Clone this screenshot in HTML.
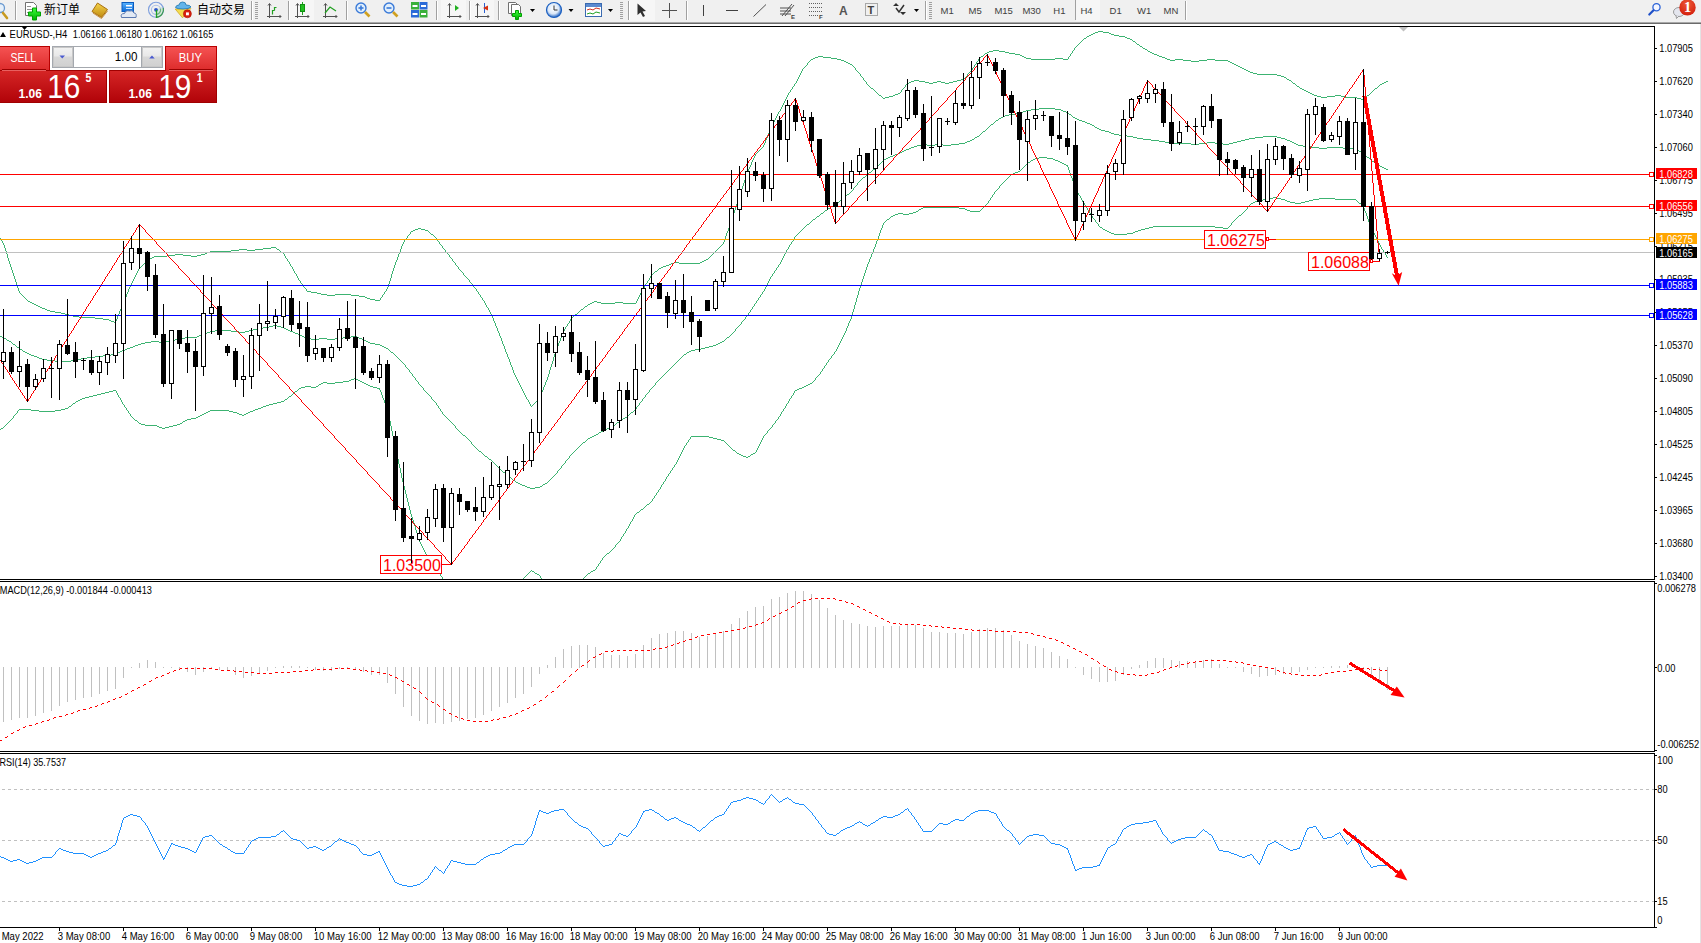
<!DOCTYPE html><html><head><meta charset="utf-8"><style>html,body{margin:0;padding:0;background:#fff;width:1701px;height:943px;overflow:hidden;position:relative;font-family:"Liberation Sans",Arial,sans-serif}#tb{position:absolute;left:0;top:0;width:1701px;height:22px;background:#f0f0f0}#tb1{position:absolute;left:0;top:22px;width:1701px;height:1px;background:#a9a9a9}#tb2{position:absolute;left:0;top:23px;width:1701px;height:1px;background:#6d6d6d}</style></head><body>
<svg width="1701" height="943" viewBox="0 0 1701 943" style="position:absolute;left:0;top:0">
<defs><clipPath id="cm"><rect x="0" y="27" width="1654" height="552"/></clipPath><clipPath id="cd"><rect x="0" y="582" width="1654" height="169"/></clipPath><clipPath id="cr"><rect x="0" y="754" width="1654" height="173"/></clipPath></defs>
<g shape-rendering="crispEdges" fill="none" stroke="#000" stroke-width="1">
<polyline points="0,26.5 1654.5,26.5 1654.5,579.5 0,579.5"/>
<polyline points="0,581.5 1654.5,581.5 1654.5,751.5 0,751.5"/>
<polyline points="0,753.5 1654.5,753.5 1654.5,927.5 0,927.5"/>
</g>
<path d="M22,27 L27,27 L24.5,30 Z" fill="#000"/>
<path d="M1399,27 L1408,27 L1403.5,31.5 Z" fill="#c0c0c0"/>
<g clip-path="url(#cm)">
<path fill="#3cb371" d="M1098 31h5v1h-5zM1095 32h3v1h-3zM1103 32h6v1h-6zM1093 33h2v1h-2zM1109 33h2v1h-2zM1091 34h2v1h-2zM1111 34h3v1h-3zM1089 35h2v1h-2zM1114 35h5v1h-5zM1087 36h2v1h-2zM1119 36h6v1h-6zM1086 37h1v1h-1zM1125 37h2v1h-2zM1084 38h2v1h-2zM1127 38h3v1h-3zM1083 39h1v1h-1zM1130 39h2v1h-2zM1082 40h1v1h-1zM1132 40h1v1h-1zM1081 41h1v1h-1zM1133 41h2v1h-2zM1080 42h1v1h-1zM1135 42h1v1h-1zM1079 43h1v1h-1zM1136 43h1v1h-1zM1078 44h1v1h-1zM1137 44h2v1h-2zM1077 45h1v1h-1zM1139 45h1v1h-1zM1076 46h1v1h-1zM1140 46h2v1h-2zM1075 47h1v1h-1zM1142 47h1v1h-1zM1074 48h1v1h-1zM1143 48h2v1h-2zM1074 49h1v1h-1zM1145 49h2v1h-2zM993 50h6v1h-6zM1073 50h1v1h-1zM1147 50h1v1h-1zM989 51h4v1h-4zM999 51h6v1h-6zM1072 51h1v1h-1zM1148 51h2v1h-2zM987 52h2v1h-2zM1005 52h4v1h-4zM1072 52h1v1h-1zM1150 52h2v1h-2zM985 53h2v1h-2zM1009 53h6v1h-6zM1071 53h1v1h-1zM1152 53h2v1h-2zM984 54h1v1h-1zM1015 54h5v1h-5zM1070 54h1v1h-1zM1154 54h3v1h-3zM983 55h1v1h-1zM1020 55h2v1h-2zM1070 55h1v1h-1zM1157 55h2v1h-2zM818 56h5v1h-5zM981 56h2v1h-2zM1022 56h2v1h-2zM1069 56h1v1h-1zM1159 56h3v1h-3zM815 57h3v1h-3zM823 57h8v1h-8zM980 57h1v1h-1zM1024 57h2v1h-2zM1068 57h1v1h-1zM1162 57h3v1h-3zM813 58h2v1h-2zM831 58h6v1h-6zM979 58h1v1h-1zM1026 58h5v1h-5zM1055 58h8v1h-8zM1068 58h1v1h-1zM1165 58h2v1h-2zM811 59h2v1h-2zM837 59h4v1h-4zM978 59h1v1h-1zM1031 59h24v1h-24zM1063 59h5v1h-5zM1167 59h3v1h-3zM1175 59h8v1h-8zM1207 59h8v1h-8zM810 60h1v1h-1zM841 60h3v1h-3zM978 60h1v1h-1zM1170 60h5v1h-5zM1183 60h8v1h-8zM1199 60h8v1h-8zM1215 60h13v1h-13zM809 61h1v1h-1zM844 61h2v1h-2zM977 61h1v1h-1zM1191 61h8v1h-8zM1228 61h2v1h-2zM808 62h1v1h-1zM846 62h2v1h-2zM976 62h1v1h-1zM1230 62h2v1h-2zM807 63h1v1h-1zM848 63h2v1h-2zM976 63h1v1h-1zM1232 63h2v1h-2zM807 64h1v1h-1zM850 64h2v1h-2zM975 64h1v1h-1zM1234 64h2v1h-2zM806 65h1v1h-1zM852 65h1v1h-1zM974 65h1v1h-1zM1236 65h2v1h-2zM805 66h1v1h-1zM853 66h1v1h-1zM974 66h1v1h-1zM1238 66h2v1h-2zM804 67h1v1h-1zM854 67h1v1h-1zM973 67h1v1h-1zM1240 67h2v1h-2zM803 68h1v1h-1zM855 68h1v1h-1zM972 68h1v1h-1zM1242 68h2v1h-2zM802 69h1v1h-1zM855 69h1v1h-1zM972 69h1v1h-1zM1244 69h2v1h-2zM802 70h1v1h-1zM856 70h1v1h-1zM971 70h1v1h-1zM1246 70h2v1h-2zM801 71h1v1h-1zM857 71h1v1h-1zM970 71h1v1h-1zM1248 71h2v1h-2zM801 72h1v1h-1zM858 72h1v1h-1zM969 72h1v1h-1zM1250 72h3v1h-3zM800 73h1v1h-1zM859 73h1v1h-1zM968 73h1v1h-1zM1253 73h4v1h-4zM800 74h1v1h-1zM860 74h1v1h-1zM967 74h1v1h-1zM1257 74h20v1h-20zM799 75h1v1h-1zM860 75h1v1h-1zM967 75h1v1h-1zM1277 75h4v1h-4zM799 76h1v1h-1zM861 76h1v1h-1zM966 76h1v1h-1zM1281 76h3v1h-3zM798 77h1v1h-1zM862 77h1v1h-1zM965 77h1v1h-1zM1284 77h2v1h-2zM798 78h1v1h-1zM863 78h1v1h-1zM964 78h1v1h-1zM1286 78h1v1h-1zM797 79h1v1h-1zM863 79h1v1h-1zM961 79h3v1h-3zM1287 79h2v1h-2zM797 80h1v1h-1zM864 80h1v1h-1zM914 80h5v1h-5zM957 80h4v1h-4zM1289 80h2v1h-2zM796 81h1v1h-1zM865 81h1v1h-1zM911 81h3v1h-3zM919 81h6v1h-6zM937 81h4v1h-4zM953 81h4v1h-4zM1291 81h1v1h-1zM1386 81h2v1h-2zM796 82h1v1h-1zM866 82h1v1h-1zM909 82h2v1h-2zM925 82h4v1h-4zM933 82h4v1h-4zM941 82h4v1h-4zM949 82h4v1h-4zM1292 82h1v1h-1zM1384 82h2v1h-2zM795 83h1v1h-1zM866 83h1v1h-1zM907 83h2v1h-2zM929 83h4v1h-4zM945 83h4v1h-4zM1293 83h2v1h-2zM1382 83h2v1h-2zM794 84h1v1h-1zM867 84h1v1h-1zM906 84h1v1h-1zM1295 84h1v1h-1zM1380 84h2v1h-2zM794 85h1v1h-1zM868 85h1v1h-1zM905 85h1v1h-1zM1296 85h1v1h-1zM1379 85h1v1h-1zM793 86h1v1h-1zM869 86h1v1h-1zM905 86h1v1h-1zM1297 86h2v1h-2zM1378 86h1v1h-1zM792 87h1v1h-1zM870 87h1v1h-1zM904 87h1v1h-1zM1299 87h1v1h-1zM1377 87h1v1h-1zM792 88h1v1h-1zM871 88h2v1h-2zM903 88h1v1h-1zM1300 88h2v1h-2zM1375 88h2v1h-2zM791 89h1v1h-1zM873 89h1v1h-1zM902 89h1v1h-1zM1302 89h2v1h-2zM1374 89h1v1h-1zM790 90h1v1h-1zM874 90h1v1h-1zM901 90h1v1h-1zM1304 90h2v1h-2zM1373 90h1v1h-1zM790 91h1v1h-1zM875 91h1v1h-1zM901 91h1v1h-1zM1306 91h2v1h-2zM1372 91h1v1h-1zM789 92h1v1h-1zM876 92h1v1h-1zM900 92h1v1h-1zM1308 92h2v1h-2zM1371 92h1v1h-1zM788 93h1v1h-1zM877 93h1v1h-1zM898 93h2v1h-2zM1310 93h2v1h-2zM1370 93h1v1h-1zM788 94h1v1h-1zM878 94h1v1h-1zM895 94h3v1h-3zM1312 94h2v1h-2zM1369 94h1v1h-1zM787 95h1v1h-1zM879 95h2v1h-2zM893 95h2v1h-2zM1314 95h3v1h-3zM1335 95h6v1h-6zM1367 95h2v1h-2zM787 96h1v1h-1zM881 96h1v1h-1zM889 96h4v1h-4zM1317 96h4v1h-4zM1327 96h8v1h-8zM1341 96h4v1h-4zM1366 96h1v1h-1zM786 97h1v1h-1zM882 97h1v1h-1zM885 97h4v1h-4zM1321 97h6v1h-6zM1345 97h12v1h-12zM1365 97h1v1h-1zM786 98h1v1h-1zM883 98h2v1h-2zM1357 98h4v1h-4zM1364 98h1v1h-1zM785 99h1v1h-1zM1361 99h3v1h-3zM785 100h1v1h-1zM784 101h1v1h-1zM784 102h1v1h-1zM783 103h1v1h-1zM783 104h1v1h-1zM782 105h1v1h-1zM782 106h1v1h-1zM781 107h1v1h-1zM781 108h1v1h-1zM780 109h1v1h-1zM780 110h1v1h-1zM779 111h1v1h-1zM778 112h1v1h-1zM778 113h1v1h-1zM777 114h1v1h-1zM777 115h1v1h-1zM776 116h1v1h-1zM776 117h1v1h-1zM775 118h1v1h-1zM775 119h1v1h-1zM774 120h1v1h-1zM774 121h1v1h-1zM773 122h1v1h-1zM773 123h1v1h-1zM772 124h1v1h-1zM772 125h1v1h-1zM771 126h1v1h-1zM771 127h1v1h-1zM770 128h1v1h-1zM770 129h1v1h-1zM769 130h1v1h-1zM769 131h1v1h-1zM769 132h1v1h-1zM768 133h1v1h-1zM768 134h1v1h-1zM767 135h1v1h-1zM767 136h1v1h-1zM767 137h1v1h-1zM766 138h1v1h-1zM766 139h1v1h-1zM765 140h1v1h-1zM765 141h1v1h-1zM765 142h1v1h-1zM764 143h1v1h-1zM764 144h1v1h-1zM763 145h1v1h-1zM763 146h1v1h-1zM762 147h1v1h-1zM761 148h1v1h-1zM760 149h1v1h-1zM759 150h1v1h-1zM758 151h1v1h-1zM757 152h1v1h-1zM756 153h1v1h-1zM755 154h1v1h-1zM755 155h1v1h-1zM754 156h1v1h-1zM754 157h1v1h-1zM753 158h1v1h-1zM753 159h1v1h-1zM752 160h1v1h-1zM752 161h1v1h-1zM751 162h1v1h-1zM751 163h1v1h-1zM751 164h1v1h-1zM750 165h1v1h-1zM750 166h1v1h-1zM749 167h1v1h-1zM749 168h1v1h-1zM748 169h1v1h-1zM748 170h1v1h-1zM747 171h1v1h-1zM747 172h1v1h-1zM747 173h1v1h-1zM746 174h1v1h-1zM746 175h1v1h-1zM746 176h1v1h-1zM745 177h1v1h-1zM745 178h1v1h-1zM745 179h1v1h-1zM744 180h1v1h-1zM744 181h1v1h-1zM744 182h1v1h-1zM743 183h1v1h-1zM743 184h1v1h-1zM743 185h1v1h-1zM742 186h1v1h-1zM742 187h1v1h-1zM742 188h1v1h-1zM741 189h1v1h-1zM741 190h1v1h-1zM741 191h1v1h-1zM740 192h1v1h-1zM740 193h1v1h-1zM740 194h1v1h-1zM739 195h1v1h-1zM739 196h1v1h-1zM739 197h1v1h-1zM738 198h1v1h-1zM738 199h1v1h-1zM738 200h1v1h-1zM737 201h1v1h-1zM737 202h1v1h-1zM737 203h1v1h-1zM736 204h1v1h-1zM736 205h1v1h-1zM736 206h1v1h-1zM735 207h1v1h-1zM735 208h1v1h-1zM735 209h1v1h-1zM734 210h1v1h-1zM734 211h1v1h-1zM734 212h1v1h-1zM733 213h1v1h-1zM733 214h1v1h-1zM733 215h1v1h-1zM732 216h1v1h-1zM732 217h1v1h-1zM732 218h1v1h-1zM731 219h1v1h-1zM731 220h1v1h-1zM731 221h1v1h-1zM730 222h1v1h-1zM730 223h1v1h-1zM730 224h1v1h-1zM729 225h1v1h-1zM729 226h1v1h-1zM729 227h1v1h-1zM418 228h3v1h-3zM728 228h1v1h-1zM415 229h3v1h-3zM421 229h4v1h-4zM728 229h1v1h-1zM413 230h2v1h-2zM425 230h3v1h-3zM728 230h1v1h-1zM411 231h2v1h-2zM428 231h1v1h-1zM727 231h1v1h-1zM410 232h1v1h-1zM429 232h1v1h-1zM727 232h1v1h-1zM410 233h1v1h-1zM430 233h1v1h-1zM726 233h1v1h-1zM409 234h1v1h-1zM431 234h2v1h-2zM726 234h1v1h-1zM408 235h1v1h-1zM433 235h1v1h-1zM726 235h1v1h-1zM407 236h1v1h-1zM434 236h1v1h-1zM725 236h1v1h-1zM407 237h1v1h-1zM435 237h1v1h-1zM725 237h1v1h-1zM0 238h1v1h-1zM406 238h1v1h-1zM436 238h1v1h-1zM725 238h1v1h-1zM1 239h1v1h-1zM405 239h1v1h-1zM436 239h1v1h-1zM724 239h1v1h-1zM1 240h1v1h-1zM404 240h1v1h-1zM437 240h1v1h-1zM724 240h1v1h-1zM2 241h1v1h-1zM404 241h1v1h-1zM438 241h1v1h-1zM724 241h1v1h-1zM2 242h1v1h-1zM403 242h1v1h-1zM439 242h1v1h-1zM723 242h1v1h-1zM3 243h1v1h-1zM403 243h1v1h-1zM439 243h1v1h-1zM723 243h1v1h-1zM3 244h1v1h-1zM402 244h1v1h-1zM440 244h1v1h-1zM722 244h1v1h-1zM4 245h1v1h-1zM402 245h1v1h-1zM441 245h1v1h-1zM721 245h1v1h-1zM4 246h1v1h-1zM401 246h1v1h-1zM442 246h1v1h-1zM720 246h1v1h-1zM4 247h1v1h-1zM271 247h5v1h-5zM401 247h1v1h-1zM442 247h1v1h-1zM719 247h1v1h-1zM5 248h1v1h-1zM263 248h8v1h-8zM276 248h1v1h-1zM401 248h1v1h-1zM443 248h1v1h-1zM718 248h1v1h-1zM5 249h1v1h-1zM239 249h8v1h-8zM255 249h8v1h-8zM277 249h2v1h-2zM400 249h1v1h-1zM444 249h1v1h-1zM717 249h1v1h-1zM5 250h1v1h-1zM231 250h8v1h-8zM247 250h8v1h-8zM279 250h1v1h-1zM400 250h1v1h-1zM445 250h1v1h-1zM716 250h1v1h-1zM6 251h1v1h-1zM210 251h21v1h-21zM280 251h1v1h-1zM400 251h1v1h-1zM445 251h1v1h-1zM715 251h1v1h-1zM6 252h1v1h-1zM207 252h3v1h-3zM281 252h2v1h-2zM399 252h1v1h-1zM446 252h1v1h-1zM714 252h1v1h-1zM6 253h1v1h-1zM205 253h2v1h-2zM283 253h1v1h-1zM399 253h1v1h-1zM447 253h1v1h-1zM713 253h1v1h-1zM7 254h1v1h-1zM175 254h8v1h-8zM201 254h4v1h-4zM284 254h1v1h-1zM398 254h1v1h-1zM448 254h1v1h-1zM712 254h1v1h-1zM7 255h1v1h-1zM167 255h8v1h-8zM183 255h8v1h-8zM197 255h4v1h-4zM284 255h1v1h-1zM398 255h1v1h-1zM449 255h1v1h-1zM711 255h1v1h-1zM7 256h1v1h-1zM154 256h13v1h-13zM191 256h6v1h-6zM285 256h1v1h-1zM398 256h1v1h-1zM449 256h1v1h-1zM710 256h1v1h-1zM7 257h1v1h-1zM152 257h2v1h-2zM285 257h1v1h-1zM397 257h1v1h-1zM450 257h1v1h-1zM709 257h1v1h-1zM8 258h1v1h-1zM150 258h2v1h-2zM286 258h1v1h-1zM397 258h1v1h-1zM451 258h1v1h-1zM708 258h1v1h-1zM8 259h1v1h-1zM148 259h2v1h-2zM287 259h1v1h-1zM397 259h1v1h-1zM452 259h1v1h-1zM706 259h2v1h-2zM8 260h1v1h-1zM147 260h1v1h-1zM287 260h1v1h-1zM396 260h1v1h-1zM452 260h1v1h-1zM704 260h2v1h-2zM9 261h1v1h-1zM146 261h1v1h-1zM288 261h1v1h-1zM396 261h1v1h-1zM453 261h1v1h-1zM702 261h2v1h-2zM9 262h1v1h-1zM145 262h1v1h-1zM289 262h1v1h-1zM395 262h1v1h-1zM454 262h1v1h-1zM674 262h5v1h-5zM700 262h2v1h-2zM9 263h1v1h-1zM144 263h1v1h-1zM289 263h1v1h-1zM395 263h1v1h-1zM455 263h1v1h-1zM671 263h3v1h-3zM679 263h21v1h-21zM10 264h1v1h-1zM143 264h1v1h-1zM290 264h1v1h-1zM395 264h1v1h-1zM455 264h1v1h-1zM669 264h2v1h-2zM10 265h1v1h-1zM142 265h1v1h-1zM290 265h1v1h-1zM394 265h1v1h-1zM456 265h1v1h-1zM666 265h3v1h-3zM10 266h1v1h-1zM141 266h1v1h-1zM291 266h1v1h-1zM394 266h1v1h-1zM457 266h1v1h-1zM663 266h3v1h-3zM11 267h1v1h-1zM140 267h1v1h-1zM292 267h1v1h-1zM394 267h1v1h-1zM458 267h1v1h-1zM661 267h2v1h-2zM11 268h1v1h-1zM139 268h1v1h-1zM292 268h1v1h-1zM393 268h1v1h-1zM458 268h1v1h-1zM659 268h2v1h-2zM11 269h1v1h-1zM138 269h1v1h-1zM293 269h1v1h-1zM393 269h1v1h-1zM459 269h1v1h-1zM658 269h1v1h-1zM12 270h1v1h-1zM138 270h1v1h-1zM293 270h1v1h-1zM393 270h1v1h-1zM460 270h1v1h-1zM657 270h1v1h-1zM12 271h1v1h-1zM137 271h1v1h-1zM294 271h1v1h-1zM392 271h1v1h-1zM461 271h1v1h-1zM655 271h2v1h-2zM12 272h1v1h-1zM137 272h1v1h-1zM294 272h1v1h-1zM392 272h1v1h-1zM462 272h1v1h-1zM654 272h1v1h-1zM13 273h1v1h-1zM136 273h1v1h-1zM295 273h1v1h-1zM392 273h1v1h-1zM463 273h1v1h-1zM653 273h1v1h-1zM13 274h1v1h-1zM136 274h1v1h-1zM296 274h1v1h-1zM391 274h1v1h-1zM463 274h1v1h-1zM652 274h1v1h-1zM13 275h1v1h-1zM135 275h1v1h-1zM296 275h1v1h-1zM391 275h1v1h-1zM464 275h1v1h-1zM651 275h1v1h-1zM14 276h1v1h-1zM135 276h1v1h-1zM297 276h1v1h-1zM391 276h1v1h-1zM465 276h1v1h-1zM650 276h1v1h-1zM14 277h1v1h-1zM134 277h1v1h-1zM297 277h1v1h-1zM391 277h1v1h-1zM466 277h1v1h-1zM650 277h1v1h-1zM14 278h1v1h-1zM134 278h1v1h-1zM298 278h1v1h-1zM390 278h1v1h-1zM467 278h1v1h-1zM649 278h1v1h-1zM15 279h1v1h-1zM133 279h1v1h-1zM298 279h1v1h-1zM390 279h1v1h-1zM468 279h1v1h-1zM649 279h1v1h-1zM15 280h1v1h-1zM133 280h1v1h-1zM299 280h1v1h-1zM390 280h1v1h-1zM469 280h1v1h-1zM648 280h1v1h-1zM15 281h1v1h-1zM132 281h1v1h-1zM300 281h1v1h-1zM389 281h1v1h-1zM469 281h1v1h-1zM647 281h1v1h-1zM16 282h1v1h-1zM132 282h1v1h-1zM300 282h1v1h-1zM389 282h1v1h-1zM470 282h1v1h-1zM647 282h1v1h-1zM16 283h1v1h-1zM131 283h1v1h-1zM301 283h1v1h-1zM389 283h1v1h-1zM471 283h1v1h-1zM646 283h1v1h-1zM16 284h1v1h-1zM131 284h1v1h-1zM302 284h1v1h-1zM388 284h1v1h-1zM472 284h1v1h-1zM645 284h1v1h-1zM17 285h1v1h-1zM130 285h1v1h-1zM303 285h1v1h-1zM388 285h1v1h-1zM473 285h1v1h-1zM645 285h1v1h-1zM17 286h1v1h-1zM130 286h1v1h-1zM303 286h1v1h-1zM388 286h1v1h-1zM473 286h1v1h-1zM644 286h1v1h-1zM17 287h1v1h-1zM129 287h1v1h-1zM304 287h1v1h-1zM387 287h1v1h-1zM474 287h1v1h-1zM644 287h1v1h-1zM18 288h1v1h-1zM129 288h1v1h-1zM305 288h1v1h-1zM387 288h1v1h-1zM475 288h1v1h-1zM643 288h1v1h-1zM18 289h1v1h-1zM128 289h1v1h-1zM306 289h1v1h-1zM386 289h1v1h-1zM476 289h1v1h-1zM642 289h1v1h-1zM18 290h1v1h-1zM128 290h1v1h-1zM306 290h1v1h-1zM386 290h1v1h-1zM476 290h1v1h-1zM642 290h1v1h-1zM19 291h1v1h-1zM128 291h1v1h-1zM307 291h4v1h-4zM385 291h1v1h-1zM477 291h1v1h-1zM641 291h1v1h-1zM19 292h1v1h-1zM127 292h1v1h-1zM311 292h6v1h-6zM384 292h1v1h-1zM478 292h1v1h-1zM641 292h1v1h-1zM20 293h1v1h-1zM127 293h1v1h-1zM317 293h4v1h-4zM384 293h1v1h-1zM478 293h1v1h-1zM640 293h1v1h-1zM21 294h1v1h-1zM126 294h1v1h-1zM321 294h6v1h-6zM335 294h16v1h-16zM383 294h1v1h-1zM479 294h1v1h-1zM640 294h1v1h-1zM22 295h1v1h-1zM126 295h1v1h-1zM327 295h8v1h-8zM351 295h8v1h-8zM382 295h1v1h-1zM480 295h1v1h-1zM639 295h1v1h-1zM23 296h1v1h-1zM126 296h1v1h-1zM359 296h6v1h-6zM382 296h1v1h-1zM480 296h1v1h-1zM639 296h1v1h-1zM24 297h1v1h-1zM125 297h1v1h-1zM365 297h2v1h-2zM381 297h1v1h-1zM481 297h1v1h-1zM638 297h1v1h-1zM25 298h1v1h-1zM125 298h1v1h-1zM367 298h3v1h-3zM380 298h1v1h-1zM482 298h1v1h-1zM638 298h1v1h-1zM26 299h1v1h-1zM124 299h1v1h-1zM370 299h5v1h-5zM380 299h1v1h-1zM482 299h1v1h-1zM637 299h1v1h-1zM27 300h1v1h-1zM124 300h1v1h-1zM375 300h5v1h-5zM483 300h1v1h-1zM637 300h1v1h-1zM28 301h2v1h-2zM123 301h1v1h-1zM484 301h1v1h-1zM594 301h3v1h-3zM636 301h1v1h-1zM30 302h2v1h-2zM123 302h1v1h-1zM484 302h1v1h-1zM592 302h2v1h-2zM597 302h4v1h-4zM615 302h8v1h-8zM636 302h1v1h-1zM32 303h2v1h-2zM123 303h1v1h-1zM485 303h1v1h-1zM590 303h2v1h-2zM601 303h14v1h-14zM623 303h13v1h-13zM34 304h2v1h-2zM122 304h1v1h-1zM485 304h1v1h-1zM588 304h2v1h-2zM36 305h2v1h-2zM122 305h1v1h-1zM486 305h1v1h-1zM587 305h1v1h-1zM38 306h2v1h-2zM121 306h1v1h-1zM486 306h1v1h-1zM585 306h2v1h-2zM40 307h2v1h-2zM121 307h1v1h-1zM487 307h1v1h-1zM584 307h1v1h-1zM42 308h3v1h-3zM121 308h1v1h-1zM488 308h1v1h-1zM583 308h1v1h-1zM45 309h2v1h-2zM120 309h1v1h-1zM488 309h1v1h-1zM581 309h2v1h-2zM47 310h3v1h-3zM120 310h1v1h-1zM489 310h1v1h-1zM580 310h1v1h-1zM50 311h5v1h-5zM119 311h1v1h-1zM489 311h1v1h-1zM579 311h1v1h-1zM55 312h6v1h-6zM119 312h1v1h-1zM490 312h1v1h-1zM578 312h1v1h-1zM61 313h4v1h-4zM119 313h1v1h-1zM490 313h1v1h-1zM577 313h1v1h-1zM65 314h4v1h-4zM118 314h1v1h-1zM491 314h1v1h-1zM575 314h2v1h-2zM69 315h4v1h-4zM118 315h1v1h-1zM491 315h1v1h-1zM574 315h1v1h-1zM73 316h6v1h-6zM117 316h1v1h-1zM492 316h1v1h-1zM573 316h1v1h-1zM79 317h16v1h-16zM117 317h1v1h-1zM492 317h1v1h-1zM572 317h1v1h-1zM95 318h8v1h-8zM117 318h1v1h-1zM493 318h1v1h-1zM571 318h1v1h-1zM103 319h6v1h-6zM116 319h1v1h-1zM493 319h1v1h-1zM570 319h1v1h-1zM109 320h2v1h-2zM116 320h1v1h-1zM493 320h1v1h-1zM570 320h1v1h-1zM111 321h3v1h-3zM115 321h1v1h-1zM494 321h1v1h-1zM569 321h1v1h-1zM114 322h2v1h-2zM494 322h1v1h-1zM569 322h1v1h-1zM495 323h1v1h-1zM568 323h1v1h-1zM495 324h1v1h-1zM567 324h1v1h-1zM495 325h1v1h-1zM567 325h1v1h-1zM496 326h1v1h-1zM566 326h1v1h-1zM496 327h1v1h-1zM565 327h1v1h-1zM497 328h1v1h-1zM565 328h1v1h-1zM497 329h1v1h-1zM564 329h1v1h-1zM497 330h1v1h-1zM564 330h1v1h-1zM498 331h1v1h-1zM563 331h1v1h-1zM498 332h1v1h-1zM563 332h1v1h-1zM499 333h1v1h-1zM562 333h1v1h-1zM499 334h1v1h-1zM562 334h1v1h-1zM499 335h1v1h-1zM561 335h1v1h-1zM500 336h1v1h-1zM561 336h1v1h-1zM500 337h1v1h-1zM561 337h1v1h-1zM501 338h1v1h-1zM560 338h1v1h-1zM501 339h1v1h-1zM560 339h1v1h-1zM501 340h1v1h-1zM560 340h1v1h-1zM502 341h1v1h-1zM559 341h1v1h-1zM502 342h1v1h-1zM559 342h1v1h-1zM502 343h1v1h-1zM558 343h1v1h-1zM503 344h1v1h-1zM558 344h1v1h-1zM503 345h1v1h-1zM558 345h1v1h-1zM504 346h1v1h-1zM557 346h1v1h-1zM504 347h1v1h-1zM557 347h1v1h-1zM504 348h1v1h-1zM557 348h1v1h-1zM505 349h1v1h-1zM556 349h1v1h-1zM505 350h1v1h-1zM556 350h1v1h-1zM505 351h1v1h-1zM555 351h1v1h-1zM506 352h1v1h-1zM555 352h1v1h-1zM506 353h1v1h-1zM555 353h1v1h-1zM507 354h1v1h-1zM554 354h1v1h-1zM507 355h1v1h-1zM554 355h1v1h-1zM507 356h1v1h-1zM554 356h1v1h-1zM508 357h1v1h-1zM553 357h1v1h-1zM508 358h1v1h-1zM553 358h1v1h-1zM509 359h1v1h-1zM553 359h1v1h-1zM509 360h1v1h-1zM553 360h1v1h-1zM509 361h1v1h-1zM552 361h1v1h-1zM510 362h1v1h-1zM552 362h1v1h-1zM510 363h1v1h-1zM552 363h1v1h-1zM510 364h1v1h-1zM551 364h1v1h-1zM511 365h1v1h-1zM551 365h1v1h-1zM511 366h1v1h-1zM551 366h1v1h-1zM512 367h1v1h-1zM550 367h1v1h-1zM512 368h1v1h-1zM550 368h1v1h-1zM512 369h1v1h-1zM550 369h1v1h-1zM513 370h1v1h-1zM549 370h1v1h-1zM513 371h1v1h-1zM549 371h1v1h-1zM513 372h1v1h-1zM549 372h1v1h-1zM514 373h1v1h-1zM549 373h1v1h-1zM514 374h1v1h-1zM548 374h1v1h-1zM515 375h1v1h-1zM548 375h1v1h-1zM515 376h1v1h-1zM548 376h1v1h-1zM516 377h1v1h-1zM547 377h1v1h-1zM516 378h1v1h-1zM547 378h1v1h-1zM517 379h1v1h-1zM547 379h1v1h-1zM517 380h1v1h-1zM546 380h1v1h-1zM518 381h1v1h-1zM546 381h1v1h-1zM518 382h1v1h-1zM545 382h1v1h-1zM519 383h1v1h-1zM545 383h1v1h-1zM519 384h1v1h-1zM545 384h1v1h-1zM520 385h1v1h-1zM544 385h1v1h-1zM520 386h1v1h-1zM544 386h1v1h-1zM521 387h1v1h-1zM543 387h1v1h-1zM521 388h1v1h-1zM543 388h1v1h-1zM522 389h1v1h-1zM543 389h1v1h-1zM522 390h1v1h-1zM542 390h1v1h-1zM523 391h1v1h-1zM542 391h1v1h-1zM523 392h1v1h-1zM541 392h1v1h-1zM524 393h1v1h-1zM541 393h1v1h-1zM524 394h1v1h-1zM541 394h1v1h-1zM525 395h1v1h-1zM540 395h1v1h-1zM525 396h1v1h-1zM540 396h1v1h-1zM526 397h1v1h-1zM539 397h1v1h-1zM526 398h1v1h-1zM539 398h1v1h-1zM527 399h1v1h-1zM538 399h1v1h-1zM528 400h1v1h-1zM537 400h1v1h-1zM528 401h1v1h-1zM536 401h1v1h-1zM529 402h1v1h-1zM535 402h1v1h-1zM529 403h1v1h-1zM534 403h1v1h-1zM530 404h1v1h-1zM533 404h1v1h-1zM530 405h1v1h-1zM532 405h1v1h-1zM531 406h1v1h-1z"/>
<path fill="#3cb371" d="M1039 108h16v1h-16zM1031 109h8v1h-8zM1055 109h6v1h-6zM1026 110h5v1h-5zM1061 110h2v1h-2zM1023 111h3v1h-3zM1063 111h3v1h-3zM1021 112h2v1h-2zM1066 112h2v1h-2zM1015 113h6v1h-6zM1068 113h1v1h-1zM1009 114h6v1h-6zM1069 114h2v1h-2zM1005 115h4v1h-4zM1071 115h1v1h-1zM1003 116h2v1h-2zM1072 116h1v1h-1zM1001 117h2v1h-2zM1073 117h2v1h-2zM999 118h2v1h-2zM1075 118h2v1h-2zM998 119h1v1h-1zM1077 119h2v1h-2zM996 120h2v1h-2zM1079 120h3v1h-3zM995 121h1v1h-1zM1082 121h3v1h-3zM994 122h1v1h-1zM1085 122h2v1h-2zM993 123h1v1h-1zM1087 123h3v1h-3zM991 124h2v1h-2zM1090 124h2v1h-2zM990 125h1v1h-1zM1092 125h2v1h-2zM989 126h1v1h-1zM1094 126h1v1h-1zM988 127h1v1h-1zM1095 127h2v1h-2zM987 128h1v1h-1zM1097 128h2v1h-2zM986 129h1v1h-1zM1099 129h2v1h-2zM985 130h1v1h-1zM1101 130h4v1h-4zM983 131h2v1h-2zM1105 131h4v1h-4zM982 132h1v1h-1zM1109 132h2v1h-2zM981 133h1v1h-1zM1111 133h3v1h-3zM980 134h1v1h-1zM1114 134h5v1h-5zM979 135h1v1h-1zM1119 135h8v1h-8zM977 136h2v1h-2zM1127 136h6v1h-6zM1263 136h14v1h-14zM975 137h2v1h-2zM1133 137h4v1h-4zM1255 137h8v1h-8zM1277 137h4v1h-4zM974 138h1v1h-1zM1137 138h6v1h-6zM1249 138h6v1h-6zM1281 138h4v1h-4zM972 139h2v1h-2zM1143 139h8v1h-8zM1245 139h4v1h-4zM1285 139h2v1h-2zM970 140h2v1h-2zM1151 140h8v1h-8zM1241 140h4v1h-4zM1287 140h3v1h-3zM967 141h3v1h-3zM1159 141h6v1h-6zM1237 141h4v1h-4zM1290 141h2v1h-2zM965 142h2v1h-2zM1165 142h4v1h-4zM1207 142h8v1h-8zM1233 142h4v1h-4zM1292 142h2v1h-2zM959 143h6v1h-6zM1169 143h22v1h-22zM1199 143h8v1h-8zM1215 143h8v1h-8zM1229 143h4v1h-4zM1294 143h2v1h-2zM921 144h6v1h-6zM935 144h8v1h-8zM951 144h8v1h-8zM1191 144h8v1h-8zM1223 144h6v1h-6zM1296 144h2v1h-2zM917 145h4v1h-4zM927 145h8v1h-8zM943 145h8v1h-8zM1298 145h5v1h-5zM914 146h3v1h-3zM1303 146h8v1h-8zM911 147h3v1h-3zM1311 147h8v1h-8zM1327 147h16v1h-16zM909 148h2v1h-2zM1319 148h8v1h-8zM1343 148h13v1h-13zM906 149h3v1h-3zM1356 149h2v1h-2zM904 150h2v1h-2zM1358 150h1v1h-1zM902 151h2v1h-2zM1359 151h2v1h-2zM900 152h2v1h-2zM1361 152h2v1h-2zM898 153h2v1h-2zM1363 153h1v1h-1zM895 154h3v1h-3zM1364 154h1v1h-1zM893 155h2v1h-2zM1365 155h1v1h-1zM890 156h3v1h-3zM1366 156h1v1h-1zM888 157h2v1h-2zM1367 157h2v1h-2zM886 158h2v1h-2zM1369 158h1v1h-1zM884 159h2v1h-2zM1370 159h1v1h-1zM883 160h1v1h-1zM1371 160h1v1h-1zM882 161h1v1h-1zM1372 161h2v1h-2zM881 162h1v1h-1zM1374 162h1v1h-1zM880 163h1v1h-1zM1375 163h2v1h-2zM879 164h1v1h-1zM1377 164h2v1h-2zM878 165h1v1h-1zM1379 165h1v1h-1zM877 166h1v1h-1zM1380 166h2v1h-2zM876 167h1v1h-1zM1382 167h2v1h-2zM875 168h1v1h-1zM1384 168h2v1h-2zM873 169h2v1h-2zM1386 169h2v1h-2zM872 170h1v1h-1zM871 171h1v1h-1zM869 172h2v1h-2zM868 173h1v1h-1zM867 174h1v1h-1zM866 175h1v1h-1zM865 176h1v1h-1zM863 177h2v1h-2zM862 178h1v1h-1zM861 179h1v1h-1zM860 180h1v1h-1zM859 181h1v1h-1zM858 182h1v1h-1zM857 183h1v1h-1zM857 184h1v1h-1zM856 185h1v1h-1zM855 186h1v1h-1zM854 187h1v1h-1zM853 188h1v1h-1zM853 189h1v1h-1zM852 190h1v1h-1zM851 191h1v1h-1zM850 192h1v1h-1zM849 193h1v1h-1zM847 194h2v1h-2zM846 195h1v1h-1zM845 196h1v1h-1zM844 197h1v1h-1zM843 198h1v1h-1zM841 199h2v1h-2zM840 200h1v1h-1zM839 201h1v1h-1zM837 202h2v1h-2zM836 203h1v1h-1zM835 204h1v1h-1zM833 205h2v1h-2zM831 206h2v1h-2zM830 207h1v1h-1zM828 208h2v1h-2zM827 209h1v1h-1zM825 210h2v1h-2zM824 211h1v1h-1zM823 212h1v1h-1zM821 213h2v1h-2zM820 214h1v1h-1zM819 215h1v1h-1zM817 216h2v1h-2zM816 217h1v1h-1zM815 218h1v1h-1zM813 219h2v1h-2zM812 220h1v1h-1zM811 221h1v1h-1zM810 222h1v1h-1zM809 223h1v1h-1zM807 224h2v1h-2zM806 225h1v1h-1zM805 226h1v1h-1zM804 227h1v1h-1zM803 228h1v1h-1zM802 229h1v1h-1zM801 230h1v1h-1zM800 231h1v1h-1zM799 232h1v1h-1zM798 233h1v1h-1zM797 234h1v1h-1zM796 235h1v1h-1zM795 236h1v1h-1zM794 237h1v1h-1zM794 238h1v1h-1zM793 239h1v1h-1zM793 240h1v1h-1zM792 241h1v1h-1zM791 242h1v1h-1zM791 243h1v1h-1zM790 244h1v1h-1zM789 245h1v1h-1zM789 246h1v1h-1zM788 247h1v1h-1zM788 248h1v1h-1zM787 249h1v1h-1zM786 250h1v1h-1zM786 251h1v1h-1zM785 252h1v1h-1zM785 253h1v1h-1zM784 254h1v1h-1zM784 255h1v1h-1zM783 256h1v1h-1zM783 257h1v1h-1zM782 258h1v1h-1zM782 259h1v1h-1zM781 260h1v1h-1zM781 261h1v1h-1zM780 262h1v1h-1zM780 263h1v1h-1zM779 264h1v1h-1zM778 265h1v1h-1zM778 266h1v1h-1zM777 267h1v1h-1zM776 268h1v1h-1zM776 269h1v1h-1zM775 270h1v1h-1zM774 271h1v1h-1zM774 272h1v1h-1zM773 273h1v1h-1zM772 274h1v1h-1zM772 275h1v1h-1zM771 276h1v1h-1zM770 277h1v1h-1zM770 278h1v1h-1zM769 279h1v1h-1zM769 280h1v1h-1zM768 281h1v1h-1zM768 282h1v1h-1zM767 283h1v1h-1zM767 284h1v1h-1zM766 285h1v1h-1zM766 286h1v1h-1zM765 287h1v1h-1zM765 288h1v1h-1zM764 289h1v1h-1zM764 290h1v1h-1zM763 291h1v1h-1zM762 292h1v1h-1zM762 293h1v1h-1zM761 294h1v1h-1zM760 295h1v1h-1zM760 296h1v1h-1zM759 297h1v1h-1zM758 298h1v1h-1zM758 299h1v1h-1zM757 300h1v1h-1zM756 301h1v1h-1zM756 302h1v1h-1zM755 303h1v1h-1zM754 304h1v1h-1zM754 305h1v1h-1zM753 306h1v1h-1zM752 307h1v1h-1zM752 308h1v1h-1zM751 309h1v1h-1zM750 310h1v1h-1zM750 311h1v1h-1zM749 312h1v1h-1zM748 313h1v1h-1zM748 314h1v1h-1zM747 315h1v1h-1zM746 316h1v1h-1zM745 317h1v1h-1zM745 318h1v1h-1zM744 319h1v1h-1zM743 320h1v1h-1zM742 321h1v1h-1zM741 322h1v1h-1zM741 323h1v1h-1zM740 324h1v1h-1zM273 325h4v1h-4zM739 325h1v1h-1zM269 326h4v1h-4zM277 326h4v1h-4zM738 326h1v1h-1zM263 327h6v1h-6zM281 327h3v1h-3zM737 327h1v1h-1zM257 328h6v1h-6zM284 328h2v1h-2zM736 328h1v1h-1zM253 329h4v1h-4zM286 329h2v1h-2zM735 329h1v1h-1zM215 330h16v1h-16zM249 330h4v1h-4zM288 330h2v1h-2zM735 330h1v1h-1zM210 331h5v1h-5zM231 331h8v1h-8zM245 331h4v1h-4zM290 331h3v1h-3zM734 331h1v1h-1zM207 332h3v1h-3zM239 332h6v1h-6zM293 332h2v1h-2zM733 332h1v1h-1zM205 333h2v1h-2zM295 333h3v1h-3zM732 333h1v1h-1zM202 334h3v1h-3zM298 334h2v1h-2zM731 334h1v1h-1zM199 335h3v1h-3zM300 335h2v1h-2zM730 335h1v1h-1zM0 336h2v1h-2zM197 336h2v1h-2zM302 336h2v1h-2zM351 336h6v1h-6zM729 336h1v1h-1zM2 337h2v1h-2zM185 337h12v1h-12zM304 337h2v1h-2zM343 337h8v1h-8zM357 337h2v1h-2zM727 337h2v1h-2zM4 338h2v1h-2zM181 338h4v1h-4zM306 338h5v1h-5zM319 338h8v1h-8zM335 338h8v1h-8zM359 338h3v1h-3zM726 338h1v1h-1zM6 339h1v1h-1zM175 339h6v1h-6zM311 339h8v1h-8zM327 339h8v1h-8zM362 339h2v1h-2zM725 339h1v1h-1zM7 340h2v1h-2zM169 340h6v1h-6zM364 340h2v1h-2zM724 340h1v1h-1zM9 341h2v1h-2zM151 341h8v1h-8zM165 341h4v1h-4zM366 341h2v1h-2zM722 341h2v1h-2zM11 342h1v1h-1zM145 342h6v1h-6zM159 342h6v1h-6zM368 342h2v1h-2zM720 342h2v1h-2zM12 343h1v1h-1zM141 343h4v1h-4zM370 343h5v1h-5zM718 343h2v1h-2zM13 344h2v1h-2zM138 344h3v1h-3zM375 344h5v1h-5zM716 344h2v1h-2zM15 345h1v1h-1zM135 345h3v1h-3zM380 345h2v1h-2zM713 345h3v1h-3zM16 346h1v1h-1zM133 346h2v1h-2zM382 346h2v1h-2zM709 346h4v1h-4zM17 347h2v1h-2zM130 347h3v1h-3zM384 347h2v1h-2zM705 347h4v1h-4zM19 348h1v1h-1zM127 348h3v1h-3zM386 348h2v1h-2zM701 348h4v1h-4zM20 349h2v1h-2zM125 349h2v1h-2zM388 349h1v1h-1zM695 349h6v1h-6zM22 350h1v1h-1zM122 350h3v1h-3zM389 350h1v1h-1zM691 350h4v1h-4zM23 351h2v1h-2zM120 351h2v1h-2zM390 351h1v1h-1zM689 351h2v1h-2zM25 352h2v1h-2zM118 352h2v1h-2zM391 352h2v1h-2zM687 352h2v1h-2zM27 353h2v1h-2zM116 353h2v1h-2zM393 353h1v1h-1zM686 353h1v1h-1zM29 354h2v1h-2zM111 354h5v1h-5zM394 354h1v1h-1zM684 354h2v1h-2zM31 355h3v1h-3zM103 355h8v1h-8zM395 355h1v1h-1zM683 355h1v1h-1zM34 356h3v1h-3zM95 356h8v1h-8zM396 356h1v1h-1zM682 356h1v1h-1zM37 357h2v1h-2zM87 357h8v1h-8zM397 357h1v1h-1zM681 357h1v1h-1zM39 358h3v1h-3zM81 358h6v1h-6zM398 358h1v1h-1zM680 358h1v1h-1zM42 359h5v1h-5zM77 359h4v1h-4zM399 359h1v1h-1zM679 359h1v1h-1zM47 360h8v1h-8zM71 360h6v1h-6zM400 360h1v1h-1zM678 360h1v1h-1zM55 361h16v1h-16zM401 361h1v1h-1zM677 361h1v1h-1zM402 362h1v1h-1zM676 362h1v1h-1zM403 363h1v1h-1zM675 363h1v1h-1zM404 364h1v1h-1zM674 364h1v1h-1zM405 365h1v1h-1zM673 365h1v1h-1zM405 366h1v1h-1zM672 366h1v1h-1zM406 367h1v1h-1zM671 367h1v1h-1zM407 368h1v1h-1zM670 368h1v1h-1zM408 369h1v1h-1zM669 369h1v1h-1zM409 370h1v1h-1zM668 370h1v1h-1zM409 371h1v1h-1zM667 371h1v1h-1zM410 372h1v1h-1zM666 372h1v1h-1zM411 373h1v1h-1zM665 373h1v1h-1zM412 374h1v1h-1zM664 374h1v1h-1zM412 375h1v1h-1zM663 375h1v1h-1zM413 376h1v1h-1zM662 376h1v1h-1zM414 377h1v1h-1zM661 377h1v1h-1zM415 378h1v1h-1zM660 378h1v1h-1zM415 379h1v1h-1zM659 379h1v1h-1zM416 380h1v1h-1zM658 380h1v1h-1zM417 381h1v1h-1zM657 381h1v1h-1zM418 382h1v1h-1zM656 382h1v1h-1zM418 383h1v1h-1zM655 383h1v1h-1zM419 384h1v1h-1zM655 384h1v1h-1zM420 385h1v1h-1zM654 385h1v1h-1zM421 386h1v1h-1zM653 386h1v1h-1zM422 387h1v1h-1zM652 387h1v1h-1zM423 388h1v1h-1zM651 388h1v1h-1zM423 389h1v1h-1zM650 389h1v1h-1zM424 390h1v1h-1zM649 390h1v1h-1zM425 391h1v1h-1zM649 391h1v1h-1zM426 392h1v1h-1zM648 392h1v1h-1zM427 393h1v1h-1zM647 393h1v1h-1zM428 394h1v1h-1zM646 394h1v1h-1zM429 395h1v1h-1zM645 395h1v1h-1zM430 396h1v1h-1zM645 396h1v1h-1zM431 397h1v1h-1zM644 397h1v1h-1zM431 398h1v1h-1zM643 398h1v1h-1zM432 399h1v1h-1zM642 399h1v1h-1zM433 400h1v1h-1zM642 400h1v1h-1zM434 401h1v1h-1zM641 401h1v1h-1zM435 402h1v1h-1zM640 402h1v1h-1zM436 403h1v1h-1zM639 403h1v1h-1zM436 404h1v1h-1zM639 404h1v1h-1zM437 405h1v1h-1zM638 405h1v1h-1zM438 406h1v1h-1zM637 406h1v1h-1zM438 407h1v1h-1zM636 407h1v1h-1zM439 408h1v1h-1zM636 408h1v1h-1zM440 409h1v1h-1zM635 409h1v1h-1zM440 410h1v1h-1zM634 410h1v1h-1zM441 411h1v1h-1zM633 411h1v1h-1zM442 412h1v1h-1zM631 412h2v1h-2zM442 413h1v1h-1zM630 413h1v1h-1zM443 414h1v1h-1zM629 414h1v1h-1zM444 415h1v1h-1zM628 415h1v1h-1zM445 416h1v1h-1zM627 416h1v1h-1zM446 417h1v1h-1zM625 417h2v1h-2zM447 418h1v1h-1zM623 418h2v1h-2zM448 419h1v1h-1zM622 419h1v1h-1zM449 420h1v1h-1zM620 420h2v1h-2zM450 421h1v1h-1zM619 421h1v1h-1zM451 422h1v1h-1zM617 422h2v1h-2zM452 423h1v1h-1zM616 423h1v1h-1zM453 424h1v1h-1zM615 424h1v1h-1zM454 425h1v1h-1zM613 425h2v1h-2zM455 426h1v1h-1zM612 426h1v1h-1zM455 427h1v1h-1zM610 427h2v1h-2zM456 428h1v1h-1zM607 428h3v1h-3zM457 429h1v1h-1zM605 429h2v1h-2zM458 430h1v1h-1zM603 430h2v1h-2zM459 431h1v1h-1zM601 431h2v1h-2zM460 432h1v1h-1zM599 432h2v1h-2zM461 433h1v1h-1zM598 433h1v1h-1zM462 434h1v1h-1zM596 434h2v1h-2zM463 435h2v1h-2zM594 435h2v1h-2zM465 436h1v1h-1zM592 436h2v1h-2zM466 437h1v1h-1zM590 437h2v1h-2zM467 438h1v1h-1zM588 438h2v1h-2zM468 439h1v1h-1zM587 439h1v1h-1zM469 440h1v1h-1zM586 440h1v1h-1zM470 441h1v1h-1zM585 441h1v1h-1zM471 442h1v1h-1zM583 442h2v1h-2zM471 443h1v1h-1zM582 443h1v1h-1zM472 444h1v1h-1zM581 444h1v1h-1zM473 445h1v1h-1zM580 445h1v1h-1zM474 446h1v1h-1zM579 446h1v1h-1zM475 447h1v1h-1zM578 447h1v1h-1zM476 448h1v1h-1zM577 448h1v1h-1zM477 449h1v1h-1zM576 449h1v1h-1zM478 450h1v1h-1zM575 450h1v1h-1zM479 451h2v1h-2zM574 451h1v1h-1zM481 452h1v1h-1zM573 452h1v1h-1zM482 453h1v1h-1zM572 453h1v1h-1zM483 454h1v1h-1zM571 454h1v1h-1zM484 455h1v1h-1zM570 455h1v1h-1zM485 456h2v1h-2zM569 456h1v1h-1zM487 457h1v1h-1zM569 457h1v1h-1zM488 458h1v1h-1zM568 458h1v1h-1zM489 459h2v1h-2zM567 459h1v1h-1zM491 460h1v1h-1zM566 460h1v1h-1zM492 461h1v1h-1zM565 461h1v1h-1zM493 462h1v1h-1zM565 462h1v1h-1zM494 463h1v1h-1zM564 463h1v1h-1zM495 464h1v1h-1zM563 464h1v1h-1zM496 465h1v1h-1zM562 465h1v1h-1zM497 466h1v1h-1zM561 466h1v1h-1zM498 467h1v1h-1zM561 467h1v1h-1zM499 468h1v1h-1zM560 468h1v1h-1zM500 469h1v1h-1zM559 469h1v1h-1zM501 470h1v1h-1zM558 470h1v1h-1zM502 471h1v1h-1zM557 471h1v1h-1zM503 472h2v1h-2zM557 472h1v1h-1zM505 473h1v1h-1zM556 473h1v1h-1zM506 474h1v1h-1zM555 474h1v1h-1zM507 475h1v1h-1zM554 475h1v1h-1zM508 476h1v1h-1zM553 476h1v1h-1zM509 477h2v1h-2zM552 477h1v1h-1zM511 478h1v1h-1zM551 478h1v1h-1zM512 479h1v1h-1zM550 479h1v1h-1zM513 480h2v1h-2zM549 480h1v1h-1zM515 481h1v1h-1zM548 481h1v1h-1zM516 482h2v1h-2zM547 482h1v1h-1zM518 483h2v1h-2zM545 483h2v1h-2zM520 484h2v1h-2zM543 484h2v1h-2zM522 485h3v1h-3zM542 485h1v1h-1zM525 486h2v1h-2zM540 486h2v1h-2zM527 487h3v1h-3zM535 487h5v1h-5zM530 488h5v1h-5z"/>
<path fill="#3cb371" d="M1039 157h8v1h-8zM1035 158h4v1h-4zM1047 158h6v1h-6zM1033 159h2v1h-2zM1053 159h2v1h-2zM1031 160h2v1h-2zM1055 160h3v1h-3zM1030 161h1v1h-1zM1058 161h2v1h-2zM1028 162h2v1h-2zM1060 162h2v1h-2zM1027 163h1v1h-1zM1062 163h2v1h-2zM1026 164h1v1h-1zM1064 164h2v1h-2zM1025 165h1v1h-1zM1066 165h2v1h-2zM1024 166h1v1h-1zM1067 166h1v1h-1zM1023 167h1v1h-1zM1068 167h1v1h-1zM1022 168h1v1h-1zM1068 168h1v1h-1zM1021 169h1v1h-1zM1068 169h1v1h-1zM1020 170h1v1h-1zM1069 170h1v1h-1zM1018 171h2v1h-2zM1069 171h1v1h-1zM1015 172h3v1h-3zM1069 172h1v1h-1zM1013 173h2v1h-2zM1070 173h1v1h-1zM1011 174h2v1h-2zM1070 174h1v1h-1zM1010 175h1v1h-1zM1070 175h1v1h-1zM1009 176h1v1h-1zM1071 176h1v1h-1zM1008 177h1v1h-1zM1071 177h1v1h-1zM1007 178h1v1h-1zM1072 178h1v1h-1zM1006 179h1v1h-1zM1072 179h1v1h-1zM1005 180h1v1h-1zM1072 180h1v1h-1zM1004 181h1v1h-1zM1073 181h1v1h-1zM1003 182h1v1h-1zM1073 182h1v1h-1zM1002 183h1v1h-1zM1073 183h1v1h-1zM1001 184h1v1h-1zM1074 184h1v1h-1zM1000 185h1v1h-1zM1074 185h1v1h-1zM999 186h1v1h-1zM1074 186h1v1h-1zM999 187h1v1h-1zM1075 187h1v1h-1zM998 188h1v1h-1zM1075 188h1v1h-1zM997 189h1v1h-1zM1076 189h1v1h-1zM996 190h1v1h-1zM1076 190h1v1h-1zM995 191h1v1h-1zM1077 191h1v1h-1zM994 192h1v1h-1zM1077 192h1v1h-1zM994 193h1v1h-1zM1078 193h1v1h-1zM993 194h1v1h-1zM1078 194h1v1h-1zM992 195h1v1h-1zM1079 195h1v1h-1zM992 196h1v1h-1zM1080 196h1v1h-1zM991 197h1v1h-1zM1080 197h1v1h-1zM1273 197h4v1h-4zM990 198h1v1h-1zM1081 198h1v1h-1zM1269 198h4v1h-4zM1277 198h4v1h-4zM1319 198h16v1h-16zM990 199h1v1h-1zM1081 199h1v1h-1zM1263 199h6v1h-6zM1281 199h4v1h-4zM1313 199h6v1h-6zM1335 199h21v1h-21zM989 200h1v1h-1zM1082 200h1v1h-1zM1258 200h5v1h-5zM1285 200h2v1h-2zM1309 200h4v1h-4zM1356 200h1v1h-1zM988 201h1v1h-1zM1082 201h1v1h-1zM1255 201h3v1h-3zM1287 201h3v1h-3zM1305 201h4v1h-4zM1357 201h1v1h-1zM988 202h1v1h-1zM1083 202h1v1h-1zM1253 202h2v1h-2zM1290 202h5v1h-5zM1301 202h4v1h-4zM1358 202h1v1h-1zM987 203h1v1h-1zM1084 203h1v1h-1zM1251 203h2v1h-2zM1295 203h6v1h-6zM1359 203h2v1h-2zM986 204h1v1h-1zM1084 204h1v1h-1zM1250 204h1v1h-1zM1361 204h1v1h-1zM985 205h1v1h-1zM1085 205h1v1h-1zM1249 205h1v1h-1zM1362 205h1v1h-1zM984 206h1v1h-1zM1085 206h1v1h-1zM1248 206h1v1h-1zM1363 206h1v1h-1zM923 207h36v1h-36zM983 207h1v1h-1zM1086 207h1v1h-1zM1247 207h1v1h-1zM1363 207h1v1h-1zM921 208h2v1h-2zM959 208h6v1h-6zM982 208h1v1h-1zM1087 208h1v1h-1zM1247 208h1v1h-1zM1364 208h1v1h-1zM919 209h2v1h-2zM965 209h2v1h-2zM981 209h1v1h-1zM1087 209h1v1h-1zM1246 209h1v1h-1zM1364 209h1v1h-1zM918 210h1v1h-1zM967 210h3v1h-3zM980 210h1v1h-1zM1088 210h1v1h-1zM1245 210h1v1h-1zM1364 210h1v1h-1zM916 211h2v1h-2zM970 211h10v1h-10zM1089 211h1v1h-1zM1244 211h1v1h-1zM1365 211h1v1h-1zM913 212h3v1h-3zM1089 212h1v1h-1zM1243 212h1v1h-1zM1365 212h1v1h-1zM898 213h5v1h-5zM909 213h4v1h-4zM1090 213h1v1h-1zM1242 213h1v1h-1zM1366 213h1v1h-1zM895 214h3v1h-3zM903 214h6v1h-6zM1090 214h1v1h-1zM1241 214h1v1h-1zM1366 214h1v1h-1zM893 215h2v1h-2zM1091 215h1v1h-1zM1239 215h2v1h-2zM1366 215h1v1h-1zM891 216h2v1h-2zM1092 216h1v1h-1zM1238 216h1v1h-1zM1367 216h1v1h-1zM890 217h1v1h-1zM1092 217h1v1h-1zM1237 217h1v1h-1zM1367 217h1v1h-1zM889 218h1v1h-1zM1093 218h1v1h-1zM1236 218h1v1h-1zM1367 218h1v1h-1zM887 219h2v1h-2zM1094 219h1v1h-1zM1235 219h1v1h-1zM1368 219h1v1h-1zM886 220h1v1h-1zM1095 220h1v1h-1zM1234 220h1v1h-1zM1368 220h1v1h-1zM885 221h1v1h-1zM1095 221h1v1h-1zM1233 221h1v1h-1zM1368 221h1v1h-1zM884 222h1v1h-1zM1096 222h1v1h-1zM1232 222h1v1h-1zM1369 222h1v1h-1zM883 223h1v1h-1zM1097 223h1v1h-1zM1231 223h1v1h-1zM1369 223h1v1h-1zM883 224h1v1h-1zM1098 224h1v1h-1zM1231 224h1v1h-1zM1370 224h1v1h-1zM882 225h1v1h-1zM1098 225h1v1h-1zM1230 225h1v1h-1zM1370 225h1v1h-1zM882 226h1v1h-1zM1099 226h1v1h-1zM1153 226h62v1h-62zM1229 226h1v1h-1zM1370 226h1v1h-1zM882 227h1v1h-1zM1100 227h2v1h-2zM1149 227h4v1h-4zM1215 227h8v1h-8zM1228 227h1v1h-1zM1371 227h1v1h-1zM881 228h1v1h-1zM1102 228h1v1h-1zM1145 228h4v1h-4zM1223 228h5v1h-5zM1371 228h1v1h-1zM881 229h1v1h-1zM1103 229h2v1h-2zM1141 229h4v1h-4zM1372 229h1v1h-1zM880 230h1v1h-1zM1105 230h2v1h-2zM1138 230h3v1h-3zM1372 230h1v1h-1zM880 231h1v1h-1zM1107 231h2v1h-2zM1135 231h3v1h-3zM1373 231h1v1h-1zM880 232h1v1h-1zM1109 232h2v1h-2zM1133 232h2v1h-2zM1373 232h1v1h-1zM879 233h1v1h-1zM1111 233h3v1h-3zM1127 233h6v1h-6zM1374 233h1v1h-1zM879 234h1v1h-1zM1114 234h13v1h-13zM1374 234h1v1h-1zM879 235h1v1h-1zM1375 235h1v1h-1zM878 236h1v1h-1zM1375 236h1v1h-1zM878 237h1v1h-1zM1376 237h1v1h-1zM878 238h1v1h-1zM1376 238h1v1h-1zM877 239h1v1h-1zM1377 239h1v1h-1zM877 240h1v1h-1zM1377 240h1v1h-1zM876 241h1v1h-1zM1378 241h1v1h-1zM876 242h1v1h-1zM1378 242h1v1h-1zM876 243h1v1h-1zM1379 243h1v1h-1zM875 244h1v1h-1zM1379 244h1v1h-1zM875 245h1v1h-1zM1380 245h1v1h-1zM875 246h1v1h-1zM1380 246h1v1h-1zM874 247h1v1h-1zM1381 247h1v1h-1zM874 248h1v1h-1zM1381 248h1v1h-1zM873 249h1v1h-1zM1382 249h1v1h-1zM873 250h1v1h-1zM1383 250h1v1h-1zM873 251h1v1h-1zM1383 251h1v1h-1zM872 252h1v1h-1zM1384 252h1v1h-1zM872 253h1v1h-1zM1385 253h1v1h-1zM871 254h1v1h-1zM1385 254h1v1h-1zM871 255h1v1h-1zM1386 255h1v1h-1zM871 256h1v1h-1zM1386 256h1v1h-1zM870 257h1v1h-1zM1387 257h1v1h-1zM870 258h1v1h-1zM869 259h1v1h-1zM869 260h1v1h-1zM869 261h1v1h-1zM868 262h1v1h-1zM868 263h1v1h-1zM867 264h1v1h-1zM867 265h1v1h-1zM867 266h1v1h-1zM866 267h1v1h-1zM866 268h1v1h-1zM866 269h1v1h-1zM865 270h1v1h-1zM865 271h1v1h-1zM865 272h1v1h-1zM864 273h1v1h-1zM864 274h1v1h-1zM864 275h1v1h-1zM863 276h1v1h-1zM863 277h1v1h-1zM863 278h1v1h-1zM862 279h1v1h-1zM862 280h1v1h-1zM862 281h1v1h-1zM861 282h1v1h-1zM861 283h1v1h-1zM861 284h1v1h-1zM860 285h1v1h-1zM860 286h1v1h-1zM860 287h1v1h-1zM859 288h1v1h-1zM859 289h1v1h-1zM859 290h1v1h-1zM858 291h1v1h-1zM858 292h1v1h-1zM858 293h1v1h-1zM858 294h1v1h-1zM857 295h1v1h-1zM857 296h1v1h-1zM857 297h1v1h-1zM856 298h1v1h-1zM856 299h1v1h-1zM856 300h1v1h-1zM856 301h1v1h-1zM855 302h1v1h-1zM855 303h1v1h-1zM855 304h1v1h-1zM854 305h1v1h-1zM854 306h1v1h-1zM854 307h1v1h-1zM854 308h1v1h-1zM853 309h1v1h-1zM853 310h1v1h-1zM853 311h1v1h-1zM852 312h1v1h-1zM852 313h1v1h-1zM852 314h1v1h-1zM852 315h1v1h-1zM851 316h1v1h-1zM851 317h1v1h-1zM851 318h1v1h-1zM850 319h1v1h-1zM850 320h1v1h-1zM849 321h1v1h-1zM849 322h1v1h-1zM848 323h1v1h-1zM848 324h1v1h-1zM848 325h1v1h-1zM847 326h1v1h-1zM847 327h1v1h-1zM846 328h1v1h-1zM846 329h1v1h-1zM846 330h1v1h-1zM845 331h1v1h-1zM845 332h1v1h-1zM844 333h1v1h-1zM844 334h1v1h-1zM843 335h1v1h-1zM843 336h1v1h-1zM842 337h1v1h-1zM842 338h1v1h-1zM841 339h1v1h-1zM841 340h1v1h-1zM840 341h1v1h-1zM840 342h1v1h-1zM839 343h1v1h-1zM839 344h1v1h-1zM838 345h1v1h-1zM838 346h1v1h-1zM837 347h1v1h-1zM837 348h1v1h-1zM836 349h1v1h-1zM836 350h1v1h-1zM835 351h1v1h-1zM834 352h1v1h-1zM834 353h1v1h-1zM833 354h1v1h-1zM832 355h1v1h-1zM831 356h1v1h-1zM831 357h1v1h-1zM830 358h1v1h-1zM829 359h1v1h-1zM828 360h1v1h-1zM828 361h1v1h-1zM827 362h1v1h-1zM826 363h1v1h-1zM826 364h1v1h-1zM825 365h1v1h-1zM824 366h1v1h-1zM824 367h1v1h-1zM823 368h1v1h-1zM822 369h1v1h-1zM822 370h1v1h-1zM821 371h1v1h-1zM820 372h1v1h-1zM820 373h1v1h-1zM819 374h1v1h-1zM818 375h1v1h-1zM817 376h1v1h-1zM816 377h1v1h-1zM354 378h2v1h-2zM815 378h1v1h-1zM351 379h3v1h-3zM356 379h2v1h-2zM815 379h1v1h-1zM349 380h2v1h-2zM358 380h2v1h-2zM814 380h1v1h-1zM343 381h6v1h-6zM360 381h2v1h-2zM813 381h1v1h-1zM323 382h4v1h-4zM335 382h8v1h-8zM362 382h2v1h-2zM812 382h1v1h-1zM321 383h2v1h-2zM327 383h8v1h-8zM364 383h2v1h-2zM810 383h2v1h-2zM319 384h2v1h-2zM366 384h2v1h-2zM808 384h2v1h-2zM318 385h1v1h-1zM368 385h2v1h-2zM806 385h2v1h-2zM305 386h6v1h-6zM316 386h2v1h-2zM370 386h3v1h-3zM804 386h2v1h-2zM301 387h4v1h-4zM311 387h5v1h-5zM373 387h4v1h-4zM802 387h2v1h-2zM299 388h2v1h-2zM377 388h3v1h-3zM799 388h3v1h-3zM298 389h1v1h-1zM379 389h1v1h-1zM797 389h2v1h-2zM113 390h3v1h-3zM297 390h1v1h-1zM380 390h1v1h-1zM795 390h2v1h-2zM109 391h4v1h-4zM116 391h1v1h-1zM295 391h2v1h-2zM380 391h1v1h-1zM794 391h1v1h-1zM105 392h4v1h-4zM116 392h1v1h-1zM294 392h1v1h-1zM381 392h1v1h-1zM794 392h1v1h-1zM101 393h4v1h-4zM117 393h1v1h-1zM293 393h1v1h-1zM381 393h1v1h-1zM793 393h1v1h-1zM97 394h4v1h-4zM117 394h1v1h-1zM292 394h1v1h-1zM381 394h1v1h-1zM793 394h1v1h-1zM93 395h4v1h-4zM118 395h1v1h-1zM291 395h1v1h-1zM382 395h1v1h-1zM792 395h1v1h-1zM89 396h4v1h-4zM118 396h1v1h-1zM289 396h2v1h-2zM382 396h1v1h-1zM791 396h1v1h-1zM85 397h4v1h-4zM119 397h1v1h-1zM288 397h1v1h-1zM382 397h1v1h-1zM791 397h1v1h-1zM82 398h3v1h-3zM120 398h1v1h-1zM287 398h1v1h-1zM383 398h1v1h-1zM790 398h1v1h-1zM80 399h2v1h-2zM120 399h1v1h-1zM285 399h2v1h-2zM383 399h1v1h-1zM789 399h1v1h-1zM78 400h2v1h-2zM121 400h1v1h-1zM284 400h1v1h-1zM384 400h1v1h-1zM789 400h1v1h-1zM76 401h2v1h-2zM121 401h1v1h-1zM281 401h3v1h-3zM384 401h1v1h-1zM788 401h1v1h-1zM75 402h1v1h-1zM122 402h1v1h-1zM277 402h4v1h-4zM384 402h1v1h-1zM788 402h1v1h-1zM73 403h2v1h-2zM122 403h1v1h-1zM273 403h4v1h-4zM385 403h1v1h-1zM787 403h1v1h-1zM72 404h1v1h-1zM123 404h1v1h-1zM269 404h4v1h-4zM385 404h1v1h-1zM786 404h1v1h-1zM71 405h1v1h-1zM124 405h1v1h-1zM266 405h3v1h-3zM385 405h1v1h-1zM786 405h1v1h-1zM69 406h2v1h-2zM124 406h1v1h-1zM263 406h3v1h-3zM386 406h1v1h-1zM785 406h1v1h-1zM68 407h1v1h-1zM125 407h1v1h-1zM261 407h2v1h-2zM386 407h1v1h-1zM785 407h1v1h-1zM65 408h3v1h-3zM126 408h1v1h-1zM258 408h3v1h-3zM387 408h1v1h-1zM784 408h1v1h-1zM19 409h12v1h-12zM61 409h4v1h-4zM126 409h1v1h-1zM255 409h3v1h-3zM387 409h1v1h-1zM783 409h1v1h-1zM18 410h1v1h-1zM31 410h8v1h-8zM55 410h6v1h-6zM127 410h1v1h-1zM210 410h19v1h-19zM253 410h2v1h-2zM387 410h1v1h-1zM783 410h1v1h-1zM17 411h1v1h-1zM39 411h16v1h-16zM128 411h1v1h-1zM208 411h2v1h-2zM229 411h4v1h-4zM250 411h3v1h-3zM387 411h1v1h-1zM782 411h1v1h-1zM17 412h1v1h-1zM128 412h1v1h-1zM206 412h2v1h-2zM233 412h4v1h-4zM248 412h2v1h-2zM388 412h1v1h-1zM781 412h1v1h-1zM16 413h1v1h-1zM129 413h1v1h-1zM204 413h2v1h-2zM237 413h2v1h-2zM246 413h2v1h-2zM388 413h1v1h-1zM781 413h1v1h-1zM15 414h1v1h-1zM130 414h1v1h-1zM202 414h2v1h-2zM239 414h3v1h-3zM244 414h2v1h-2zM388 414h1v1h-1zM780 414h1v1h-1zM14 415h1v1h-1zM130 415h1v1h-1zM200 415h2v1h-2zM242 415h2v1h-2zM388 415h1v1h-1zM780 415h1v1h-1zM13 416h1v1h-1zM131 416h1v1h-1zM198 416h2v1h-2zM388 416h1v1h-1zM779 416h1v1h-1zM13 417h1v1h-1zM132 417h1v1h-1zM196 417h2v1h-2zM389 417h1v1h-1zM778 417h1v1h-1zM12 418h1v1h-1zM133 418h1v1h-1zM191 418h5v1h-5zM389 418h1v1h-1zM778 418h1v1h-1zM11 419h1v1h-1zM134 419h1v1h-1zM187 419h4v1h-4zM389 419h1v1h-1zM777 419h1v1h-1zM10 420h1v1h-1zM135 420h2v1h-2zM185 420h2v1h-2zM389 420h1v1h-1zM776 420h1v1h-1zM9 421h1v1h-1zM137 421h1v1h-1zM183 421h2v1h-2zM390 421h1v1h-1zM775 421h1v1h-1zM8 422h1v1h-1zM138 422h1v1h-1zM182 422h1v1h-1zM390 422h1v1h-1zM775 422h1v1h-1zM7 423h1v1h-1zM139 423h2v1h-2zM180 423h2v1h-2zM390 423h1v1h-1zM774 423h1v1h-1zM6 424h1v1h-1zM141 424h4v1h-4zM177 424h3v1h-3zM390 424h1v1h-1zM773 424h1v1h-1zM5 425h1v1h-1zM145 425h12v1h-12zM173 425h4v1h-4zM390 425h1v1h-1zM772 425h1v1h-1zM4 426h1v1h-1zM157 426h2v1h-2zM169 426h4v1h-4zM391 426h1v1h-1zM772 426h1v1h-1zM3 427h1v1h-1zM159 427h3v1h-3zM165 427h4v1h-4zM391 427h1v1h-1zM771 427h1v1h-1zM1 428h2v1h-2zM162 428h3v1h-3zM391 428h1v1h-1zM770 428h1v1h-1zM0 429h1v1h-1zM391 429h1v1h-1zM769 429h1v1h-1zM391 430h1v1h-1zM768 430h1v1h-1zM392 431h1v1h-1zM767 431h1v1h-1zM392 432h1v1h-1zM767 432h1v1h-1zM392 433h1v1h-1zM766 433h1v1h-1zM392 434h1v1h-1zM765 434h1v1h-1zM392 435h1v1h-1zM764 435h1v1h-1zM393 436h1v1h-1zM691 436h18v1h-18zM763 436h1v1h-1zM393 437h1v1h-1zM690 437h1v1h-1zM709 437h4v1h-4zM763 437h1v1h-1zM393 438h1v1h-1zM690 438h1v1h-1zM713 438h4v1h-4zM762 438h1v1h-1zM393 439h1v1h-1zM689 439h1v1h-1zM717 439h4v1h-4zM762 439h1v1h-1zM394 440h1v1h-1zM688 440h1v1h-1zM721 440h3v1h-3zM761 440h1v1h-1zM394 441h1v1h-1zM688 441h1v1h-1zM724 441h1v1h-1zM761 441h1v1h-1zM394 442h1v1h-1zM687 442h1v1h-1zM725 442h1v1h-1zM760 442h1v1h-1zM394 443h1v1h-1zM686 443h1v1h-1zM726 443h1v1h-1zM760 443h1v1h-1zM394 444h1v1h-1zM686 444h1v1h-1zM727 444h1v1h-1zM759 444h1v1h-1zM395 445h1v1h-1zM685 445h1v1h-1zM728 445h1v1h-1zM759 445h1v1h-1zM395 446h1v1h-1zM684 446h1v1h-1zM729 446h1v1h-1zM758 446h1v1h-1zM395 447h1v1h-1zM684 447h1v1h-1zM730 447h1v1h-1zM758 447h1v1h-1zM395 448h1v1h-1zM683 448h1v1h-1zM731 448h1v1h-1zM757 448h1v1h-1zM395 449h1v1h-1zM683 449h1v1h-1zM732 449h1v1h-1zM757 449h1v1h-1zM396 450h1v1h-1zM682 450h1v1h-1zM733 450h2v1h-2zM756 450h1v1h-1zM396 451h1v1h-1zM682 451h1v1h-1zM735 451h1v1h-1zM756 451h1v1h-1zM396 452h1v1h-1zM681 452h1v1h-1zM736 452h1v1h-1zM755 452h1v1h-1zM396 453h1v1h-1zM681 453h1v1h-1zM737 453h2v1h-2zM753 453h2v1h-2zM397 454h1v1h-1zM680 454h1v1h-1zM739 454h2v1h-2zM751 454h2v1h-2zM397 455h1v1h-1zM680 455h1v1h-1zM741 455h2v1h-2zM750 455h1v1h-1zM397 456h1v1h-1zM679 456h1v1h-1zM743 456h3v1h-3zM748 456h2v1h-2zM397 457h1v1h-1zM679 457h1v1h-1zM746 457h2v1h-2zM397 458h1v1h-1zM678 458h1v1h-1zM398 459h1v1h-1zM678 459h1v1h-1zM398 460h1v1h-1zM677 460h1v1h-1zM398 461h1v1h-1zM677 461h1v1h-1zM398 462h1v1h-1zM676 462h1v1h-1zM398 463h1v1h-1zM676 463h1v1h-1zM399 464h1v1h-1zM675 464h1v1h-1zM399 465h1v1h-1zM674 465h1v1h-1zM399 466h1v1h-1zM674 466h1v1h-1zM399 467h1v1h-1zM673 467h1v1h-1zM400 468h1v1h-1zM672 468h1v1h-1zM400 469h1v1h-1zM672 469h1v1h-1zM400 470h1v1h-1zM671 470h1v1h-1zM400 471h1v1h-1zM670 471h1v1h-1zM400 472h1v1h-1zM670 472h1v1h-1zM401 473h1v1h-1zM669 473h1v1h-1zM401 474h1v1h-1zM668 474h1v1h-1zM401 475h1v1h-1zM668 475h1v1h-1zM401 476h1v1h-1zM667 476h1v1h-1zM401 477h1v1h-1zM666 477h1v1h-1zM402 478h1v1h-1zM666 478h1v1h-1zM402 479h1v1h-1zM665 479h1v1h-1zM402 480h1v1h-1zM665 480h1v1h-1zM402 481h1v1h-1zM664 481h1v1h-1zM403 482h1v1h-1zM663 482h1v1h-1zM403 483h1v1h-1zM663 483h1v1h-1zM403 484h1v1h-1zM662 484h1v1h-1zM403 485h1v1h-1zM661 485h1v1h-1zM404 486h1v1h-1zM661 486h1v1h-1zM404 487h1v1h-1zM660 487h1v1h-1zM404 488h1v1h-1zM660 488h1v1h-1zM404 489h1v1h-1zM659 489h1v1h-1zM405 490h1v1h-1zM658 490h1v1h-1zM405 491h1v1h-1zM658 491h1v1h-1zM405 492h1v1h-1zM657 492h1v1h-1zM405 493h1v1h-1zM656 493h1v1h-1zM406 494h1v1h-1zM656 494h1v1h-1zM406 495h1v1h-1zM655 495h1v1h-1zM406 496h1v1h-1zM654 496h1v1h-1zM406 497h1v1h-1zM654 497h1v1h-1zM407 498h1v1h-1zM653 498h1v1h-1zM407 499h1v1h-1zM652 499h1v1h-1zM407 500h1v1h-1zM652 500h1v1h-1zM407 501h1v1h-1zM651 501h1v1h-1zM408 502h1v1h-1zM650 502h1v1h-1zM408 503h1v1h-1zM649 503h1v1h-1zM408 504h1v1h-1zM647 504h2v1h-2zM408 505h1v1h-1zM646 505h1v1h-1zM409 506h1v1h-1zM645 506h1v1h-1zM409 507h1v1h-1zM644 507h1v1h-1zM409 508h1v1h-1zM643 508h1v1h-1zM409 509h1v1h-1zM641 509h2v1h-2zM410 510h1v1h-1zM640 510h1v1h-1zM410 511h1v1h-1zM639 511h1v1h-1zM410 512h1v1h-1zM637 512h2v1h-2zM410 513h1v1h-1zM636 513h1v1h-1zM411 514h1v1h-1zM635 514h1v1h-1zM411 515h1v1h-1zM634 515h1v1h-1zM411 516h1v1h-1zM634 516h1v1h-1zM412 517h1v1h-1zM633 517h1v1h-1zM412 518h1v1h-1zM633 518h1v1h-1zM412 519h1v1h-1zM632 519h1v1h-1zM413 520h1v1h-1zM632 520h1v1h-1zM413 521h1v1h-1zM631 521h1v1h-1zM413 522h1v1h-1zM630 522h1v1h-1zM414 523h1v1h-1zM630 523h1v1h-1zM414 524h1v1h-1zM629 524h1v1h-1zM414 525h1v1h-1zM629 525h1v1h-1zM415 526h1v1h-1zM628 526h1v1h-1zM415 527h1v1h-1zM628 527h1v1h-1zM415 528h1v1h-1zM627 528h1v1h-1zM415 529h1v1h-1zM626 529h1v1h-1zM416 530h1v1h-1zM626 530h1v1h-1zM416 531h1v1h-1zM625 531h1v1h-1zM416 532h1v1h-1zM625 532h1v1h-1zM417 533h1v1h-1zM624 533h1v1h-1zM417 534h1v1h-1zM623 534h1v1h-1zM417 535h1v1h-1zM623 535h1v1h-1zM418 536h1v1h-1zM622 536h1v1h-1zM418 537h1v1h-1zM621 537h1v1h-1zM418 538h1v1h-1zM621 538h1v1h-1zM419 539h1v1h-1zM620 539h1v1h-1zM419 540h1v1h-1zM620 540h1v1h-1zM419 541h1v1h-1zM619 541h1v1h-1zM420 542h1v1h-1zM618 542h1v1h-1zM420 543h1v1h-1zM617 543h1v1h-1zM421 544h1v1h-1zM616 544h1v1h-1zM421 545h1v1h-1zM615 545h1v1h-1zM422 546h1v1h-1zM615 546h1v1h-1zM422 547h1v1h-1zM614 547h1v1h-1zM423 548h1v1h-1zM613 548h1v1h-1zM423 549h1v1h-1zM612 549h1v1h-1zM424 550h1v1h-1zM611 550h1v1h-1zM424 551h1v1h-1zM610 551h1v1h-1zM425 552h1v1h-1zM609 552h1v1h-1zM425 553h1v1h-1zM607 553h2v1h-2zM426 554h1v1h-1zM606 554h1v1h-1zM426 555h1v1h-1zM605 555h1v1h-1zM427 556h1v1h-1zM604 556h1v1h-1zM427 557h1v1h-1zM603 557h1v1h-1zM428 558h1v1h-1zM602 558h1v1h-1zM429 559h1v1h-1zM602 559h1v1h-1zM429 560h1v1h-1zM601 560h1v1h-1zM430 561h1v1h-1zM600 561h1v1h-1zM431 562h1v1h-1zM600 562h1v1h-1zM432 563h1v1h-1zM599 563h1v1h-1zM433 564h1v1h-1zM598 564h1v1h-1zM433 565h1v1h-1zM598 565h1v1h-1zM434 566h1v1h-1zM597 566h1v1h-1zM435 567h1v1h-1zM596 567h1v1h-1zM436 568h1v1h-1zM596 568h1v1h-1zM436 569h1v1h-1zM595 569h1v1h-1zM437 570h1v1h-1zM531 570h1v1h-1zM593 570h2v1h-2zM438 571h1v1h-1zM530 571h1v1h-1zM532 571h2v1h-2zM591 571h2v1h-2zM438 572h1v1h-1zM529 572h1v1h-1zM534 572h1v1h-1zM590 572h1v1h-1zM439 573h1v1h-1zM528 573h1v1h-1zM535 573h2v1h-2zM588 573h2v1h-2zM440 574h1v1h-1zM527 574h1v1h-1zM537 574h2v1h-2zM587 574h1v1h-1zM440 575h1v1h-1zM526 575h1v1h-1zM539 575h1v1h-1zM586 575h1v1h-1zM441 576h1v1h-1zM525 576h1v1h-1zM540 576h1v1h-1zM585 576h1v1h-1zM442 577h1v1h-1zM524 577h1v1h-1zM540 577h1v1h-1zM584 577h1v1h-1zM442 578h1v1h-1zM523 578h1v1h-1zM541 578h1v1h-1zM583 578h1v1h-1z"/>
<path fill="#ff0000" d="M987 54h1v1h-1zM986 55h2v1h-2zM985 56h1v1h-1zM988 56h1v1h-1zM984 57h1v1h-1zM988 57h1v1h-1zM983 58h1v1h-1zM989 58h1v1h-1zM983 59h1v1h-1zM989 59h1v1h-1zM982 60h1v1h-1zM990 60h1v1h-1zM981 61h1v1h-1zM990 61h1v1h-1zM980 62h1v1h-1zM991 62h1v1h-1zM979 63h1v1h-1zM991 63h1v1h-1zM978 64h1v1h-1zM992 64h1v1h-1zM977 65h1v1h-1zM992 65h1v1h-1zM976 66h1v1h-1zM993 66h1v1h-1zM975 67h1v1h-1zM993 67h1v1h-1zM974 68h1v1h-1zM994 68h1v1h-1zM974 69h1v1h-1zM994 69h1v1h-1zM1363 69h1v1h-1zM973 70h1v1h-1zM995 70h1v1h-1zM1362 70h2v1h-2zM972 71h1v1h-1zM995 71h1v1h-1zM1362 71h2v1h-2zM971 72h1v1h-1zM996 72h1v1h-1zM1361 72h1v1h-1zM1363 72h1v1h-1zM970 73h1v1h-1zM996 73h1v1h-1zM1360 73h1v1h-1zM1363 73h1v1h-1zM969 74h1v1h-1zM996 74h1v1h-1zM1360 74h1v1h-1zM1363 74h1v1h-1zM968 75h1v1h-1zM997 75h1v1h-1zM1359 75h1v1h-1zM1364 75h1v1h-1zM967 76h1v1h-1zM997 76h1v1h-1zM1358 76h1v1h-1zM1364 76h1v1h-1zM966 77h1v1h-1zM998 77h1v1h-1zM1358 77h1v1h-1zM1364 77h1v1h-1zM965 78h1v1h-1zM998 78h1v1h-1zM1357 78h1v1h-1zM1364 78h1v1h-1zM965 79h1v1h-1zM999 79h1v1h-1zM1356 79h1v1h-1zM1364 79h1v1h-1zM964 80h1v1h-1zM999 80h1v1h-1zM1147 80h1v1h-1zM1356 80h1v1h-1zM1364 80h1v1h-1zM963 81h1v1h-1zM1000 81h1v1h-1zM1147 81h2v1h-2zM1355 81h1v1h-1zM1364 81h1v1h-1zM962 82h1v1h-1zM1000 82h1v1h-1zM1146 82h1v1h-1zM1149 82h1v1h-1zM1354 82h1v1h-1zM1364 82h1v1h-1zM961 83h1v1h-1zM1001 83h1v1h-1zM1146 83h1v1h-1zM1150 83h1v1h-1zM1354 83h1v1h-1zM1364 83h1v1h-1zM960 84h1v1h-1zM1001 84h1v1h-1zM1145 84h1v1h-1zM1151 84h1v1h-1zM1353 84h1v1h-1zM1364 84h1v1h-1zM959 85h1v1h-1zM1002 85h1v1h-1zM1145 85h1v1h-1zM1152 85h1v1h-1zM1352 85h1v1h-1zM1364 85h1v1h-1zM958 86h1v1h-1zM1002 86h1v1h-1zM1144 86h1v1h-1zM1152 86h1v1h-1zM1352 86h1v1h-1zM1364 86h1v1h-1zM957 87h1v1h-1zM1003 87h1v1h-1zM1144 87h1v1h-1zM1153 87h1v1h-1zM1351 87h1v1h-1zM1365 87h1v1h-1zM956 88h1v1h-1zM1003 88h1v1h-1zM1143 88h1v1h-1zM1154 88h1v1h-1zM1350 88h1v1h-1zM1365 88h1v1h-1zM956 89h1v1h-1zM1004 89h1v1h-1zM1143 89h1v1h-1zM1155 89h1v1h-1zM1349 89h1v1h-1zM1365 89h1v1h-1zM955 90h1v1h-1zM1004 90h1v1h-1zM1143 90h1v1h-1zM1156 90h1v1h-1zM1349 90h1v1h-1zM1365 90h1v1h-1zM954 91h1v1h-1zM1005 91h1v1h-1zM1142 91h1v1h-1zM1157 91h1v1h-1zM1348 91h1v1h-1zM1365 91h1v1h-1zM953 92h1v1h-1zM1005 92h1v1h-1zM1142 92h1v1h-1zM1158 92h1v1h-1zM1347 92h1v1h-1zM1365 92h1v1h-1zM952 93h1v1h-1zM1005 93h1v1h-1zM1141 93h1v1h-1zM1159 93h1v1h-1zM1347 93h1v1h-1zM1365 93h1v1h-1zM951 94h1v1h-1zM1006 94h1v1h-1zM1141 94h1v1h-1zM1160 94h1v1h-1zM1346 94h1v1h-1zM1365 94h1v1h-1zM950 95h1v1h-1zM1006 95h1v1h-1zM1140 95h1v1h-1zM1161 95h1v1h-1zM1345 95h1v1h-1zM1365 95h1v1h-1zM949 96h1v1h-1zM1007 96h1v1h-1zM1140 96h1v1h-1zM1162 96h1v1h-1zM1345 96h1v1h-1zM1365 96h1v1h-1zM948 97h1v1h-1zM1007 97h1v1h-1zM1139 97h1v1h-1zM1163 97h1v1h-1zM1344 97h1v1h-1zM1365 97h1v1h-1zM795 98h1v1h-1zM947 98h1v1h-1zM1008 98h1v1h-1zM1139 98h1v1h-1zM1163 98h1v1h-1zM1343 98h1v1h-1zM1365 98h1v1h-1zM794 99h2v1h-2zM947 99h1v1h-1zM1008 99h1v1h-1zM1138 99h1v1h-1zM1164 99h1v1h-1zM1343 99h1v1h-1zM1366 99h1v1h-1zM794 100h1v1h-1zM796 100h1v1h-1zM946 100h1v1h-1zM1009 100h1v1h-1zM1138 100h1v1h-1zM1165 100h1v1h-1zM1342 100h1v1h-1zM1366 100h1v1h-1zM793 101h1v1h-1zM796 101h1v1h-1zM945 101h1v1h-1zM1009 101h1v1h-1zM1138 101h1v1h-1zM1166 101h1v1h-1zM1341 101h1v1h-1zM1366 101h1v1h-1zM792 102h1v1h-1zM796 102h1v1h-1zM944 102h1v1h-1zM1010 102h1v1h-1zM1137 102h1v1h-1zM1167 102h1v1h-1zM1341 102h1v1h-1zM1366 102h1v1h-1zM791 103h1v1h-1zM797 103h1v1h-1zM943 103h1v1h-1zM1010 103h1v1h-1zM1137 103h1v1h-1zM1168 103h1v1h-1zM1340 103h1v1h-1zM1366 103h1v1h-1zM791 104h1v1h-1zM797 104h1v1h-1zM942 104h1v1h-1zM1011 104h1v1h-1zM1136 104h1v1h-1zM1169 104h1v1h-1zM1339 104h1v1h-1zM1366 104h1v1h-1zM790 105h1v1h-1zM797 105h1v1h-1zM941 105h1v1h-1zM1011 105h1v1h-1zM1136 105h1v1h-1zM1170 105h1v1h-1zM1339 105h1v1h-1zM1366 105h1v1h-1zM789 106h1v1h-1zM798 106h1v1h-1zM940 106h1v1h-1zM1012 106h1v1h-1zM1135 106h1v1h-1zM1171 106h1v1h-1zM1338 106h1v1h-1zM1366 106h1v1h-1zM788 107h1v1h-1zM798 107h1v1h-1zM939 107h1v1h-1zM1012 107h1v1h-1zM1135 107h1v1h-1zM1172 107h1v1h-1zM1337 107h1v1h-1zM1366 107h1v1h-1zM788 108h1v1h-1zM798 108h1v1h-1zM938 108h1v1h-1zM1013 108h1v1h-1zM1134 108h1v1h-1zM1173 108h1v1h-1zM1337 108h1v1h-1zM1366 108h1v1h-1zM787 109h1v1h-1zM799 109h1v1h-1zM938 109h1v1h-1zM1013 109h1v1h-1zM1134 109h1v1h-1zM1174 109h1v1h-1zM1336 109h1v1h-1zM1366 109h1v1h-1zM786 110h1v1h-1zM799 110h1v1h-1zM937 110h1v1h-1zM1013 110h1v1h-1zM1134 110h1v1h-1zM1174 110h1v1h-1zM1335 110h1v1h-1zM1366 110h1v1h-1zM785 111h1v1h-1zM799 111h1v1h-1zM936 111h1v1h-1zM1014 111h1v1h-1zM1133 111h1v1h-1zM1175 111h1v1h-1zM1335 111h1v1h-1zM1367 111h1v1h-1zM785 112h1v1h-1zM799 112h1v1h-1zM935 112h1v1h-1zM1014 112h1v1h-1zM1133 112h1v1h-1zM1176 112h1v1h-1zM1334 112h1v1h-1zM1367 112h1v1h-1zM784 113h1v1h-1zM800 113h1v1h-1zM934 113h1v1h-1zM1015 113h1v1h-1zM1132 113h1v1h-1zM1177 113h1v1h-1zM1333 113h1v1h-1zM1367 113h1v1h-1zM783 114h1v1h-1zM800 114h1v1h-1zM933 114h1v1h-1zM1015 114h1v1h-1zM1132 114h1v1h-1zM1178 114h1v1h-1zM1333 114h1v1h-1zM1367 114h1v1h-1zM782 115h1v1h-1zM800 115h1v1h-1zM932 115h1v1h-1zM1016 115h1v1h-1zM1131 115h1v1h-1zM1179 115h1v1h-1zM1332 115h1v1h-1zM1367 115h1v1h-1zM782 116h1v1h-1zM801 116h1v1h-1zM931 116h1v1h-1zM1016 116h1v1h-1zM1131 116h1v1h-1zM1180 116h1v1h-1zM1331 116h1v1h-1zM1367 116h1v1h-1zM781 117h1v1h-1zM801 117h1v1h-1zM930 117h1v1h-1zM1017 117h1v1h-1zM1130 117h1v1h-1zM1181 117h1v1h-1zM1331 117h1v1h-1zM1367 117h1v1h-1zM780 118h1v1h-1zM801 118h1v1h-1zM929 118h1v1h-1zM1017 118h1v1h-1zM1130 118h1v1h-1zM1182 118h1v1h-1zM1330 118h1v1h-1zM1367 118h1v1h-1zM779 119h1v1h-1zM802 119h1v1h-1zM929 119h1v1h-1zM1018 119h1v1h-1zM1129 119h1v1h-1zM1183 119h1v1h-1zM1329 119h1v1h-1zM1367 119h1v1h-1zM779 120h1v1h-1zM802 120h1v1h-1zM928 120h1v1h-1zM1018 120h1v1h-1zM1129 120h1v1h-1zM1184 120h1v1h-1zM1329 120h1v1h-1zM1367 120h1v1h-1zM778 121h1v1h-1zM802 121h1v1h-1zM927 121h1v1h-1zM1019 121h1v1h-1zM1129 121h1v1h-1zM1185 121h1v1h-1zM1328 121h1v1h-1zM1367 121h1v1h-1zM777 122h1v1h-1zM803 122h1v1h-1zM926 122h1v1h-1zM1019 122h1v1h-1zM1128 122h1v1h-1zM1185 122h1v1h-1zM1327 122h1v1h-1zM1367 122h1v1h-1zM777 123h1v1h-1zM803 123h1v1h-1zM925 123h1v1h-1zM1020 123h1v1h-1zM1128 123h1v1h-1zM1186 123h1v1h-1zM1326 123h1v1h-1zM1368 123h1v1h-1zM776 124h1v1h-1zM803 124h1v1h-1zM924 124h1v1h-1zM1020 124h1v1h-1zM1127 124h1v1h-1zM1187 124h1v1h-1zM1326 124h1v1h-1zM1368 124h1v1h-1zM775 125h1v1h-1zM804 125h1v1h-1zM923 125h1v1h-1zM1021 125h1v1h-1zM1127 125h1v1h-1zM1188 125h1v1h-1zM1325 125h1v1h-1zM1368 125h1v1h-1zM774 126h1v1h-1zM804 126h1v1h-1zM922 126h1v1h-1zM1021 126h1v1h-1zM1126 126h1v1h-1zM1189 126h1v1h-1zM1324 126h1v1h-1zM1368 126h1v1h-1zM774 127h1v1h-1zM804 127h1v1h-1zM921 127h1v1h-1zM1022 127h1v1h-1zM1126 127h1v1h-1zM1190 127h1v1h-1zM1324 127h1v1h-1zM1368 127h1v1h-1zM773 128h1v1h-1zM805 128h1v1h-1zM920 128h1v1h-1zM1022 128h1v1h-1zM1125 128h1v1h-1zM1191 128h1v1h-1zM1323 128h1v1h-1zM1368 128h1v1h-1zM772 129h1v1h-1zM805 129h1v1h-1zM920 129h1v1h-1zM1022 129h1v1h-1zM1125 129h1v1h-1zM1192 129h1v1h-1zM1322 129h1v1h-1zM1368 129h1v1h-1zM771 130h1v1h-1zM805 130h1v1h-1zM919 130h1v1h-1zM1023 130h1v1h-1zM1125 130h1v1h-1zM1193 130h1v1h-1zM1322 130h1v1h-1zM1368 130h1v1h-1zM771 131h1v1h-1zM806 131h1v1h-1zM918 131h1v1h-1zM1023 131h1v1h-1zM1124 131h1v1h-1zM1194 131h1v1h-1zM1321 131h1v1h-1zM1368 131h1v1h-1zM770 132h1v1h-1zM806 132h1v1h-1zM917 132h1v1h-1zM1024 132h1v1h-1zM1124 132h1v1h-1zM1195 132h1v1h-1zM1320 132h1v1h-1zM1368 132h1v1h-1zM769 133h1v1h-1zM806 133h1v1h-1zM916 133h1v1h-1zM1024 133h1v1h-1zM1123 133h1v1h-1zM1196 133h1v1h-1zM1320 133h1v1h-1zM1368 133h1v1h-1zM768 134h1v1h-1zM807 134h1v1h-1zM915 134h1v1h-1zM1025 134h1v1h-1zM1123 134h1v1h-1zM1196 134h1v1h-1zM1319 134h1v1h-1zM1368 134h1v1h-1zM768 135h1v1h-1zM807 135h1v1h-1zM914 135h1v1h-1zM1025 135h1v1h-1zM1122 135h1v1h-1zM1197 135h1v1h-1zM1318 135h1v1h-1zM1369 135h1v1h-1zM767 136h1v1h-1zM807 136h1v1h-1zM913 136h1v1h-1zM1026 136h1v1h-1zM1122 136h1v1h-1zM1198 136h1v1h-1zM1318 136h1v1h-1zM1369 136h1v1h-1zM766 137h1v1h-1zM807 137h1v1h-1zM912 137h1v1h-1zM1026 137h1v1h-1zM1121 137h1v1h-1zM1199 137h1v1h-1zM1317 137h1v1h-1zM1369 137h1v1h-1zM765 138h1v1h-1zM808 138h1v1h-1zM911 138h1v1h-1zM1027 138h1v1h-1zM1121 138h1v1h-1zM1200 138h1v1h-1zM1316 138h1v1h-1zM1369 138h1v1h-1zM765 139h1v1h-1zM808 139h1v1h-1zM911 139h1v1h-1zM1027 139h1v1h-1zM1120 139h1v1h-1zM1201 139h1v1h-1zM1316 139h1v1h-1zM1369 139h1v1h-1zM764 140h1v1h-1zM808 140h1v1h-1zM910 140h1v1h-1zM1028 140h1v1h-1zM1120 140h1v1h-1zM1202 140h1v1h-1zM1315 140h1v1h-1zM1369 140h1v1h-1zM763 141h1v1h-1zM809 141h1v1h-1zM909 141h1v1h-1zM1028 141h1v1h-1zM1120 141h1v1h-1zM1203 141h1v1h-1zM1314 141h1v1h-1zM1369 141h1v1h-1zM763 142h1v1h-1zM809 142h1v1h-1zM908 142h1v1h-1zM1029 142h1v1h-1zM1119 142h1v1h-1zM1204 142h1v1h-1zM1314 142h1v1h-1zM1369 142h1v1h-1zM762 143h1v1h-1zM809 143h1v1h-1zM907 143h1v1h-1zM1029 143h1v1h-1zM1119 143h1v1h-1zM1205 143h1v1h-1zM1313 143h1v1h-1zM1369 143h1v1h-1zM761 144h1v1h-1zM810 144h1v1h-1zM906 144h1v1h-1zM1030 144h1v1h-1zM1118 144h1v1h-1zM1206 144h1v1h-1zM1312 144h1v1h-1zM1369 144h1v1h-1zM760 145h1v1h-1zM810 145h1v1h-1zM905 145h1v1h-1zM1030 145h1v1h-1zM1118 145h1v1h-1zM1207 145h1v1h-1zM1312 145h1v1h-1zM1369 145h1v1h-1zM760 146h1v1h-1zM810 146h1v1h-1zM904 146h1v1h-1zM1031 146h1v1h-1zM1117 146h1v1h-1zM1207 146h1v1h-1zM1311 146h1v1h-1zM1369 146h1v1h-1zM759 147h1v1h-1zM811 147h1v1h-1zM903 147h1v1h-1zM1031 147h1v1h-1zM1117 147h1v1h-1zM1208 147h1v1h-1zM1310 147h1v1h-1zM1370 147h1v1h-1zM758 148h1v1h-1zM811 148h1v1h-1zM902 148h1v1h-1zM1031 148h1v1h-1zM1116 148h1v1h-1zM1209 148h1v1h-1zM1310 148h1v1h-1zM1370 148h1v1h-1zM757 149h1v1h-1zM811 149h1v1h-1zM902 149h1v1h-1zM1032 149h1v1h-1zM1116 149h1v1h-1zM1210 149h1v1h-1zM1309 149h1v1h-1zM1370 149h1v1h-1zM757 150h1v1h-1zM812 150h1v1h-1zM901 150h1v1h-1zM1032 150h1v1h-1zM1116 150h1v1h-1zM1211 150h1v1h-1zM1308 150h1v1h-1zM1370 150h1v1h-1zM756 151h1v1h-1zM812 151h1v1h-1zM900 151h1v1h-1zM1033 151h1v1h-1zM1115 151h1v1h-1zM1212 151h1v1h-1zM1308 151h1v1h-1zM1370 151h1v1h-1zM755 152h1v1h-1zM812 152h1v1h-1zM899 152h1v1h-1zM1033 152h1v1h-1zM1115 152h1v1h-1zM1213 152h1v1h-1zM1307 152h1v1h-1zM1370 152h1v1h-1zM754 153h1v1h-1zM813 153h1v1h-1zM898 153h1v1h-1zM1034 153h1v1h-1zM1114 153h1v1h-1zM1214 153h1v1h-1zM1306 153h1v1h-1zM1370 153h1v1h-1zM754 154h1v1h-1zM813 154h1v1h-1zM897 154h1v1h-1zM1034 154h1v1h-1zM1114 154h1v1h-1zM1215 154h1v1h-1zM1306 154h1v1h-1zM1370 154h1v1h-1zM753 155h1v1h-1zM813 155h1v1h-1zM896 155h1v1h-1zM1035 155h1v1h-1zM1113 155h1v1h-1zM1216 155h1v1h-1zM1305 155h1v1h-1zM1370 155h1v1h-1zM752 156h1v1h-1zM814 156h1v1h-1zM895 156h1v1h-1zM1035 156h1v1h-1zM1113 156h1v1h-1zM1217 156h1v1h-1zM1304 156h1v1h-1zM1370 156h1v1h-1zM751 157h1v1h-1zM814 157h1v1h-1zM894 157h1v1h-1zM1036 157h1v1h-1zM1112 157h1v1h-1zM1218 157h1v1h-1zM1304 157h1v1h-1zM1370 157h1v1h-1zM751 158h1v1h-1zM814 158h1v1h-1zM893 158h1v1h-1zM1036 158h1v1h-1zM1112 158h1v1h-1zM1218 158h1v1h-1zM1303 158h1v1h-1zM1370 158h1v1h-1zM750 159h1v1h-1zM815 159h1v1h-1zM893 159h1v1h-1zM1037 159h1v1h-1zM1111 159h1v1h-1zM1219 159h1v1h-1zM1302 159h1v1h-1zM1371 159h1v1h-1zM749 160h1v1h-1zM815 160h1v1h-1zM892 160h1v1h-1zM1037 160h1v1h-1zM1111 160h1v1h-1zM1220 160h1v1h-1zM1301 160h1v1h-1zM1371 160h1v1h-1zM748 161h1v1h-1zM815 161h1v1h-1zM891 161h1v1h-1zM1038 161h1v1h-1zM1111 161h1v1h-1zM1221 161h1v1h-1zM1301 161h1v1h-1zM1371 161h1v1h-1zM748 162h1v1h-1zM815 162h1v1h-1zM890 162h1v1h-1zM1038 162h1v1h-1zM1110 162h1v1h-1zM1222 162h1v1h-1zM1300 162h1v1h-1zM1371 162h1v1h-1zM747 163h1v1h-1zM816 163h1v1h-1zM889 163h1v1h-1zM1039 163h1v1h-1zM1110 163h1v1h-1zM1223 163h1v1h-1zM1299 163h1v1h-1zM1371 163h1v1h-1zM746 164h1v1h-1zM816 164h1v1h-1zM888 164h1v1h-1zM1039 164h1v1h-1zM1109 164h1v1h-1zM1224 164h1v1h-1zM1299 164h1v1h-1zM1371 164h1v1h-1zM746 165h1v1h-1zM816 165h1v1h-1zM887 165h1v1h-1zM1040 165h1v1h-1zM1109 165h1v1h-1zM1225 165h1v1h-1zM1298 165h1v1h-1zM1371 165h1v1h-1zM745 166h1v1h-1zM817 166h1v1h-1zM886 166h1v1h-1zM1040 166h1v1h-1zM1108 166h1v1h-1zM1226 166h1v1h-1zM1297 166h1v1h-1zM1371 166h1v1h-1zM744 167h1v1h-1zM817 167h1v1h-1zM885 167h1v1h-1zM1040 167h1v1h-1zM1108 167h1v1h-1zM1227 167h1v1h-1zM1297 167h1v1h-1zM1371 167h1v1h-1zM743 168h1v1h-1zM817 168h1v1h-1zM884 168h1v1h-1zM1041 168h1v1h-1zM1107 168h1v1h-1zM1228 168h1v1h-1zM1296 168h1v1h-1zM1371 168h1v1h-1zM743 169h1v1h-1zM818 169h1v1h-1zM884 169h1v1h-1zM1041 169h1v1h-1zM1107 169h1v1h-1zM1229 169h1v1h-1zM1295 169h1v1h-1zM1371 169h1v1h-1zM742 170h1v1h-1zM818 170h1v1h-1zM883 170h1v1h-1zM1042 170h1v1h-1zM1107 170h1v1h-1zM1229 170h1v1h-1zM1295 170h1v1h-1zM1371 170h1v1h-1zM741 171h1v1h-1zM818 171h1v1h-1zM882 171h1v1h-1zM1042 171h1v1h-1zM1106 171h1v1h-1zM1230 171h1v1h-1zM1294 171h1v1h-1zM1372 171h1v1h-1zM740 172h1v1h-1zM819 172h1v1h-1zM881 172h1v1h-1zM1043 172h1v1h-1zM1106 172h1v1h-1zM1231 172h1v1h-1zM1293 172h1v1h-1zM1372 172h1v1h-1zM740 173h1v1h-1zM819 173h1v1h-1zM880 173h1v1h-1zM1043 173h1v1h-1zM1105 173h1v1h-1zM1232 173h1v1h-1zM1293 173h1v1h-1zM1372 173h1v1h-1zM739 174h1v1h-1zM819 174h1v1h-1zM879 174h1v1h-1zM1044 174h1v1h-1zM1105 174h1v1h-1zM1233 174h1v1h-1zM1292 174h1v1h-1zM1372 174h1v1h-1zM738 175h1v1h-1zM820 175h1v1h-1zM878 175h1v1h-1zM1044 175h1v1h-1zM1104 175h1v1h-1zM1234 175h1v1h-1zM1291 175h1v1h-1zM1372 175h1v1h-1zM737 176h1v1h-1zM820 176h1v1h-1zM877 176h1v1h-1zM1045 176h1v1h-1zM1104 176h1v1h-1zM1235 176h1v1h-1zM1291 176h1v1h-1zM1372 176h1v1h-1zM737 177h1v1h-1zM820 177h1v1h-1zM876 177h1v1h-1zM1045 177h1v1h-1zM1103 177h1v1h-1zM1236 177h1v1h-1zM1290 177h1v1h-1zM1372 177h1v1h-1zM736 178h1v1h-1zM821 178h1v1h-1zM875 178h1v1h-1zM1046 178h1v1h-1zM1103 178h1v1h-1zM1237 178h1v1h-1zM1289 178h1v1h-1zM1372 178h1v1h-1zM735 179h1v1h-1zM821 179h1v1h-1zM875 179h1v1h-1zM1046 179h1v1h-1zM1102 179h1v1h-1zM1238 179h1v1h-1zM1289 179h1v1h-1zM1372 179h1v1h-1zM734 180h1v1h-1zM821 180h1v1h-1zM874 180h1v1h-1zM1047 180h1v1h-1zM1102 180h1v1h-1zM1239 180h1v1h-1zM1288 180h1v1h-1zM1372 180h1v1h-1zM734 181h1v1h-1zM822 181h1v1h-1zM873 181h1v1h-1zM1047 181h1v1h-1zM1102 181h1v1h-1zM1240 181h1v1h-1zM1287 181h1v1h-1zM1372 181h1v1h-1zM733 182h1v1h-1zM822 182h1v1h-1zM872 182h1v1h-1zM1048 182h1v1h-1zM1101 182h1v1h-1zM1240 182h1v1h-1zM1287 182h1v1h-1zM1372 182h1v1h-1zM732 183h1v1h-1zM822 183h1v1h-1zM871 183h1v1h-1zM1048 183h1v1h-1zM1101 183h1v1h-1zM1241 183h1v1h-1zM1286 183h1v1h-1zM1373 183h1v1h-1zM732 184h1v1h-1zM823 184h1v1h-1zM870 184h1v1h-1zM1049 184h1v1h-1zM1100 184h1v1h-1zM1242 184h1v1h-1zM1285 184h1v1h-1zM1373 184h1v1h-1zM731 185h1v1h-1zM823 185h1v1h-1zM869 185h1v1h-1zM1049 185h1v1h-1zM1100 185h1v1h-1zM1243 185h1v1h-1zM1285 185h1v1h-1zM1373 185h1v1h-1zM730 186h1v1h-1zM823 186h1v1h-1zM868 186h1v1h-1zM1049 186h1v1h-1zM1099 186h1v1h-1zM1244 186h1v1h-1zM1284 186h1v1h-1zM1373 186h1v1h-1zM729 187h1v1h-1zM823 187h1v1h-1zM867 187h1v1h-1zM1050 187h1v1h-1zM1099 187h1v1h-1zM1245 187h1v1h-1zM1283 187h1v1h-1zM1373 187h1v1h-1zM729 188h1v1h-1zM824 188h1v1h-1zM866 188h1v1h-1zM1050 188h1v1h-1zM1098 188h1v1h-1zM1246 188h1v1h-1zM1283 188h1v1h-1zM1373 188h1v1h-1zM728 189h1v1h-1zM824 189h1v1h-1zM866 189h1v1h-1zM1051 189h1v1h-1zM1098 189h1v1h-1zM1247 189h1v1h-1zM1282 189h1v1h-1zM1373 189h1v1h-1zM727 190h1v1h-1zM824 190h1v1h-1zM865 190h1v1h-1zM1051 190h1v1h-1zM1098 190h1v1h-1zM1248 190h1v1h-1zM1281 190h1v1h-1zM1373 190h1v1h-1zM726 191h1v1h-1zM825 191h1v1h-1zM864 191h1v1h-1zM1052 191h1v1h-1zM1097 191h1v1h-1zM1249 191h1v1h-1zM1281 191h1v1h-1zM1373 191h1v1h-1zM726 192h1v1h-1zM825 192h1v1h-1zM863 192h1v1h-1zM1052 192h1v1h-1zM1097 192h1v1h-1zM1250 192h1v1h-1zM1280 192h1v1h-1zM1373 192h1v1h-1zM725 193h1v1h-1zM825 193h1v1h-1zM862 193h1v1h-1zM1053 193h1v1h-1zM1096 193h1v1h-1zM1251 193h1v1h-1zM1279 193h1v1h-1zM1373 193h1v1h-1zM724 194h1v1h-1zM826 194h1v1h-1zM861 194h1v1h-1zM1053 194h1v1h-1zM1096 194h1v1h-1zM1251 194h1v1h-1zM1278 194h1v1h-1zM1373 194h1v1h-1zM723 195h1v1h-1zM826 195h1v1h-1zM860 195h1v1h-1zM1054 195h1v1h-1zM1095 195h1v1h-1zM1252 195h1v1h-1zM1278 195h1v1h-1zM1374 195h1v1h-1zM723 196h1v1h-1zM826 196h1v1h-1zM859 196h1v1h-1zM1054 196h1v1h-1zM1095 196h1v1h-1zM1253 196h1v1h-1zM1277 196h1v1h-1zM1374 196h1v1h-1zM722 197h1v1h-1zM827 197h1v1h-1zM858 197h1v1h-1zM1055 197h1v1h-1zM1094 197h1v1h-1zM1254 197h1v1h-1zM1276 197h1v1h-1zM1374 197h1v1h-1zM721 198h1v1h-1zM827 198h1v1h-1zM857 198h1v1h-1zM1055 198h1v1h-1zM1094 198h1v1h-1zM1255 198h1v1h-1zM1276 198h1v1h-1zM1374 198h1v1h-1zM720 199h1v1h-1zM827 199h1v1h-1zM857 199h1v1h-1zM1056 199h1v1h-1zM1093 199h1v1h-1zM1256 199h1v1h-1zM1275 199h1v1h-1zM1374 199h1v1h-1zM720 200h1v1h-1zM828 200h1v1h-1zM856 200h1v1h-1zM1056 200h1v1h-1zM1093 200h1v1h-1zM1257 200h1v1h-1zM1274 200h1v1h-1zM1374 200h1v1h-1zM719 201h1v1h-1zM828 201h1v1h-1zM855 201h1v1h-1zM1057 201h1v1h-1zM1093 201h1v1h-1zM1258 201h1v1h-1zM1274 201h1v1h-1zM1374 201h1v1h-1zM718 202h1v1h-1zM828 202h1v1h-1zM854 202h1v1h-1zM1057 202h1v1h-1zM1092 202h1v1h-1zM1259 202h1v1h-1zM1273 202h1v1h-1zM1374 202h1v1h-1zM717 203h1v1h-1zM829 203h1v1h-1zM853 203h1v1h-1zM1057 203h1v1h-1zM1092 203h1v1h-1zM1260 203h1v1h-1zM1272 203h1v1h-1zM1374 203h1v1h-1zM717 204h1v1h-1zM829 204h1v1h-1zM852 204h1v1h-1zM1058 204h1v1h-1zM1091 204h1v1h-1zM1261 204h1v1h-1zM1272 204h1v1h-1zM1374 204h1v1h-1zM716 205h1v1h-1zM829 205h1v1h-1zM851 205h1v1h-1zM1058 205h1v1h-1zM1091 205h1v1h-1zM1262 205h1v1h-1zM1271 205h1v1h-1zM1374 205h1v1h-1zM715 206h1v1h-1zM830 206h1v1h-1zM850 206h1v1h-1zM1059 206h1v1h-1zM1090 206h1v1h-1zM1262 206h1v1h-1zM1270 206h1v1h-1zM1374 206h1v1h-1zM715 207h1v1h-1zM830 207h1v1h-1zM849 207h1v1h-1zM1059 207h1v1h-1zM1090 207h1v1h-1zM1263 207h1v1h-1zM1270 207h1v1h-1zM1375 207h1v1h-1zM714 208h1v1h-1zM830 208h1v1h-1zM848 208h1v1h-1zM1060 208h1v1h-1zM1089 208h1v1h-1zM1264 208h1v1h-1zM1269 208h1v1h-1zM1375 208h1v1h-1zM713 209h1v1h-1zM831 209h1v1h-1zM848 209h1v1h-1zM1060 209h1v1h-1zM1089 209h1v1h-1zM1265 209h1v1h-1zM1268 209h1v1h-1zM1375 209h1v1h-1zM712 210h1v1h-1zM831 210h1v1h-1zM847 210h1v1h-1zM1061 210h1v1h-1zM1089 210h1v1h-1zM1266 210h1v1h-1zM1268 210h1v1h-1zM1375 210h1v1h-1zM712 211h1v1h-1zM831 211h1v1h-1zM846 211h1v1h-1zM1061 211h1v1h-1zM1088 211h1v1h-1zM1267 211h1v1h-1zM1375 211h1v1h-1zM711 212h1v1h-1zM831 212h1v1h-1zM845 212h1v1h-1zM1062 212h1v1h-1zM1088 212h1v1h-1zM1375 212h1v1h-1zM710 213h1v1h-1zM832 213h1v1h-1zM844 213h1v1h-1zM1062 213h1v1h-1zM1087 213h1v1h-1zM1375 213h1v1h-1zM709 214h1v1h-1zM832 214h1v1h-1zM843 214h1v1h-1zM1063 214h1v1h-1zM1087 214h1v1h-1zM1375 214h1v1h-1zM709 215h1v1h-1zM832 215h1v1h-1zM842 215h1v1h-1zM1063 215h1v1h-1zM1086 215h1v1h-1zM1375 215h1v1h-1zM708 216h1v1h-1zM833 216h1v1h-1zM841 216h1v1h-1zM1064 216h1v1h-1zM1086 216h1v1h-1zM1375 216h1v1h-1zM707 217h1v1h-1zM833 217h1v1h-1zM840 217h1v1h-1zM1064 217h1v1h-1zM1085 217h1v1h-1zM1375 217h1v1h-1zM706 218h1v1h-1zM833 218h1v1h-1zM839 218h1v1h-1zM1065 218h1v1h-1zM1085 218h1v1h-1zM1375 218h1v1h-1zM706 219h1v1h-1zM834 219h1v1h-1zM839 219h1v1h-1zM1065 219h1v1h-1zM1084 219h1v1h-1zM1376 219h1v1h-1zM705 220h1v1h-1zM834 220h1v1h-1zM838 220h1v1h-1zM1066 220h1v1h-1zM1084 220h1v1h-1zM1376 220h1v1h-1zM704 221h1v1h-1zM834 221h1v1h-1zM837 221h1v1h-1zM1066 221h1v1h-1zM1084 221h1v1h-1zM1376 221h1v1h-1zM703 222h1v1h-1zM835 222h2v1h-2zM1066 222h1v1h-1zM1083 222h1v1h-1zM1376 222h1v1h-1zM703 223h1v1h-1zM835 223h1v1h-1zM1067 223h1v1h-1zM1083 223h1v1h-1zM1376 223h1v1h-1zM139 224h1v1h-1zM702 224h1v1h-1zM1067 224h1v1h-1zM1082 224h1v1h-1zM1376 224h1v1h-1zM138 225h1v1h-1zM140 225h1v1h-1zM701 225h1v1h-1zM1068 225h1v1h-1zM1082 225h1v1h-1zM1376 225h1v1h-1zM138 226h1v1h-1zM141 226h1v1h-1zM701 226h1v1h-1zM1068 226h1v1h-1zM1081 226h1v1h-1zM1376 226h1v1h-1zM137 227h1v1h-1zM142 227h1v1h-1zM700 227h1v1h-1zM1069 227h1v1h-1zM1081 227h1v1h-1zM1376 227h1v1h-1zM136 228h1v1h-1zM143 228h1v1h-1zM699 228h1v1h-1zM1069 228h1v1h-1zM1080 228h1v1h-1zM1376 228h1v1h-1zM136 229h1v1h-1zM144 229h1v1h-1zM698 229h1v1h-1zM1070 229h1v1h-1zM1080 229h1v1h-1zM1376 229h1v1h-1zM135 230h1v1h-1zM145 230h1v1h-1zM698 230h1v1h-1zM1070 230h1v1h-1zM1080 230h1v1h-1zM1376 230h1v1h-1zM135 231h1v1h-1zM145 231h1v1h-1zM697 231h1v1h-1zM1071 231h1v1h-1zM1079 231h1v1h-1zM1377 231h1v1h-1zM134 232h1v1h-1zM146 232h1v1h-1zM696 232h1v1h-1zM1071 232h1v1h-1zM1079 232h1v1h-1zM1377 232h1v1h-1zM133 233h1v1h-1zM147 233h1v1h-1zM695 233h1v1h-1zM1072 233h1v1h-1zM1078 233h1v1h-1zM1377 233h1v1h-1zM133 234h1v1h-1zM148 234h1v1h-1zM695 234h1v1h-1zM1072 234h1v1h-1zM1078 234h1v1h-1zM1377 234h1v1h-1zM132 235h1v1h-1zM149 235h1v1h-1zM694 235h1v1h-1zM1073 235h1v1h-1zM1077 235h1v1h-1zM1377 235h1v1h-1zM131 236h1v1h-1zM150 236h1v1h-1zM693 236h1v1h-1zM1073 236h1v1h-1zM1077 236h1v1h-1zM1377 236h1v1h-1zM131 237h1v1h-1zM151 237h1v1h-1zM692 237h1v1h-1zM1074 237h1v1h-1zM1076 237h1v1h-1zM1377 237h1v1h-1zM130 238h1v1h-1zM152 238h1v1h-1zM692 238h1v1h-1zM1074 238h1v1h-1zM1076 238h1v1h-1zM1377 238h1v1h-1zM130 239h1v1h-1zM153 239h1v1h-1zM691 239h1v1h-1zM1075 239h1v1h-1zM1377 239h1v1h-1zM129 240h1v1h-1zM154 240h1v1h-1zM690 240h1v1h-1zM1075 240h1v1h-1zM1377 240h1v1h-1zM128 241h1v1h-1zM155 241h1v1h-1zM689 241h1v1h-1zM1377 241h1v1h-1zM128 242h1v1h-1zM156 242h1v1h-1zM689 242h1v1h-1zM1377 242h1v1h-1zM127 243h1v1h-1zM156 243h1v1h-1zM688 243h1v1h-1zM1378 243h1v1h-1zM126 244h1v1h-1zM157 244h1v1h-1zM687 244h1v1h-1zM1378 244h1v1h-1zM126 245h1v1h-1zM158 245h1v1h-1zM686 245h1v1h-1zM1378 245h1v1h-1zM125 246h1v1h-1zM159 246h1v1h-1zM686 246h1v1h-1zM1378 246h1v1h-1zM124 247h1v1h-1zM160 247h1v1h-1zM685 247h1v1h-1zM1378 247h1v1h-1zM124 248h1v1h-1zM161 248h1v1h-1zM684 248h1v1h-1zM1378 248h1v1h-1zM123 249h1v1h-1zM162 249h1v1h-1zM684 249h1v1h-1zM1378 249h1v1h-1zM123 250h1v1h-1zM163 250h1v1h-1zM683 250h1v1h-1zM1378 250h1v1h-1zM122 251h1v1h-1zM164 251h1v1h-1zM682 251h1v1h-1zM1378 251h1v1h-1zM121 252h1v1h-1zM165 252h1v1h-1zM681 252h1v1h-1zM1378 252h1v1h-1zM121 253h1v1h-1zM166 253h1v1h-1zM681 253h1v1h-1zM1378 253h1v1h-1zM120 254h1v1h-1zM167 254h1v1h-1zM680 254h1v1h-1zM1378 254h1v1h-1zM119 255h1v1h-1zM167 255h1v1h-1zM679 255h1v1h-1zM1379 255h1v1h-1zM119 256h1v1h-1zM168 256h1v1h-1zM678 256h1v1h-1zM1379 256h1v1h-1zM118 257h1v1h-1zM169 257h1v1h-1zM678 257h1v1h-1zM1379 257h1v1h-1zM117 258h1v1h-1zM170 258h1v1h-1zM677 258h1v1h-1zM1379 258h1v1h-1zM117 259h1v1h-1zM171 259h1v1h-1zM676 259h1v1h-1zM1379 259h1v1h-1zM116 260h1v1h-1zM172 260h1v1h-1zM675 260h1v1h-1zM1379 260h1v1h-1zM116 261h1v1h-1zM173 261h1v1h-1zM675 261h1v1h-1zM1379 261h1v1h-1zM115 262h1v1h-1zM174 262h1v1h-1zM674 262h1v1h-1zM114 263h1v1h-1zM175 263h1v1h-1zM673 263h1v1h-1zM114 264h1v1h-1zM176 264h1v1h-1zM672 264h1v1h-1zM113 265h1v1h-1zM177 265h1v1h-1zM672 265h1v1h-1zM112 266h1v1h-1zM178 266h1v1h-1zM671 266h1v1h-1zM112 267h1v1h-1zM178 267h1v1h-1zM670 267h1v1h-1zM111 268h1v1h-1zM179 268h1v1h-1zM670 268h1v1h-1zM111 269h1v1h-1zM180 269h1v1h-1zM669 269h1v1h-1zM110 270h1v1h-1zM181 270h1v1h-1zM668 270h1v1h-1zM109 271h1v1h-1zM182 271h1v1h-1zM667 271h1v1h-1zM109 272h1v1h-1zM183 272h1v1h-1zM667 272h1v1h-1zM108 273h1v1h-1zM184 273h1v1h-1zM666 273h1v1h-1zM107 274h1v1h-1zM185 274h1v1h-1zM665 274h1v1h-1zM107 275h1v1h-1zM186 275h1v1h-1zM664 275h1v1h-1zM106 276h1v1h-1zM187 276h1v1h-1zM664 276h1v1h-1zM105 277h1v1h-1zM188 277h1v1h-1zM663 277h1v1h-1zM105 278h1v1h-1zM189 278h1v1h-1zM662 278h1v1h-1zM104 279h1v1h-1zM189 279h1v1h-1zM661 279h1v1h-1zM104 280h1v1h-1zM190 280h1v1h-1zM661 280h1v1h-1zM103 281h1v1h-1zM191 281h1v1h-1zM660 281h1v1h-1zM102 282h1v1h-1zM192 282h1v1h-1zM659 282h1v1h-1zM102 283h1v1h-1zM193 283h1v1h-1zM658 283h1v1h-1zM101 284h1v1h-1zM194 284h1v1h-1zM658 284h1v1h-1zM100 285h1v1h-1zM195 285h1v1h-1zM657 285h1v1h-1zM100 286h1v1h-1zM196 286h1v1h-1zM656 286h1v1h-1zM99 287h1v1h-1zM197 287h1v1h-1zM655 287h1v1h-1zM99 288h1v1h-1zM198 288h1v1h-1zM655 288h1v1h-1zM98 289h1v1h-1zM199 289h1v1h-1zM654 289h1v1h-1zM97 290h1v1h-1zM200 290h1v1h-1zM653 290h1v1h-1zM97 291h1v1h-1zM200 291h1v1h-1zM653 291h1v1h-1zM96 292h1v1h-1zM201 292h1v1h-1zM652 292h1v1h-1zM95 293h1v1h-1zM202 293h1v1h-1zM651 293h1v1h-1zM95 294h1v1h-1zM203 294h1v1h-1zM650 294h1v1h-1zM94 295h1v1h-1zM204 295h1v1h-1zM650 295h1v1h-1zM93 296h1v1h-1zM205 296h1v1h-1zM649 296h1v1h-1zM93 297h1v1h-1zM206 297h1v1h-1zM648 297h1v1h-1zM92 298h1v1h-1zM207 298h1v1h-1zM647 298h1v1h-1zM92 299h1v1h-1zM208 299h1v1h-1zM647 299h1v1h-1zM91 300h1v1h-1zM209 300h1v1h-1zM646 300h1v1h-1zM90 301h1v1h-1zM210 301h1v1h-1zM645 301h1v1h-1zM90 302h1v1h-1zM211 302h1v1h-1zM644 302h1v1h-1zM89 303h1v1h-1zM211 303h1v1h-1zM644 303h1v1h-1zM88 304h1v1h-1zM212 304h1v1h-1zM643 304h1v1h-1zM88 305h1v1h-1zM213 305h1v1h-1zM642 305h1v1h-1zM87 306h1v1h-1zM214 306h1v1h-1zM641 306h1v1h-1zM86 307h1v1h-1zM215 307h1v1h-1zM641 307h1v1h-1zM86 308h1v1h-1zM216 308h1v1h-1zM640 308h1v1h-1zM85 309h1v1h-1zM217 309h1v1h-1zM639 309h1v1h-1zM85 310h1v1h-1zM218 310h1v1h-1zM639 310h1v1h-1zM84 311h1v1h-1zM219 311h1v1h-1zM638 311h1v1h-1zM83 312h1v1h-1zM220 312h1v1h-1zM637 312h1v1h-1zM83 313h1v1h-1zM221 313h1v1h-1zM636 313h1v1h-1zM82 314h1v1h-1zM222 314h1v1h-1zM636 314h1v1h-1zM81 315h1v1h-1zM223 315h1v1h-1zM635 315h1v1h-1zM81 316h1v1h-1zM223 316h1v1h-1zM634 316h1v1h-1zM80 317h1v1h-1zM224 317h1v1h-1zM633 317h1v1h-1zM80 318h1v1h-1zM225 318h1v1h-1zM633 318h1v1h-1zM79 319h1v1h-1zM226 319h1v1h-1zM632 319h1v1h-1zM78 320h1v1h-1zM227 320h1v1h-1zM631 320h1v1h-1zM78 321h1v1h-1zM228 321h1v1h-1zM630 321h1v1h-1zM77 322h1v1h-1zM229 322h1v1h-1zM630 322h1v1h-1zM76 323h1v1h-1zM230 323h1v1h-1zM629 323h1v1h-1zM76 324h1v1h-1zM231 324h1v1h-1zM628 324h1v1h-1zM75 325h1v1h-1zM232 325h1v1h-1zM627 325h1v1h-1zM74 326h1v1h-1zM233 326h1v1h-1zM627 326h1v1h-1zM74 327h1v1h-1zM234 327h1v1h-1zM626 327h1v1h-1zM73 328h1v1h-1zM234 328h1v1h-1zM625 328h1v1h-1zM73 329h1v1h-1zM235 329h1v1h-1zM624 329h1v1h-1zM72 330h1v1h-1zM236 330h1v1h-1zM624 330h1v1h-1zM71 331h1v1h-1zM237 331h1v1h-1zM623 331h1v1h-1zM71 332h1v1h-1zM238 332h1v1h-1zM622 332h1v1h-1zM70 333h1v1h-1zM239 333h1v1h-1zM622 333h1v1h-1zM69 334h1v1h-1zM240 334h1v1h-1zM621 334h1v1h-1zM69 335h1v1h-1zM241 335h1v1h-1zM620 335h1v1h-1zM68 336h1v1h-1zM242 336h1v1h-1zM619 336h1v1h-1zM67 337h1v1h-1zM243 337h1v1h-1zM619 337h1v1h-1zM67 338h1v1h-1zM244 338h1v1h-1zM618 338h1v1h-1zM66 339h1v1h-1zM245 339h1v1h-1zM617 339h1v1h-1zM66 340h1v1h-1zM245 340h1v1h-1zM616 340h1v1h-1zM65 341h1v1h-1zM246 341h1v1h-1zM616 341h1v1h-1zM64 342h1v1h-1zM247 342h1v1h-1zM615 342h1v1h-1zM64 343h1v1h-1zM248 343h1v1h-1zM614 343h1v1h-1zM63 344h1v1h-1zM249 344h1v1h-1zM613 344h1v1h-1zM62 345h1v1h-1zM250 345h1v1h-1zM613 345h1v1h-1zM62 346h1v1h-1zM251 346h1v1h-1zM612 346h1v1h-1zM61 347h1v1h-1zM252 347h1v1h-1zM611 347h1v1h-1zM61 348h1v1h-1zM253 348h1v1h-1zM610 348h1v1h-1zM60 349h1v1h-1zM254 349h1v1h-1zM610 349h1v1h-1zM59 350h1v1h-1zM255 350h1v1h-1zM609 350h1v1h-1zM59 351h1v1h-1zM256 351h1v1h-1zM608 351h1v1h-1zM58 352h1v1h-1zM256 352h1v1h-1zM607 352h1v1h-1zM57 353h1v1h-1zM257 353h1v1h-1zM607 353h1v1h-1zM57 354h1v1h-1zM258 354h1v1h-1zM606 354h1v1h-1zM56 355h1v1h-1zM259 355h1v1h-1zM605 355h1v1h-1zM55 356h1v1h-1zM260 356h1v1h-1zM605 356h1v1h-1zM55 357h1v1h-1zM261 357h1v1h-1zM604 357h1v1h-1zM54 358h1v1h-1zM262 358h1v1h-1zM603 358h1v1h-1zM54 359h1v1h-1zM263 359h1v1h-1zM602 359h1v1h-1zM0 360h1v1h-1zM53 360h1v1h-1zM264 360h1v1h-1zM602 360h1v1h-1zM1 361h1v1h-1zM52 361h1v1h-1zM265 361h1v1h-1zM601 361h1v1h-1zM1 362h1v1h-1zM52 362h1v1h-1zM266 362h1v1h-1zM600 362h1v1h-1zM2 363h1v1h-1zM51 363h1v1h-1zM267 363h1v1h-1zM599 363h1v1h-1zM3 364h1v1h-1zM50 364h1v1h-1zM267 364h1v1h-1zM599 364h1v1h-1zM3 365h1v1h-1zM50 365h1v1h-1zM268 365h1v1h-1zM598 365h1v1h-1zM4 366h1v1h-1zM49 366h1v1h-1zM269 366h1v1h-1zM597 366h1v1h-1zM5 367h1v1h-1zM49 367h1v1h-1zM270 367h1v1h-1zM596 367h1v1h-1zM5 368h1v1h-1zM48 368h1v1h-1zM271 368h1v1h-1zM596 368h1v1h-1zM6 369h1v1h-1zM47 369h1v1h-1zM272 369h1v1h-1zM595 369h1v1h-1zM7 370h1v1h-1zM47 370h1v1h-1zM273 370h1v1h-1zM594 370h1v1h-1zM7 371h1v1h-1zM46 371h1v1h-1zM274 371h1v1h-1zM593 371h1v1h-1zM8 372h1v1h-1zM45 372h1v1h-1zM275 372h1v1h-1zM593 372h1v1h-1zM9 373h1v1h-1zM45 373h1v1h-1zM276 373h1v1h-1zM592 373h1v1h-1zM9 374h1v1h-1zM44 374h1v1h-1zM277 374h1v1h-1zM591 374h1v1h-1zM10 375h1v1h-1zM43 375h1v1h-1zM278 375h1v1h-1zM591 375h1v1h-1zM10 376h1v1h-1zM43 376h1v1h-1zM278 376h1v1h-1zM590 376h1v1h-1zM11 377h1v1h-1zM42 377h1v1h-1zM279 377h1v1h-1zM589 377h1v1h-1zM12 378h1v1h-1zM42 378h1v1h-1zM280 378h1v1h-1zM588 378h1v1h-1zM12 379h1v1h-1zM41 379h1v1h-1zM281 379h1v1h-1zM588 379h1v1h-1zM13 380h1v1h-1zM40 380h1v1h-1zM282 380h1v1h-1zM587 380h1v1h-1zM14 381h1v1h-1zM40 381h1v1h-1zM283 381h1v1h-1zM586 381h1v1h-1zM14 382h1v1h-1zM39 382h1v1h-1zM284 382h1v1h-1zM585 382h1v1h-1zM15 383h1v1h-1zM38 383h1v1h-1zM285 383h1v1h-1zM585 383h1v1h-1zM16 384h1v1h-1zM38 384h1v1h-1zM286 384h1v1h-1zM584 384h1v1h-1zM16 385h1v1h-1zM37 385h1v1h-1zM287 385h1v1h-1zM583 385h1v1h-1zM17 386h1v1h-1zM36 386h1v1h-1zM288 386h1v1h-1zM582 386h1v1h-1zM18 387h1v1h-1zM36 387h1v1h-1zM289 387h1v1h-1zM582 387h1v1h-1zM18 388h1v1h-1zM35 388h1v1h-1zM289 388h1v1h-1zM581 388h1v1h-1zM19 389h1v1h-1zM35 389h1v1h-1zM290 389h1v1h-1zM580 389h1v1h-1zM20 390h1v1h-1zM34 390h1v1h-1zM291 390h1v1h-1zM579 390h1v1h-1zM20 391h1v1h-1zM33 391h1v1h-1zM292 391h1v1h-1zM579 391h1v1h-1zM21 392h1v1h-1zM33 392h1v1h-1zM293 392h1v1h-1zM578 392h1v1h-1zM22 393h1v1h-1zM32 393h1v1h-1zM294 393h1v1h-1zM577 393h1v1h-1zM22 394h1v1h-1zM31 394h1v1h-1zM295 394h1v1h-1zM576 394h1v1h-1zM23 395h1v1h-1zM31 395h1v1h-1zM296 395h1v1h-1zM576 395h1v1h-1zM24 396h1v1h-1zM30 396h1v1h-1zM297 396h1v1h-1zM575 396h1v1h-1zM24 397h1v1h-1zM30 397h1v1h-1zM298 397h1v1h-1zM574 397h1v1h-1zM25 398h1v1h-1zM29 398h1v1h-1zM299 398h1v1h-1zM574 398h1v1h-1zM26 399h1v1h-1zM28 399h1v1h-1zM300 399h1v1h-1zM573 399h1v1h-1zM26 400h1v1h-1zM28 400h1v1h-1zM301 400h1v1h-1zM572 400h1v1h-1zM27 401h1v1h-1zM301 401h1v1h-1zM571 401h1v1h-1zM302 402h1v1h-1zM571 402h1v1h-1zM303 403h1v1h-1zM570 403h1v1h-1zM304 404h1v1h-1zM569 404h1v1h-1zM305 405h1v1h-1zM568 405h1v1h-1zM306 406h1v1h-1zM568 406h1v1h-1zM307 407h1v1h-1zM567 407h1v1h-1zM308 408h1v1h-1zM566 408h1v1h-1zM309 409h1v1h-1zM565 409h1v1h-1zM310 410h1v1h-1zM565 410h1v1h-1zM311 411h1v1h-1zM564 411h1v1h-1zM312 412h1v1h-1zM563 412h1v1h-1zM312 413h1v1h-1zM562 413h1v1h-1zM313 414h1v1h-1zM562 414h1v1h-1zM314 415h1v1h-1zM561 415h1v1h-1zM315 416h1v1h-1zM560 416h1v1h-1zM316 417h1v1h-1zM560 417h1v1h-1zM317 418h1v1h-1zM559 418h1v1h-1zM318 419h1v1h-1zM558 419h1v1h-1zM319 420h1v1h-1zM557 420h1v1h-1zM320 421h1v1h-1zM557 421h1v1h-1zM321 422h1v1h-1zM556 422h1v1h-1zM322 423h1v1h-1zM555 423h1v1h-1zM323 424h1v1h-1zM554 424h1v1h-1zM323 425h1v1h-1zM554 425h1v1h-1zM324 426h1v1h-1zM553 426h1v1h-1zM325 427h1v1h-1zM552 427h1v1h-1zM326 428h1v1h-1zM551 428h1v1h-1zM327 429h1v1h-1zM551 429h1v1h-1zM328 430h1v1h-1zM550 430h1v1h-1zM329 431h1v1h-1zM549 431h1v1h-1zM330 432h1v1h-1zM548 432h1v1h-1zM331 433h1v1h-1zM548 433h1v1h-1zM332 434h1v1h-1zM547 434h1v1h-1zM333 435h1v1h-1zM546 435h1v1h-1zM334 436h1v1h-1zM545 436h1v1h-1zM334 437h1v1h-1zM545 437h1v1h-1zM335 438h1v1h-1zM544 438h1v1h-1zM336 439h1v1h-1zM543 439h1v1h-1zM337 440h1v1h-1zM543 440h1v1h-1zM338 441h1v1h-1zM542 441h1v1h-1zM339 442h1v1h-1zM541 442h1v1h-1zM340 443h1v1h-1zM540 443h1v1h-1zM341 444h1v1h-1zM540 444h1v1h-1zM342 445h1v1h-1zM539 445h1v1h-1zM343 446h1v1h-1zM538 446h1v1h-1zM344 447h1v1h-1zM537 447h1v1h-1zM345 448h1v1h-1zM537 448h1v1h-1zM345 449h1v1h-1zM536 449h1v1h-1zM346 450h1v1h-1zM535 450h1v1h-1zM347 451h1v1h-1zM534 451h1v1h-1zM348 452h1v1h-1zM534 452h1v1h-1zM349 453h1v1h-1zM533 453h1v1h-1zM350 454h1v1h-1zM532 454h1v1h-1zM351 455h1v1h-1zM531 455h1v1h-1zM352 456h1v1h-1zM531 456h1v1h-1zM353 457h1v1h-1zM530 457h1v1h-1zM354 458h1v1h-1zM529 458h1v1h-1zM355 459h1v1h-1zM529 459h1v1h-1zM356 460h1v1h-1zM528 460h1v1h-1zM356 461h1v1h-1zM527 461h1v1h-1zM357 462h1v1h-1zM526 462h1v1h-1zM358 463h1v1h-1zM526 463h1v1h-1zM359 464h1v1h-1zM525 464h1v1h-1zM360 465h1v1h-1zM524 465h1v1h-1zM361 466h1v1h-1zM523 466h1v1h-1zM362 467h1v1h-1zM523 467h1v1h-1zM363 468h1v1h-1zM522 468h1v1h-1zM364 469h1v1h-1zM521 469h1v1h-1zM365 470h1v1h-1zM520 470h1v1h-1zM366 471h1v1h-1zM520 471h1v1h-1zM367 472h1v1h-1zM519 472h1v1h-1zM367 473h1v1h-1zM518 473h1v1h-1zM368 474h1v1h-1zM517 474h1v1h-1zM369 475h1v1h-1zM517 475h1v1h-1zM370 476h1v1h-1zM516 476h1v1h-1zM371 477h1v1h-1zM515 477h1v1h-1zM372 478h1v1h-1zM514 478h1v1h-1zM373 479h1v1h-1zM514 479h1v1h-1zM374 480h1v1h-1zM513 480h1v1h-1zM375 481h1v1h-1zM512 481h1v1h-1zM376 482h1v1h-1zM512 482h1v1h-1zM377 483h1v1h-1zM511 483h1v1h-1zM378 484h1v1h-1zM510 484h1v1h-1zM379 485h1v1h-1zM509 485h1v1h-1zM379 486h1v1h-1zM509 486h1v1h-1zM380 487h1v1h-1zM508 487h1v1h-1zM381 488h1v1h-1zM507 488h1v1h-1zM382 489h1v1h-1zM506 489h1v1h-1zM383 490h1v1h-1zM506 490h1v1h-1zM384 491h1v1h-1zM505 491h1v1h-1zM385 492h1v1h-1zM504 492h1v1h-1zM386 493h1v1h-1zM503 493h1v1h-1zM387 494h1v1h-1zM503 494h1v1h-1zM388 495h1v1h-1zM502 495h1v1h-1zM389 496h1v1h-1zM501 496h1v1h-1zM390 497h1v1h-1zM500 497h1v1h-1zM390 498h1v1h-1zM500 498h1v1h-1zM391 499h1v1h-1zM499 499h1v1h-1zM392 500h1v1h-1zM498 500h1v1h-1zM393 501h1v1h-1zM498 501h1v1h-1zM394 502h1v1h-1zM497 502h1v1h-1zM395 503h1v1h-1zM496 503h1v1h-1zM396 504h1v1h-1zM495 504h1v1h-1zM397 505h1v1h-1zM495 505h1v1h-1zM398 506h1v1h-1zM494 506h1v1h-1zM399 507h1v1h-1zM493 507h1v1h-1zM400 508h1v1h-1zM492 508h1v1h-1zM401 509h1v1h-1zM492 509h1v1h-1zM401 510h1v1h-1zM491 510h1v1h-1zM402 511h1v1h-1zM490 511h1v1h-1zM403 512h1v1h-1zM489 512h1v1h-1zM404 513h1v1h-1zM489 513h1v1h-1zM405 514h1v1h-1zM488 514h1v1h-1zM406 515h1v1h-1zM487 515h1v1h-1zM407 516h1v1h-1zM486 516h1v1h-1zM408 517h1v1h-1zM486 517h1v1h-1zM409 518h1v1h-1zM485 518h1v1h-1zM410 519h1v1h-1zM484 519h1v1h-1zM411 520h1v1h-1zM483 520h1v1h-1zM412 521h1v1h-1zM483 521h1v1h-1zM412 522h1v1h-1zM482 522h1v1h-1zM413 523h1v1h-1zM481 523h1v1h-1zM414 524h1v1h-1zM481 524h1v1h-1zM415 525h1v1h-1zM480 525h1v1h-1zM416 526h1v1h-1zM479 526h1v1h-1zM417 527h1v1h-1zM478 527h1v1h-1zM418 528h1v1h-1zM478 528h1v1h-1zM419 529h1v1h-1zM477 529h1v1h-1zM420 530h1v1h-1zM476 530h1v1h-1zM421 531h1v1h-1zM475 531h1v1h-1zM422 532h1v1h-1zM475 532h1v1h-1zM423 533h1v1h-1zM474 533h1v1h-1zM423 534h1v1h-1zM473 534h1v1h-1zM424 535h1v1h-1zM472 535h1v1h-1zM425 536h1v1h-1zM472 536h1v1h-1zM426 537h1v1h-1zM471 537h1v1h-1zM427 538h1v1h-1zM470 538h1v1h-1zM428 539h1v1h-1zM469 539h1v1h-1zM429 540h1v1h-1zM469 540h1v1h-1zM430 541h1v1h-1zM468 541h1v1h-1zM431 542h1v1h-1zM467 542h1v1h-1zM432 543h1v1h-1zM467 543h1v1h-1zM433 544h1v1h-1zM466 544h1v1h-1zM434 545h1v1h-1zM465 545h1v1h-1zM434 546h1v1h-1zM464 546h1v1h-1zM435 547h1v1h-1zM464 547h1v1h-1zM436 548h1v1h-1zM463 548h1v1h-1zM437 549h1v1h-1zM462 549h1v1h-1zM438 550h1v1h-1zM461 550h1v1h-1zM439 551h1v1h-1zM461 551h1v1h-1zM440 552h1v1h-1zM460 552h1v1h-1zM441 553h1v1h-1zM459 553h1v1h-1zM442 554h1v1h-1zM458 554h1v1h-1zM443 555h1v1h-1zM458 555h1v1h-1zM444 556h1v1h-1zM457 556h1v1h-1zM445 557h1v1h-1zM456 557h1v1h-1zM445 558h1v1h-1zM455 558h1v1h-1zM446 559h1v1h-1zM455 559h1v1h-1zM447 560h1v1h-1zM454 560h1v1h-1zM448 561h1v1h-1zM453 561h1v1h-1zM449 562h1v1h-1zM452 562h1v1h-1zM450 563h1v1h-1zM452 563h1v1h-1zM451 564h1v1h-1z"/>
<g shape-rendering="crispEdges" stroke-width="1">
<line x1="0" y1="174.5" x2="1649" y2="174.5" stroke="#ff0000"/>
<rect x="1649.5" y="172.5" width="4" height="4" fill="#fff" stroke="#ff0000"/>
<line x1="0" y1="206.5" x2="1649" y2="206.5" stroke="#ff0000"/>
<rect x="1649.5" y="204.5" width="4" height="4" fill="#fff" stroke="#ff0000"/>
<line x1="0" y1="239.5" x2="1649" y2="239.5" stroke="#ffa500"/>
<rect x="1649.5" y="237.5" width="4" height="4" fill="#fff" stroke="#ffa500"/>
<line x1="0" y1="252.5" x2="1654" y2="252.5" stroke="#c0c0c0"/>
<line x1="0" y1="285.5" x2="1649" y2="285.5" stroke="#0000ff"/>
<rect x="1649.5" y="283.5" width="4" height="4" fill="#fff" stroke="#0000ff"/>
<line x1="0" y1="315.5" x2="1649" y2="315.5" stroke="#0000ff"/>
<rect x="1649.5" y="313.5" width="4" height="4" fill="#fff" stroke="#0000ff"/>
</g>
<rect x="380.5" y="555.5" width="61" height="18" fill="#fff" stroke="#ff0000" shape-rendering="crispEdges"/><text x="383" y="571" font-family="Liberation Sans, Arial, sans-serif" font-size="16" fill="#ff0000">1.03500</text><line x1="442" y1="564.5" x2="452" y2="564.5" stroke="#ff0000" shape-rendering="crispEdges"/>
<rect x="1204.5" y="230.5" width="61" height="18" fill="#fff" stroke="#ff0000" shape-rendering="crispEdges"/><text x="1207" y="246" font-family="Liberation Sans, Arial, sans-serif" font-size="16" fill="#ff0000">1.06275</text><line x1="1266" y1="239.5" x2="1276" y2="239.5" stroke="#ff0000" shape-rendering="crispEdges"/>
<rect x="1266.5" y="237.5" width="2" height="3" fill="#fff" stroke="#ff0000" shape-rendering="crispEdges"/>
<rect x="1308.5" y="252.5" width="61" height="18" fill="#fff" stroke="#ff0000" shape-rendering="crispEdges"/><text x="1311" y="268" font-family="Liberation Sans, Arial, sans-serif" font-size="16" fill="#ff0000">1.06088</text><line x1="1370" y1="261.5" x2="1380" y2="261.5" stroke="#ff0000" shape-rendering="crispEdges"/>
<rect x="1370.5" y="259.5" width="2" height="3" fill="#fff" stroke="#ff0000" shape-rendering="crispEdges"/>
<g stroke="#ff0000" stroke-width="4" fill="none" shape-rendering="crispEdges"><line x1="1364.3" y1="96" x2="1397" y2="276"/></g><polygon points="1391.8,273.2 1396.5,276 1402.2,272 1398.6,285.8" fill="#ff0000"/>
<g shape-rendering="crispEdges">
<line x1="3.5" y1="309" x2="3.5" y2="379" stroke="#000"/>
<rect x="1.5" y="352.5" width="4" height="9" fill="#fff" stroke="#000"/>
<line x1="11.5" y1="347" x2="11.5" y2="374" stroke="#000"/>
<rect x="9" y="352" width="5" height="20" fill="#000"/>
<line x1="19.5" y1="341" x2="19.5" y2="387" stroke="#000"/>
<rect x="17.5" y="366.5" width="4" height="5" fill="#fff" stroke="#000"/>
<line x1="27.5" y1="359" x2="27.5" y2="402" stroke="#000"/>
<rect x="25" y="364" width="5" height="23" fill="#000"/>
<line x1="35.5" y1="374" x2="35.5" y2="390" stroke="#000"/>
<rect x="33.5" y="379.5" width="4" height="7" fill="#fff" stroke="#000"/>
<line x1="43.5" y1="359" x2="43.5" y2="382" stroke="#000"/>
<rect x="41.5" y="368.5" width="4" height="10" fill="#fff" stroke="#000"/>
<line x1="51.5" y1="357" x2="51.5" y2="398" stroke="#000"/>
<rect x="49" y="368" width="5" height="1" fill="#000"/>
<line x1="59.5" y1="340" x2="59.5" y2="400" stroke="#000"/>
<rect x="57.5" y="344.5" width="4" height="24" fill="#fff" stroke="#000"/>
<line x1="67.5" y1="299" x2="67.5" y2="355" stroke="#000"/>
<rect x="65" y="345" width="5" height="9" fill="#000"/>
<line x1="75.5" y1="342" x2="75.5" y2="378" stroke="#000"/>
<rect x="73" y="352" width="5" height="10" fill="#000"/>
<line x1="83.5" y1="358" x2="83.5" y2="370" stroke="#000"/>
<rect x="81" y="360" width="5" height="1" fill="#000"/>
<line x1="91.5" y1="350" x2="91.5" y2="375" stroke="#000"/>
<rect x="89" y="360" width="5" height="13" fill="#000"/>
<line x1="99.5" y1="356" x2="99.5" y2="385" stroke="#000"/>
<rect x="97.5" y="361.5" width="4" height="11" fill="#fff" stroke="#000"/>
<line x1="107.5" y1="347" x2="107.5" y2="375" stroke="#000"/>
<rect x="105.5" y="354.5" width="4" height="8" fill="#fff" stroke="#000"/>
<line x1="115.5" y1="314" x2="115.5" y2="363" stroke="#000"/>
<rect x="113.5" y="343.5" width="4" height="12" fill="#fff" stroke="#000"/>
<line x1="123.5" y1="241" x2="123.5" y2="379" stroke="#000"/>
<rect x="121.5" y="263.5" width="4" height="80" fill="#fff" stroke="#000"/>
<line x1="131.5" y1="236" x2="131.5" y2="270" stroke="#000"/>
<rect x="129.5" y="248.5" width="4" height="14" fill="#fff" stroke="#000"/>
<line x1="139.5" y1="224" x2="139.5" y2="269" stroke="#000"/>
<rect x="137" y="248" width="5" height="6" fill="#000"/>
<line x1="147.5" y1="251" x2="147.5" y2="291" stroke="#000"/>
<rect x="145" y="252" width="5" height="25" fill="#000"/>
<line x1="155.5" y1="264" x2="155.5" y2="338" stroke="#000"/>
<rect x="153" y="275" width="5" height="60" fill="#000"/>
<line x1="163.5" y1="304" x2="163.5" y2="387" stroke="#000"/>
<rect x="161" y="334" width="5" height="50" fill="#000"/>
<line x1="171.5" y1="330" x2="171.5" y2="399" stroke="#000"/>
<rect x="169.5" y="330.5" width="4" height="53" fill="#fff" stroke="#000"/>
<line x1="179.5" y1="330" x2="179.5" y2="349" stroke="#000"/>
<rect x="177" y="330" width="5" height="14" fill="#000"/>
<line x1="187.5" y1="330" x2="187.5" y2="373" stroke="#000"/>
<rect x="185" y="343" width="5" height="9" fill="#000"/>
<line x1="195.5" y1="339" x2="195.5" y2="411" stroke="#000"/>
<rect x="193" y="351" width="5" height="16" fill="#000"/>
<line x1="203.5" y1="275" x2="203.5" y2="376" stroke="#000"/>
<rect x="201.5" y="313.5" width="4" height="53" fill="#fff" stroke="#000"/>
<line x1="211.5" y1="277" x2="211.5" y2="334" stroke="#000"/>
<rect x="209.5" y="307.5" width="4" height="6" fill="#fff" stroke="#000"/>
<line x1="219.5" y1="295" x2="219.5" y2="340" stroke="#000"/>
<rect x="217" y="306" width="5" height="29" fill="#000"/>
<line x1="227.5" y1="344" x2="227.5" y2="356" stroke="#000"/>
<rect x="225" y="346" width="5" height="7" fill="#000"/>
<line x1="235.5" y1="348" x2="235.5" y2="387" stroke="#000"/>
<rect x="233" y="351" width="5" height="29" fill="#000"/>
<line x1="243.5" y1="355" x2="243.5" y2="397" stroke="#000"/>
<rect x="241.5" y="376.5" width="4" height="3" fill="#fff" stroke="#000"/>
<line x1="251.5" y1="328" x2="251.5" y2="389" stroke="#000"/>
<rect x="249.5" y="335.5" width="4" height="41" fill="#fff" stroke="#000"/>
<line x1="259.5" y1="304" x2="259.5" y2="371" stroke="#000"/>
<rect x="257.5" y="323.5" width="4" height="12" fill="#fff" stroke="#000"/>
<line x1="267.5" y1="281" x2="267.5" y2="331" stroke="#000"/>
<rect x="265.5" y="321.5" width="4" height="2" fill="#fff" stroke="#000"/>
<line x1="275.5" y1="309" x2="275.5" y2="329" stroke="#000"/>
<rect x="273.5" y="316.5" width="4" height="6" fill="#fff" stroke="#000"/>
<line x1="283.5" y1="296" x2="283.5" y2="328" stroke="#000"/>
<rect x="281.5" y="297.5" width="4" height="19" fill="#fff" stroke="#000"/>
<line x1="291.5" y1="290" x2="291.5" y2="331" stroke="#000"/>
<rect x="289" y="298" width="5" height="27" fill="#000"/>
<line x1="299.5" y1="301" x2="299.5" y2="347" stroke="#000"/>
<rect x="297" y="323" width="5" height="6" fill="#000"/>
<line x1="307.5" y1="302" x2="307.5" y2="362" stroke="#000"/>
<rect x="305" y="327" width="5" height="29" fill="#000"/>
<line x1="315.5" y1="335" x2="315.5" y2="360" stroke="#000"/>
<rect x="313.5" y="348.5" width="4" height="5" fill="#fff" stroke="#000"/>
<line x1="323.5" y1="348" x2="323.5" y2="362" stroke="#000"/>
<rect x="321" y="348" width="5" height="10" fill="#000"/>
<line x1="331.5" y1="344" x2="331.5" y2="362" stroke="#000"/>
<rect x="329.5" y="347.5" width="4" height="10" fill="#fff" stroke="#000"/>
<line x1="339.5" y1="318" x2="339.5" y2="351" stroke="#000"/>
<rect x="337.5" y="329.5" width="4" height="18" fill="#fff" stroke="#000"/>
<line x1="347.5" y1="301" x2="347.5" y2="341" stroke="#000"/>
<rect x="345" y="328" width="5" height="11" fill="#000"/>
<line x1="355.5" y1="299" x2="355.5" y2="389" stroke="#000"/>
<rect x="353" y="337" width="5" height="11" fill="#000"/>
<line x1="363.5" y1="337" x2="363.5" y2="375" stroke="#000"/>
<rect x="361" y="346" width="5" height="27" fill="#000"/>
<line x1="371.5" y1="368" x2="371.5" y2="380" stroke="#000"/>
<rect x="369" y="371" width="5" height="7" fill="#000"/>
<line x1="379.5" y1="355" x2="379.5" y2="383" stroke="#000"/>
<rect x="377.5" y="364.5" width="4" height="13" fill="#fff" stroke="#000"/>
<line x1="387.5" y1="360" x2="387.5" y2="457" stroke="#000"/>
<rect x="385" y="364" width="5" height="74" fill="#000"/>
<line x1="395.5" y1="431" x2="395.5" y2="521" stroke="#000"/>
<rect x="393" y="436" width="5" height="74" fill="#000"/>
<line x1="403.5" y1="462" x2="403.5" y2="542" stroke="#000"/>
<rect x="401" y="508" width="5" height="30" fill="#000"/>
<line x1="411.5" y1="518" x2="411.5" y2="563" stroke="#000"/>
<rect x="409" y="536" width="5" height="3" fill="#000"/>
<line x1="419.5" y1="526" x2="419.5" y2="541" stroke="#000"/>
<rect x="417.5" y="533.5" width="4" height="6" fill="#fff" stroke="#000"/>
<line x1="427.5" y1="509" x2="427.5" y2="540" stroke="#000"/>
<rect x="425.5" y="517.5" width="4" height="15" fill="#fff" stroke="#000"/>
<line x1="435.5" y1="484" x2="435.5" y2="527" stroke="#000"/>
<rect x="433.5" y="489.5" width="4" height="29" fill="#fff" stroke="#000"/>
<line x1="443.5" y1="484" x2="443.5" y2="542" stroke="#000"/>
<rect x="441" y="488" width="5" height="40" fill="#000"/>
<line x1="451.5" y1="488" x2="451.5" y2="565" stroke="#000"/>
<rect x="449.5" y="493.5" width="4" height="34" fill="#fff" stroke="#000"/>
<line x1="459.5" y1="488" x2="459.5" y2="515" stroke="#000"/>
<rect x="457" y="494" width="5" height="8" fill="#000"/>
<line x1="467.5" y1="501" x2="467.5" y2="512" stroke="#000"/>
<rect x="465" y="501" width="5" height="9" fill="#000"/>
<line x1="475.5" y1="487" x2="475.5" y2="521" stroke="#000"/>
<rect x="473" y="507" width="5" height="5" fill="#000"/>
<line x1="483.5" y1="477" x2="483.5" y2="517" stroke="#000"/>
<rect x="481.5" y="497.5" width="4" height="14" fill="#fff" stroke="#000"/>
<line x1="491.5" y1="462" x2="491.5" y2="500" stroke="#000"/>
<rect x="489.5" y="485.5" width="4" height="12" fill="#fff" stroke="#000"/>
<line x1="499.5" y1="466" x2="499.5" y2="520" stroke="#000"/>
<rect x="497.5" y="484.5" width="4" height="2" fill="#fff" stroke="#000"/>
<line x1="507.5" y1="456" x2="507.5" y2="489" stroke="#000"/>
<rect x="505.5" y="470.5" width="4" height="14" fill="#fff" stroke="#000"/>
<line x1="515.5" y1="461" x2="515.5" y2="475" stroke="#000"/>
<rect x="513.5" y="462.5" width="4" height="7" fill="#fff" stroke="#000"/>
<line x1="523.5" y1="444" x2="523.5" y2="471" stroke="#000"/>
<rect x="521" y="461" width="5" height="1" fill="#000"/>
<line x1="531.5" y1="419" x2="531.5" y2="467" stroke="#000"/>
<rect x="529.5" y="432.5" width="4" height="28" fill="#fff" stroke="#000"/>
<line x1="539.5" y1="324" x2="539.5" y2="443" stroke="#000"/>
<rect x="537.5" y="343.5" width="4" height="89" fill="#fff" stroke="#000"/>
<line x1="547.5" y1="332" x2="547.5" y2="361" stroke="#000"/>
<rect x="545" y="343" width="5" height="10" fill="#000"/>
<line x1="555.5" y1="326" x2="555.5" y2="367" stroke="#000"/>
<rect x="553.5" y="336.5" width="4" height="16" fill="#fff" stroke="#000"/>
<line x1="563.5" y1="327" x2="563.5" y2="341" stroke="#000"/>
<rect x="561.5" y="333.5" width="4" height="3" fill="#fff" stroke="#000"/>
<line x1="571.5" y1="315" x2="571.5" y2="362" stroke="#000"/>
<rect x="569" y="332" width="5" height="22" fill="#000"/>
<line x1="579.5" y1="342" x2="579.5" y2="375" stroke="#000"/>
<rect x="577" y="352" width="5" height="21" fill="#000"/>
<line x1="587.5" y1="356" x2="587.5" y2="397" stroke="#000"/>
<rect x="585" y="370" width="5" height="10" fill="#000"/>
<line x1="595.5" y1="341" x2="595.5" y2="404" stroke="#000"/>
<rect x="593" y="377" width="5" height="25" fill="#000"/>
<line x1="603.5" y1="392" x2="603.5" y2="432" stroke="#000"/>
<rect x="601" y="400" width="5" height="31" fill="#000"/>
<line x1="611.5" y1="419" x2="611.5" y2="438" stroke="#000"/>
<rect x="609.5" y="422.5" width="4" height="7" fill="#fff" stroke="#000"/>
<line x1="619.5" y1="382" x2="619.5" y2="428" stroke="#000"/>
<rect x="617.5" y="390.5" width="4" height="30" fill="#fff" stroke="#000"/>
<line x1="627.5" y1="382" x2="627.5" y2="433" stroke="#000"/>
<rect x="625" y="390" width="5" height="10" fill="#000"/>
<line x1="635.5" y1="344" x2="635.5" y2="415" stroke="#000"/>
<rect x="633.5" y="369.5" width="4" height="30" fill="#fff" stroke="#000"/>
<line x1="643.5" y1="274" x2="643.5" y2="372" stroke="#000"/>
<rect x="641.5" y="288.5" width="4" height="82" fill="#fff" stroke="#000"/>
<line x1="651.5" y1="264" x2="651.5" y2="298" stroke="#000"/>
<rect x="649.5" y="283.5" width="4" height="5" fill="#fff" stroke="#000"/>
<line x1="659.5" y1="283" x2="659.5" y2="299" stroke="#000"/>
<rect x="657" y="283" width="5" height="16" fill="#000"/>
<line x1="667.5" y1="292" x2="667.5" y2="328" stroke="#000"/>
<rect x="665" y="296" width="5" height="17" fill="#000"/>
<line x1="675.5" y1="280" x2="675.5" y2="319" stroke="#000"/>
<rect x="673.5" y="300.5" width="4" height="13" fill="#fff" stroke="#000"/>
<line x1="683.5" y1="274" x2="683.5" y2="328" stroke="#000"/>
<rect x="681" y="300" width="5" height="13" fill="#000"/>
<line x1="691.5" y1="296" x2="691.5" y2="345" stroke="#000"/>
<rect x="689" y="312" width="5" height="10" fill="#000"/>
<line x1="699.5" y1="319" x2="699.5" y2="352" stroke="#000"/>
<rect x="697" y="321" width="5" height="16" fill="#000"/>
<line x1="707.5" y1="300" x2="707.5" y2="311" stroke="#000"/>
<rect x="705" y="300" width="5" height="11" fill="#000"/>
<line x1="715.5" y1="279" x2="715.5" y2="311" stroke="#000"/>
<rect x="713.5" y="281.5" width="4" height="27" fill="#fff" stroke="#000"/>
<line x1="723.5" y1="256" x2="723.5" y2="287" stroke="#000"/>
<rect x="721.5" y="272.5" width="4" height="9" fill="#fff" stroke="#000"/>
<line x1="731.5" y1="170" x2="731.5" y2="273" stroke="#000"/>
<rect x="729.5" y="208.5" width="4" height="64" fill="#fff" stroke="#000"/>
<line x1="739.5" y1="166" x2="739.5" y2="221" stroke="#000"/>
<rect x="737.5" y="189.5" width="4" height="20" fill="#fff" stroke="#000"/>
<line x1="747.5" y1="158" x2="747.5" y2="197" stroke="#000"/>
<rect x="745.5" y="171.5" width="4" height="20" fill="#fff" stroke="#000"/>
<line x1="755.5" y1="162" x2="755.5" y2="181" stroke="#000"/>
<rect x="753" y="171" width="5" height="5" fill="#000"/>
<line x1="763.5" y1="172" x2="763.5" y2="202" stroke="#000"/>
<rect x="761" y="175" width="5" height="14" fill="#000"/>
<line x1="771.5" y1="113" x2="771.5" y2="201" stroke="#000"/>
<rect x="769.5" y="120.5" width="4" height="68" fill="#fff" stroke="#000"/>
<line x1="779.5" y1="116" x2="779.5" y2="156" stroke="#000"/>
<rect x="777" y="120" width="5" height="20" fill="#000"/>
<line x1="787.5" y1="100" x2="787.5" y2="162" stroke="#000"/>
<rect x="785.5" y="105.5" width="4" height="34" fill="#fff" stroke="#000"/>
<line x1="795.5" y1="98" x2="795.5" y2="131" stroke="#000"/>
<rect x="793" y="105" width="5" height="17" fill="#000"/>
<line x1="803.5" y1="110" x2="803.5" y2="122" stroke="#000"/>
<rect x="801.5" y="117.5" width="4" height="3" fill="#fff" stroke="#000"/>
<line x1="811.5" y1="112" x2="811.5" y2="152" stroke="#000"/>
<rect x="809" y="117" width="5" height="24" fill="#000"/>
<line x1="819.5" y1="139" x2="819.5" y2="178" stroke="#000"/>
<rect x="817" y="139" width="5" height="37" fill="#000"/>
<line x1="827.5" y1="172" x2="827.5" y2="210" stroke="#000"/>
<rect x="825" y="174" width="5" height="31" fill="#000"/>
<line x1="835.5" y1="170" x2="835.5" y2="224" stroke="#000"/>
<rect x="833" y="202" width="5" height="5" fill="#000"/>
<line x1="843.5" y1="162" x2="843.5" y2="214" stroke="#000"/>
<rect x="841.5" y="183.5" width="4" height="23" fill="#fff" stroke="#000"/>
<line x1="851.5" y1="160" x2="851.5" y2="189" stroke="#000"/>
<rect x="849.5" y="171.5" width="4" height="11" fill="#fff" stroke="#000"/>
<line x1="859.5" y1="148" x2="859.5" y2="175" stroke="#000"/>
<rect x="857.5" y="155.5" width="4" height="16" fill="#fff" stroke="#000"/>
<line x1="867.5" y1="153" x2="867.5" y2="201" stroke="#000"/>
<rect x="865" y="153" width="5" height="17" fill="#000"/>
<line x1="875.5" y1="128" x2="875.5" y2="184" stroke="#000"/>
<rect x="873.5" y="149.5" width="4" height="19" fill="#fff" stroke="#000"/>
<line x1="883.5" y1="121" x2="883.5" y2="170" stroke="#000"/>
<rect x="881.5" y="125.5" width="4" height="24" fill="#fff" stroke="#000"/>
<line x1="891.5" y1="121" x2="891.5" y2="155" stroke="#000"/>
<rect x="889" y="125" width="5" height="3" fill="#000"/>
<line x1="899.5" y1="115" x2="899.5" y2="137" stroke="#000"/>
<rect x="897.5" y="117.5" width="4" height="10" fill="#fff" stroke="#000"/>
<line x1="907.5" y1="79" x2="907.5" y2="121" stroke="#000"/>
<rect x="905.5" y="90.5" width="4" height="28" fill="#fff" stroke="#000"/>
<line x1="915.5" y1="87" x2="915.5" y2="118" stroke="#000"/>
<rect x="913" y="90" width="5" height="25" fill="#000"/>
<line x1="923.5" y1="104" x2="923.5" y2="161" stroke="#000"/>
<rect x="921" y="113" width="5" height="36" fill="#000"/>
<line x1="931.5" y1="96" x2="931.5" y2="156" stroke="#000"/>
<rect x="929" y="147" width="5" height="1" fill="#000"/>
<line x1="939.5" y1="118" x2="939.5" y2="153" stroke="#000"/>
<rect x="937.5" y="118.5" width="4" height="28" fill="#fff" stroke="#000"/>
<line x1="947.5" y1="118" x2="947.5" y2="125" stroke="#000"/>
<rect x="945" y="121" width="5" height="1" fill="#000"/>
<line x1="955.5" y1="90" x2="955.5" y2="125" stroke="#000"/>
<rect x="953.5" y="103.5" width="4" height="19" fill="#fff" stroke="#000"/>
<line x1="963.5" y1="73" x2="963.5" y2="109" stroke="#000"/>
<rect x="961" y="103" width="5" height="3" fill="#000"/>
<line x1="971.5" y1="61" x2="971.5" y2="109" stroke="#000"/>
<rect x="969.5" y="77.5" width="4" height="28" fill="#fff" stroke="#000"/>
<line x1="979.5" y1="57" x2="979.5" y2="99" stroke="#000"/>
<rect x="977.5" y="63.5" width="4" height="14" fill="#fff" stroke="#000"/>
<line x1="987.5" y1="54" x2="987.5" y2="66" stroke="#000"/>
<rect x="985" y="62" width="5" height="1" fill="#000"/>
<line x1="995.5" y1="58" x2="995.5" y2="74" stroke="#000"/>
<rect x="993" y="62" width="5" height="9" fill="#000"/>
<line x1="1003.5" y1="68" x2="1003.5" y2="117" stroke="#000"/>
<rect x="1001" y="70" width="5" height="26" fill="#000"/>
<line x1="1011.5" y1="91" x2="1011.5" y2="125" stroke="#000"/>
<rect x="1009" y="95" width="5" height="18" fill="#000"/>
<line x1="1019.5" y1="101" x2="1019.5" y2="170" stroke="#000"/>
<rect x="1017" y="112" width="5" height="28" fill="#000"/>
<line x1="1027.5" y1="111" x2="1027.5" y2="181" stroke="#000"/>
<rect x="1025.5" y="119.5" width="4" height="22" fill="#fff" stroke="#000"/>
<line x1="1035.5" y1="100" x2="1035.5" y2="130" stroke="#000"/>
<rect x="1033.5" y="115.5" width="4" height="3" fill="#fff" stroke="#000"/>
<line x1="1043.5" y1="111" x2="1043.5" y2="121" stroke="#000"/>
<rect x="1041" y="115" width="5" height="1" fill="#000"/>
<line x1="1051.5" y1="116" x2="1051.5" y2="147" stroke="#000"/>
<rect x="1049" y="116" width="5" height="20" fill="#000"/>
<line x1="1059.5" y1="112" x2="1059.5" y2="150" stroke="#000"/>
<rect x="1057" y="135" width="5" height="4" fill="#000"/>
<line x1="1067.5" y1="111" x2="1067.5" y2="155" stroke="#000"/>
<rect x="1065" y="138" width="5" height="9" fill="#000"/>
<line x1="1075.5" y1="121" x2="1075.5" y2="241" stroke="#000"/>
<rect x="1073" y="145" width="5" height="76" fill="#000"/>
<line x1="1083.5" y1="201" x2="1083.5" y2="230" stroke="#000"/>
<rect x="1081.5" y="213.5" width="4" height="8" fill="#fff" stroke="#000"/>
<line x1="1091.5" y1="208" x2="1091.5" y2="222" stroke="#000"/>
<rect x="1089" y="214" width="5" height="1" fill="#000"/>
<line x1="1099.5" y1="204" x2="1099.5" y2="222" stroke="#000"/>
<rect x="1097.5" y="210.5" width="4" height="5" fill="#fff" stroke="#000"/>
<line x1="1107.5" y1="165" x2="1107.5" y2="216" stroke="#000"/>
<rect x="1105.5" y="173.5" width="4" height="37" fill="#fff" stroke="#000"/>
<line x1="1115.5" y1="159" x2="1115.5" y2="180" stroke="#000"/>
<rect x="1113.5" y="163.5" width="4" height="8" fill="#fff" stroke="#000"/>
<line x1="1123.5" y1="110" x2="1123.5" y2="175" stroke="#000"/>
<rect x="1121.5" y="119.5" width="4" height="44" fill="#fff" stroke="#000"/>
<line x1="1131.5" y1="98" x2="1131.5" y2="121" stroke="#000"/>
<rect x="1129.5" y="99.5" width="4" height="18" fill="#fff" stroke="#000"/>
<line x1="1139.5" y1="95" x2="1139.5" y2="104" stroke="#000"/>
<rect x="1137.5" y="96.5" width="4" height="2" fill="#fff" stroke="#000"/>
<line x1="1147.5" y1="80" x2="1147.5" y2="103" stroke="#000"/>
<rect x="1145.5" y="93.5" width="4" height="5" fill="#fff" stroke="#000"/>
<line x1="1155.5" y1="84" x2="1155.5" y2="103" stroke="#000"/>
<rect x="1153.5" y="89.5" width="4" height="4" fill="#fff" stroke="#000"/>
<line x1="1163.5" y1="82" x2="1163.5" y2="127" stroke="#000"/>
<rect x="1161" y="89" width="5" height="34" fill="#000"/>
<line x1="1171.5" y1="94" x2="1171.5" y2="151" stroke="#000"/>
<rect x="1169" y="122" width="5" height="22" fill="#000"/>
<line x1="1179.5" y1="121" x2="1179.5" y2="145" stroke="#000"/>
<rect x="1177.5" y="132.5" width="4" height="10" fill="#fff" stroke="#000"/>
<line x1="1187.5" y1="121" x2="1187.5" y2="132" stroke="#000"/>
<rect x="1185" y="126" width="5" height="1" fill="#000"/>
<line x1="1195.5" y1="118" x2="1195.5" y2="145" stroke="#000"/>
<rect x="1193" y="126" width="5" height="1" fill="#000"/>
<line x1="1203.5" y1="105" x2="1203.5" y2="135" stroke="#000"/>
<rect x="1201.5" y="106.5" width="4" height="20" fill="#fff" stroke="#000"/>
<line x1="1211.5" y1="94" x2="1211.5" y2="128" stroke="#000"/>
<rect x="1209" y="106" width="5" height="15" fill="#000"/>
<line x1="1219.5" y1="119" x2="1219.5" y2="176" stroke="#000"/>
<rect x="1217" y="119" width="5" height="41" fill="#000"/>
<line x1="1227.5" y1="152" x2="1227.5" y2="175" stroke="#000"/>
<rect x="1225" y="159" width="5" height="4" fill="#000"/>
<line x1="1235.5" y1="159" x2="1235.5" y2="174" stroke="#000"/>
<rect x="1233" y="160" width="5" height="9" fill="#000"/>
<line x1="1243.5" y1="165" x2="1243.5" y2="192" stroke="#000"/>
<rect x="1241" y="167" width="5" height="11" fill="#000"/>
<line x1="1251.5" y1="155" x2="1251.5" y2="197" stroke="#000"/>
<rect x="1249.5" y="169.5" width="4" height="8" fill="#fff" stroke="#000"/>
<line x1="1259.5" y1="150" x2="1259.5" y2="205" stroke="#000"/>
<rect x="1257" y="169" width="5" height="33" fill="#000"/>
<line x1="1267.5" y1="144" x2="1267.5" y2="212" stroke="#000"/>
<rect x="1265.5" y="159.5" width="4" height="42" fill="#fff" stroke="#000"/>
<line x1="1275.5" y1="138" x2="1275.5" y2="165" stroke="#000"/>
<rect x="1273.5" y="146.5" width="4" height="13" fill="#fff" stroke="#000"/>
<line x1="1283.5" y1="145" x2="1283.5" y2="170" stroke="#000"/>
<rect x="1281" y="146" width="5" height="13" fill="#000"/>
<line x1="1291.5" y1="154" x2="1291.5" y2="178" stroke="#000"/>
<rect x="1289" y="158" width="5" height="17" fill="#000"/>
<line x1="1299.5" y1="161" x2="1299.5" y2="183" stroke="#000"/>
<rect x="1297.5" y="168.5" width="4" height="7" fill="#fff" stroke="#000"/>
<line x1="1307.5" y1="109" x2="1307.5" y2="191" stroke="#000"/>
<rect x="1305.5" y="114.5" width="4" height="55" fill="#fff" stroke="#000"/>
<line x1="1315.5" y1="98" x2="1315.5" y2="135" stroke="#000"/>
<rect x="1313.5" y="106.5" width="4" height="8" fill="#fff" stroke="#000"/>
<line x1="1323.5" y1="104" x2="1323.5" y2="142" stroke="#000"/>
<rect x="1321" y="107" width="5" height="34" fill="#000"/>
<line x1="1331.5" y1="132" x2="1331.5" y2="142" stroke="#000"/>
<rect x="1329.5" y="135.5" width="4" height="4" fill="#fff" stroke="#000"/>
<line x1="1339.5" y1="116" x2="1339.5" y2="145" stroke="#000"/>
<rect x="1337.5" y="121.5" width="4" height="15" fill="#fff" stroke="#000"/>
<line x1="1347.5" y1="118" x2="1347.5" y2="155" stroke="#000"/>
<rect x="1345" y="121" width="5" height="34" fill="#000"/>
<line x1="1355.5" y1="98" x2="1355.5" y2="170" stroke="#000"/>
<rect x="1353.5" y="122.5" width="4" height="31" fill="#fff" stroke="#000"/>
<line x1="1363.5" y1="69" x2="1363.5" y2="221" stroke="#000"/>
<rect x="1361" y="122" width="5" height="85" fill="#000"/>
<line x1="1371.5" y1="202" x2="1371.5" y2="260" stroke="#000"/>
<rect x="1369" y="206" width="5" height="53" fill="#000"/>
<line x1="1379.5" y1="249" x2="1379.5" y2="261" stroke="#000"/>
<rect x="1377.5" y="253.5" width="4" height="5" fill="#fff" stroke="#000"/>
<line x1="1387.5" y1="251" x2="1387.5" y2="254" stroke="#000"/>
<rect x="1385" y="252" width="5" height="1" fill="#000"/>
</g>
</g>
<g clip-path="url(#cd)" shape-rendering="crispEdges" stroke="#c0c0c0" stroke-width="1">
<line x1="3.5" y1="667" x2="3.5" y2="722"/>
<line x1="11.5" y1="667" x2="11.5" y2="720"/>
<line x1="19.5" y1="667" x2="19.5" y2="718"/>
<line x1="27.5" y1="667" x2="27.5" y2="718"/>
<line x1="35.5" y1="667" x2="35.5" y2="716"/>
<line x1="43.5" y1="667" x2="43.5" y2="713"/>
<line x1="51.5" y1="667" x2="51.5" y2="711"/>
<line x1="59.5" y1="667" x2="59.5" y2="706"/>
<line x1="67.5" y1="667" x2="67.5" y2="702"/>
<line x1="75.5" y1="667" x2="75.5" y2="700"/>
<line x1="83.5" y1="667" x2="83.5" y2="698"/>
<line x1="91.5" y1="667" x2="91.5" y2="697"/>
<line x1="99.5" y1="667" x2="99.5" y2="694"/>
<line x1="107.5" y1="667" x2="107.5" y2="691"/>
<line x1="115.5" y1="667" x2="115.5" y2="689"/>
<line x1="123.5" y1="667" x2="123.5" y2="678"/>
<line x1="131.5" y1="667" x2="131.5" y2="668"/>
<line x1="139.5" y1="668" x2="139.5" y2="663"/>
<line x1="147.5" y1="668" x2="147.5" y2="660"/>
<line x1="155.5" y1="668" x2="155.5" y2="662"/>
<line x1="163.5" y1="667" x2="163.5" y2="668"/>
<line x1="171.5" y1="667" x2="171.5" y2="668"/>
<line x1="179.5" y1="667" x2="179.5" y2="670"/>
<line x1="187.5" y1="667" x2="187.5" y2="672"/>
<line x1="195.5" y1="667" x2="195.5" y2="675"/>
<line x1="203.5" y1="667" x2="203.5" y2="672"/>
<line x1="211.5" y1="667" x2="211.5" y2="668"/>
<line x1="219.5" y1="667" x2="219.5" y2="670"/>
<line x1="227.5" y1="667" x2="227.5" y2="671"/>
<line x1="235.5" y1="667" x2="235.5" y2="675"/>
<line x1="243.5" y1="667" x2="243.5" y2="678"/>
<line x1="251.5" y1="667" x2="251.5" y2="676"/>
<line x1="259.5" y1="667" x2="259.5" y2="673"/>
<line x1="267.5" y1="667" x2="267.5" y2="671"/>
<line x1="275.5" y1="667" x2="275.5" y2="668"/>
<line x1="283.5" y1="668" x2="283.5" y2="666"/>
<line x1="291.5" y1="668" x2="291.5" y2="666"/>
<line x1="299.5" y1="668" x2="299.5" y2="666"/>
<line x1="307.5" y1="667" x2="307.5" y2="668"/>
<line x1="315.5" y1="667" x2="315.5" y2="670"/>
<line x1="323.5" y1="667" x2="323.5" y2="671"/>
<line x1="331.5" y1="667" x2="331.5" y2="671"/>
<line x1="339.5" y1="667" x2="339.5" y2="669"/>
<line x1="347.5" y1="667" x2="347.5" y2="669"/>
<line x1="355.5" y1="667" x2="355.5" y2="669"/>
<line x1="363.5" y1="667" x2="363.5" y2="672"/>
<line x1="371.5" y1="667" x2="371.5" y2="675"/>
<line x1="379.5" y1="667" x2="379.5" y2="675"/>
<line x1="387.5" y1="667" x2="387.5" y2="683"/>
<line x1="395.5" y1="667" x2="395.5" y2="694"/>
<line x1="403.5" y1="667" x2="403.5" y2="707"/>
<line x1="411.5" y1="667" x2="411.5" y2="716"/>
<line x1="419.5" y1="667" x2="419.5" y2="721"/>
<line x1="427.5" y1="667" x2="427.5" y2="724"/>
<line x1="435.5" y1="667" x2="435.5" y2="723"/>
<line x1="443.5" y1="667" x2="443.5" y2="724"/>
<line x1="451.5" y1="667" x2="451.5" y2="722"/>
<line x1="459.5" y1="667" x2="459.5" y2="721"/>
<line x1="467.5" y1="667" x2="467.5" y2="719"/>
<line x1="475.5" y1="667" x2="475.5" y2="718"/>
<line x1="483.5" y1="667" x2="483.5" y2="715"/>
<line x1="491.5" y1="667" x2="491.5" y2="711"/>
<line x1="499.5" y1="667" x2="499.5" y2="707"/>
<line x1="507.5" y1="667" x2="507.5" y2="703"/>
<line x1="515.5" y1="667" x2="515.5" y2="698"/>
<line x1="523.5" y1="667" x2="523.5" y2="694"/>
<line x1="531.5" y1="667" x2="531.5" y2="687"/>
<line x1="539.5" y1="667" x2="539.5" y2="674"/>
<line x1="547.5" y1="668" x2="547.5" y2="665"/>
<line x1="555.5" y1="668" x2="555.5" y2="657"/>
<line x1="563.5" y1="668" x2="563.5" y2="649"/>
<line x1="571.5" y1="668" x2="571.5" y2="646"/>
<line x1="579.5" y1="668" x2="579.5" y2="645"/>
<line x1="587.5" y1="668" x2="587.5" y2="645"/>
<line x1="595.5" y1="668" x2="595.5" y2="647"/>
<line x1="603.5" y1="668" x2="603.5" y2="653"/>
<line x1="611.5" y1="668" x2="611.5" y2="655"/>
<line x1="619.5" y1="668" x2="619.5" y2="655"/>
<line x1="627.5" y1="668" x2="627.5" y2="656"/>
<line x1="635.5" y1="668" x2="635.5" y2="654"/>
<line x1="643.5" y1="668" x2="643.5" y2="645"/>
<line x1="651.5" y1="668" x2="651.5" y2="638"/>
<line x1="659.5" y1="668" x2="659.5" y2="634"/>
<line x1="667.5" y1="668" x2="667.5" y2="633"/>
<line x1="675.5" y1="668" x2="675.5" y2="631"/>
<line x1="683.5" y1="668" x2="683.5" y2="631"/>
<line x1="691.5" y1="668" x2="691.5" y2="633"/>
<line x1="699.5" y1="668" x2="699.5" y2="637"/>
<line x1="707.5" y1="668" x2="707.5" y2="636"/>
<line x1="715.5" y1="668" x2="715.5" y2="634"/>
<line x1="723.5" y1="668" x2="723.5" y2="631"/>
<line x1="731.5" y1="668" x2="731.5" y2="624"/>
<line x1="739.5" y1="668" x2="739.5" y2="618"/>
<line x1="747.5" y1="668" x2="747.5" y2="611"/>
<line x1="755.5" y1="668" x2="755.5" y2="607"/>
<line x1="763.5" y1="668" x2="763.5" y2="606"/>
<line x1="771.5" y1="668" x2="771.5" y2="599"/>
<line x1="779.5" y1="668" x2="779.5" y2="597"/>
<line x1="787.5" y1="668" x2="787.5" y2="593"/>
<line x1="795.5" y1="668" x2="795.5" y2="591"/>
<line x1="803.5" y1="668" x2="803.5" y2="591"/>
<line x1="811.5" y1="668" x2="811.5" y2="594"/>
<line x1="819.5" y1="668" x2="819.5" y2="600"/>
<line x1="827.5" y1="668" x2="827.5" y2="608"/>
<line x1="835.5" y1="668" x2="835.5" y2="615"/>
<line x1="843.5" y1="668" x2="843.5" y2="620"/>
<line x1="851.5" y1="668" x2="851.5" y2="623"/>
<line x1="859.5" y1="668" x2="859.5" y2="624"/>
<line x1="867.5" y1="668" x2="867.5" y2="626"/>
<line x1="875.5" y1="668" x2="875.5" y2="627"/>
<line x1="883.5" y1="668" x2="883.5" y2="626"/>
<line x1="891.5" y1="668" x2="891.5" y2="626"/>
<line x1="899.5" y1="668" x2="899.5" y2="626"/>
<line x1="907.5" y1="668" x2="907.5" y2="624"/>
<line x1="915.5" y1="668" x2="915.5" y2="625"/>
<line x1="923.5" y1="668" x2="923.5" y2="628"/>
<line x1="931.5" y1="668" x2="931.5" y2="632"/>
<line x1="939.5" y1="668" x2="939.5" y2="632"/>
<line x1="947.5" y1="668" x2="947.5" y2="633"/>
<line x1="955.5" y1="668" x2="955.5" y2="633"/>
<line x1="963.5" y1="668" x2="963.5" y2="634"/>
<line x1="971.5" y1="668" x2="971.5" y2="632"/>
<line x1="979.5" y1="668" x2="979.5" y2="629"/>
<line x1="987.5" y1="668" x2="987.5" y2="628"/>
<line x1="995.5" y1="668" x2="995.5" y2="628"/>
<line x1="1003.5" y1="668" x2="1003.5" y2="630"/>
<line x1="1011.5" y1="668" x2="1011.5" y2="635"/>
<line x1="1019.5" y1="668" x2="1019.5" y2="641"/>
<line x1="1027.5" y1="668" x2="1027.5" y2="644"/>
<line x1="1035.5" y1="668" x2="1035.5" y2="646"/>
<line x1="1043.5" y1="668" x2="1043.5" y2="648"/>
<line x1="1051.5" y1="668" x2="1051.5" y2="652"/>
<line x1="1059.5" y1="668" x2="1059.5" y2="656"/>
<line x1="1067.5" y1="668" x2="1067.5" y2="659"/>
<line x1="1075.5" y1="667" x2="1075.5" y2="668"/>
<line x1="1083.5" y1="667" x2="1083.5" y2="675"/>
<line x1="1091.5" y1="667" x2="1091.5" y2="679"/>
<line x1="1099.5" y1="667" x2="1099.5" y2="682"/>
<line x1="1107.5" y1="667" x2="1107.5" y2="682"/>
<line x1="1115.5" y1="667" x2="1115.5" y2="681"/>
<line x1="1123.5" y1="667" x2="1123.5" y2="675"/>
<line x1="1131.5" y1="667" x2="1131.5" y2="669"/>
<line x1="1139.5" y1="668" x2="1139.5" y2="665"/>
<line x1="1147.5" y1="668" x2="1147.5" y2="661"/>
<line x1="1155.5" y1="668" x2="1155.5" y2="658"/>
<line x1="1163.5" y1="668" x2="1163.5" y2="658"/>
<line x1="1171.5" y1="668" x2="1171.5" y2="660"/>
<line x1="1179.5" y1="668" x2="1179.5" y2="661"/>
<line x1="1187.5" y1="668" x2="1187.5" y2="661"/>
<line x1="1195.5" y1="668" x2="1195.5" y2="661"/>
<line x1="1203.5" y1="668" x2="1203.5" y2="660"/>
<line x1="1211.5" y1="668" x2="1211.5" y2="659"/>
<line x1="1219.5" y1="668" x2="1219.5" y2="664"/>
<line x1="1227.5" y1="667" x2="1227.5" y2="668"/>
<line x1="1235.5" y1="667" x2="1235.5" y2="668"/>
<line x1="1243.5" y1="667" x2="1243.5" y2="672"/>
<line x1="1251.5" y1="667" x2="1251.5" y2="674"/>
<line x1="1259.5" y1="667" x2="1259.5" y2="677"/>
<line x1="1267.5" y1="667" x2="1267.5" y2="676"/>
<line x1="1275.5" y1="667" x2="1275.5" y2="675"/>
<line x1="1283.5" y1="667" x2="1283.5" y2="674"/>
<line x1="1291.5" y1="667" x2="1291.5" y2="673"/>
<line x1="1299.5" y1="667" x2="1299.5" y2="672"/>
<line x1="1307.5" y1="667" x2="1307.5" y2="670"/>
<line x1="1315.5" y1="667" x2="1315.5" y2="668"/>
<line x1="1323.5" y1="667" x2="1323.5" y2="668"/>
<line x1="1331.5" y1="668" x2="1331.5" y2="666"/>
<line x1="1339.5" y1="668" x2="1339.5" y2="666"/>
<line x1="1347.5" y1="668" x2="1347.5" y2="665"/>
<line x1="1355.5" y1="667" x2="1355.5" y2="668"/>
<line x1="1363.5" y1="667" x2="1363.5" y2="672"/>
<line x1="1371.5" y1="667" x2="1371.5" y2="677"/>
<line x1="1379.5" y1="667" x2="1379.5" y2="684"/>
<line x1="1387.5" y1="667" x2="1387.5" y2="690"/>
</g>
<path fill="#ff0000" d="M811 598h1v1h-1zM815 598h3v1h-3zM821 598h3v1h-3zM827 598h3v1h-3zM833 598h2v1h-2zM809 599h2v1h-2zM835 599h1v1h-1zM803 600h3v1h-3zM839 600h3v1h-3zM845 601h1v1h-1zM798 602h2v1h-2zM846 602h2v1h-2zM797 603h1v1h-1zM851 603h2v1h-2zM853 604h1v1h-1zM792 606h2v1h-2zM857 606h2v1h-2zM791 607h1v1h-1zM859 607h1v1h-1zM787 609h1v1h-1zM863 609h2v1h-2zM785 610h2v1h-2zM865 610h1v1h-1zM781 612h1v1h-1zM869 612h2v1h-2zM779 613h2v1h-2zM871 613h1v1h-1zM775 615h1v1h-1zM875 615h2v1h-2zM773 616h2v1h-2zM877 616h1v1h-1zM769 618h1v1h-1zM881 618h2v1h-2zM768 619h1v1h-1zM883 619h1v1h-1zM767 620h1v1h-1zM887 621h2v1h-2zM762 622h2v1h-2zM889 622h1v1h-1zM761 623h1v1h-1zM893 623h3v1h-3zM899 623h1v1h-1zM756 624h2v1h-2zM900 624h2v1h-2zM905 624h3v1h-3zM911 624h3v1h-3zM917 624h3v1h-3zM755 625h1v1h-1zM923 625h3v1h-3zM929 625h2v1h-2zM749 626h3v1h-3zM931 626h1v1h-1zM935 626h3v1h-3zM941 626h1v1h-1zM745 627h1v1h-1zM942 627h2v1h-2zM947 627h3v1h-3zM743 628h2v1h-2zM953 628h3v1h-3zM959 628h3v1h-3zM737 629h3v1h-3zM965 629h3v1h-3zM971 629h1v1h-1zM731 630h3v1h-3zM972 630h2v1h-2zM977 630h3v1h-3zM983 630h3v1h-3zM989 630h3v1h-3zM725 631h3v1h-3zM995 631h3v1h-3zM1001 631h3v1h-3zM1007 631h3v1h-3zM1013 631h3v1h-3zM719 632h3v1h-3zM1019 632h3v1h-3zM1025 632h3v1h-3zM713 633h3v1h-3zM1031 633h2v1h-2zM707 634h3v1h-3zM1033 634h1v1h-1zM701 635h3v1h-3zM1037 635h3v1h-3zM697 636h1v1h-1zM1043 636h2v1h-2zM695 637h2v1h-2zM1045 637h1v1h-1zM1049 638h3v1h-3zM689 639h3v1h-3zM1055 639h1v1h-1zM685 640h1v1h-1zM1056 640h2v1h-2zM683 641h2v1h-2zM679 642h1v1h-1zM1061 642h2v1h-2zM677 643h2v1h-2zM1063 643h1v1h-1zM673 644h1v1h-1zM671 645h2v1h-2zM1067 645h2v1h-2zM667 646h1v1h-1zM1069 646h1v1h-1zM665 647h2v1h-2zM655 648h1v1h-1zM659 648h3v1h-3zM1073 648h2v1h-2zM653 649h2v1h-2zM1075 649h1v1h-1zM613 650h1v1h-1zM617 650h3v1h-3zM623 650h3v1h-3zM629 650h3v1h-3zM635 650h3v1h-3zM641 650h3v1h-3zM647 650h3v1h-3zM605 651h3v1h-3zM611 651h2v1h-2zM1079 651h2v1h-2zM1081 652h1v1h-1zM601 653h1v1h-1zM599 654h2v1h-2zM1085 654h2v1h-2zM1087 655h1v1h-1zM595 656h1v1h-1zM593 657h2v1h-2zM1091 658h2v1h-2zM1093 659h1v1h-1zM589 660h1v1h-1zM1205 660h3v1h-3zM1211 660h3v1h-3zM1217 660h3v1h-3zM1223 660h3v1h-3zM588 661h1v1h-1zM1097 661h1v1h-1zM1195 661h1v1h-1zM1199 661h3v1h-3zM1229 661h3v1h-3zM1235 661h1v1h-1zM587 662h1v1h-1zM1098 662h1v1h-1zM1189 662h1v1h-1zM1193 662h2v1h-2zM1236 662h2v1h-2zM1241 662h2v1h-2zM1099 663h1v1h-1zM1187 663h2v1h-2zM1243 663h1v1h-1zM1181 664h3v1h-3zM1247 664h3v1h-3zM582 665h2v1h-2zM1103 665h1v1h-1zM1177 665h1v1h-1zM1253 665h3v1h-3zM581 666h1v1h-1zM1104 666h2v1h-2zM1175 666h2v1h-2zM1259 666h3v1h-3zM1170 667h2v1h-2zM1265 667h3v1h-3zM180 668h2v1h-2zM185 668h3v1h-3zM191 668h3v1h-3zM197 668h3v1h-3zM203 668h3v1h-3zM209 668h3v1h-3zM335 668h3v1h-3zM341 668h3v1h-3zM347 668h3v1h-3zM1169 668h1v1h-1zM1271 668h3v1h-3zM1361 668h3v1h-3zM1367 668h2v1h-2zM179 669h1v1h-1zM215 669h3v1h-3zM313 669h1v1h-1zM317 669h3v1h-3zM323 669h3v1h-3zM329 669h3v1h-3zM353 669h3v1h-3zM359 669h1v1h-1zM577 669h1v1h-1zM1109 669h2v1h-2zM1164 669h2v1h-2zM1355 669h3v1h-3zM1369 669h1v1h-1zM1373 669h3v1h-3zM1379 669h1v1h-1zM174 670h2v1h-2zM221 670h3v1h-3zM227 670h3v1h-3zM233 670h1v1h-1zM305 670h3v1h-3zM311 670h2v1h-2zM360 670h2v1h-2zM365 670h2v1h-2zM576 670h1v1h-1zM1111 670h1v1h-1zM1163 670h1v1h-1zM1277 670h2v1h-2zM1349 670h3v1h-3zM1380 670h2v1h-2zM1385 670h2v1h-2zM173 671h1v1h-1zM234 671h2v1h-2zM239 671h3v1h-3zM293 671h3v1h-3zM299 671h3v1h-3zM367 671h1v1h-1zM371 671h3v1h-3zM575 671h1v1h-1zM1115 671h2v1h-2zM1159 671h1v1h-1zM1279 671h1v1h-1zM1337 671h3v1h-3zM1343 671h3v1h-3zM169 672h1v1h-1zM245 672h3v1h-3zM251 672h3v1h-3zM275 672h3v1h-3zM281 672h3v1h-3zM287 672h3v1h-3zM377 672h3v1h-3zM1117 672h1v1h-1zM1157 672h2v1h-2zM1283 672h2v1h-2zM1331 672h3v1h-3zM167 673h2v1h-2zM257 673h3v1h-3zM263 673h3v1h-3zM269 673h3v1h-3zM383 673h3v1h-3zM1121 673h3v1h-3zM1151 673h3v1h-3zM1285 673h1v1h-1zM1289 673h2v1h-2zM1325 673h3v1h-3zM389 674h1v1h-1zM571 674h1v1h-1zM1127 674h3v1h-3zM1133 674h2v1h-2zM1147 674h1v1h-1zM1291 674h1v1h-1zM1295 674h3v1h-3zM1321 674h1v1h-1zM162 675h2v1h-2zM390 675h2v1h-2zM570 675h1v1h-1zM1135 675h1v1h-1zM1139 675h3v1h-3zM1145 675h2v1h-2zM1301 675h3v1h-3zM1307 675h3v1h-3zM1313 675h3v1h-3zM1319 675h2v1h-2zM161 676h1v1h-1zM569 676h1v1h-1zM156 677h2v1h-2zM395 677h2v1h-2zM155 678h1v1h-1zM397 678h1v1h-1zM151 680h1v1h-1zM401 680h1v1h-1zM565 680h1v1h-1zM149 681h2v1h-2zM402 681h2v1h-2zM564 681h1v1h-1zM563 682h1v1h-1zM144 684h2v1h-2zM407 684h2v1h-2zM143 685h1v1h-1zM409 685h1v1h-1zM559 685h1v1h-1zM558 686h1v1h-1zM138 687h2v1h-2zM413 687h1v1h-1zM557 687h1v1h-1zM137 688h1v1h-1zM414 688h2v1h-2zM132 690h2v1h-2zM131 691h1v1h-1zM419 691h1v1h-1zM552 691h2v1h-2zM420 692h1v1h-1zM551 692h1v1h-1zM127 693h1v1h-1zM421 693h1v1h-1zM125 694h2v1h-2zM547 695h1v1h-1zM121 696h1v1h-1zM546 696h1v1h-1zM119 697h2v1h-2zM425 697h1v1h-1zM545 697h1v1h-1zM115 698h1v1h-1zM426 698h1v1h-1zM113 699h2v1h-2zM427 699h1v1h-1zM540 700h2v1h-2zM108 701h2v1h-2zM431 701h1v1h-1zM539 701h1v1h-1zM107 702h1v1h-1zM432 702h2v1h-2zM102 703h2v1h-2zM101 704h1v1h-1zM437 704h1v1h-1zM534 704h2v1h-2zM97 705h1v1h-1zM438 705h1v1h-1zM533 705h1v1h-1zM95 706h2v1h-2zM439 706h1v1h-1zM90 707h2v1h-2zM529 707h1v1h-1zM89 708h1v1h-1zM527 708h2v1h-2zM83 709h3v1h-3zM443 709h2v1h-2zM78 710h2v1h-2zM445 710h1v1h-1zM522 710h2v1h-2zM77 711h1v1h-1zM521 711h1v1h-1zM73 712h1v1h-1zM71 713h2v1h-2zM449 713h2v1h-2zM516 713h2v1h-2zM66 714h2v1h-2zM451 714h1v1h-1zM515 714h1v1h-1zM65 715h1v1h-1zM510 715h2v1h-2zM59 716h3v1h-3zM455 716h2v1h-2zM509 716h1v1h-1zM54 717h2v1h-2zM457 717h1v1h-1zM503 717h3v1h-3zM53 718h1v1h-1zM461 718h2v1h-2zM499 718h1v1h-1zM49 719h1v1h-1zM463 719h1v1h-1zM493 719h1v1h-1zM497 719h2v1h-2zM47 720h2v1h-2zM467 720h3v1h-3zM491 720h2v1h-2zM42 721h2v1h-2zM473 721h3v1h-3zM479 721h3v1h-3zM485 721h3v1h-3zM41 722h1v1h-1zM36 723h2v1h-2zM35 724h1v1h-1zM29 725h3v1h-3zM25 726h1v1h-1zM23 727h2v1h-2zM19 729h1v1h-1zM17 730h2v1h-2zM13 732h1v1h-1zM11 733h2v1h-2zM7 736h1v1h-1zM5 737h2v1h-2zM0 740h2v1h-2z"/>
<g stroke="#ff0000" stroke-width="3" fill="none" shape-rendering="crispEdges"><line x1="1349.5" y1="663" x2="1398" y2="693"/></g><polygon points="1390.5,695 1396.8,686.6 1404.6,697.6" fill="#ff0000"/>
<g clip-path="url(#cr)">
<g shape-rendering="crispEdges" stroke="#c0c0c0" stroke-dasharray="3,3">
<line x1="2" y1="789.5" x2="1654" y2="789.5"/>
<line x1="2" y1="840.5" x2="1654" y2="840.5"/>
<line x1="2" y1="901.5" x2="1654" y2="901.5"/>
</g>
<path fill="#1e90ff" d="M771 794h1v1h-1zM770 795h1v1h-1zM772 795h1v1h-1zM769 796h1v1h-1zM773 796h1v1h-1zM746 797h3v1h-3zM769 797h1v1h-1zM774 797h1v1h-1zM787 797h1v1h-1zM743 798h3v1h-3zM749 798h4v1h-4zM768 798h1v1h-1zM775 798h1v1h-1zM785 798h2v1h-2zM788 798h1v1h-1zM741 799h2v1h-2zM753 799h3v1h-3zM767 799h1v1h-1zM776 799h1v1h-1zM783 799h2v1h-2zM789 799h2v1h-2zM737 800h4v1h-4zM756 800h2v1h-2zM766 800h1v1h-1zM777 800h1v1h-1zM782 800h1v1h-1zM791 800h1v1h-1zM733 801h4v1h-4zM758 801h1v1h-1zM765 801h1v1h-1zM778 801h1v1h-1zM780 801h2v1h-2zM792 801h1v1h-1zM731 802h2v1h-2zM759 802h2v1h-2zM765 802h1v1h-1zM779 802h1v1h-1zM793 802h2v1h-2zM730 803h1v1h-1zM761 803h2v1h-2zM764 803h1v1h-1zM795 803h4v1h-4zM730 804h1v1h-1zM763 804h1v1h-1zM799 804h5v1h-5zM729 805h1v1h-1zM804 805h1v1h-1zM728 806h1v1h-1zM805 806h1v1h-1zM728 807h1v1h-1zM806 807h1v1h-1zM727 808h1v1h-1zM807 808h1v1h-1zM907 808h1v1h-1zM559 809h5v1h-5zM649 809h3v1h-3zM726 809h1v1h-1zM808 809h1v1h-1zM905 809h2v1h-2zM908 809h1v1h-1zM539 810h2v1h-2zM554 810h5v1h-5zM564 810h1v1h-1zM645 810h4v1h-4zM652 810h2v1h-2zM726 810h1v1h-1zM809 810h1v1h-1zM904 810h1v1h-1zM908 810h1v1h-1zM978 810h11v1h-11zM539 811h1v1h-1zM541 811h2v1h-2zM551 811h3v1h-3zM565 811h1v1h-1zM643 811h2v1h-2zM654 811h1v1h-1zM725 811h1v1h-1zM810 811h1v1h-1zM903 811h1v1h-1zM909 811h1v1h-1zM975 811h3v1h-3zM989 811h2v1h-2zM538 812h1v1h-1zM543 812h3v1h-3zM549 812h2v1h-2zM566 812h1v1h-1zM643 812h1v1h-1zM655 812h2v1h-2zM724 812h1v1h-1zM811 812h1v1h-1zM901 812h2v1h-2zM910 812h1v1h-1zM973 812h2v1h-2zM991 812h3v1h-3zM538 813h1v1h-1zM546 813h3v1h-3zM567 813h1v1h-1zM642 813h1v1h-1zM657 813h2v1h-2zM724 813h1v1h-1zM812 813h1v1h-1zM900 813h1v1h-1zM911 813h1v1h-1zM971 813h2v1h-2zM994 813h2v1h-2zM130 814h3v1h-3zM538 814h1v1h-1zM567 814h1v1h-1zM642 814h1v1h-1zM659 814h1v1h-1zM722 814h2v1h-2zM812 814h1v1h-1zM898 814h2v1h-2zM911 814h1v1h-1zM970 814h1v1h-1zM996 814h1v1h-1zM128 815h2v1h-2zM133 815h4v1h-4zM537 815h1v1h-1zM568 815h1v1h-1zM641 815h1v1h-1zM660 815h1v1h-1zM719 815h3v1h-3zM813 815h1v1h-1zM895 815h3v1h-3zM912 815h1v1h-1zM969 815h1v1h-1zM996 815h1v1h-1zM126 816h2v1h-2zM137 816h3v1h-3zM537 816h1v1h-1zM569 816h1v1h-1zM641 816h1v1h-1zM661 816h2v1h-2zM717 816h2v1h-2zM814 816h1v1h-1zM883 816h4v1h-4zM893 816h2v1h-2zM913 816h1v1h-1zM967 816h2v1h-2zM997 816h1v1h-1zM124 817h2v1h-2zM140 817h1v1h-1zM537 817h1v1h-1zM570 817h1v1h-1zM640 817h1v1h-1zM663 817h1v1h-1zM674 817h2v1h-2zM715 817h2v1h-2zM815 817h1v1h-1zM881 817h2v1h-2zM887 817h6v1h-6zM914 817h1v1h-1zM966 817h1v1h-1zM997 817h1v1h-1zM123 818h1v1h-1zM141 818h1v1h-1zM536 818h1v1h-1zM571 818h1v1h-1zM640 818h1v1h-1zM664 818h1v1h-1zM671 818h3v1h-3zM676 818h2v1h-2zM714 818h1v1h-1zM815 818h1v1h-1zM879 818h2v1h-2zM914 818h1v1h-1zM965 818h1v1h-1zM998 818h1v1h-1zM123 819h1v1h-1zM141 819h1v1h-1zM536 819h1v1h-1zM572 819h1v1h-1zM639 819h1v1h-1zM665 819h2v1h-2zM669 819h2v1h-2zM678 819h1v1h-1zM713 819h1v1h-1zM816 819h1v1h-1zM878 819h1v1h-1zM915 819h1v1h-1zM955 819h4v1h-4zM964 819h1v1h-1zM999 819h1v1h-1zM122 820h1v1h-1zM142 820h1v1h-1zM536 820h1v1h-1zM573 820h1v1h-1zM639 820h1v1h-1zM667 820h2v1h-2zM679 820h2v1h-2zM711 820h2v1h-2zM817 820h1v1h-1zM876 820h2v1h-2zM916 820h1v1h-1zM953 820h2v1h-2zM959 820h5v1h-5zM999 820h1v1h-1zM1153 820h3v1h-3zM122 821h1v1h-1zM143 821h1v1h-1zM535 821h1v1h-1zM574 821h1v1h-1zM638 821h1v1h-1zM681 821h2v1h-2zM710 821h1v1h-1zM818 821h1v1h-1zM859 821h1v1h-1zM875 821h1v1h-1zM916 821h1v1h-1zM951 821h2v1h-2zM1000 821h1v1h-1zM1149 821h4v1h-4zM1156 821h1v1h-1zM122 822h1v1h-1zM144 822h1v1h-1zM535 822h1v1h-1zM575 822h2v1h-2zM638 822h1v1h-1zM683 822h2v1h-2zM709 822h1v1h-1zM818 822h1v1h-1zM857 822h2v1h-2zM860 822h2v1h-2zM873 822h2v1h-2zM917 822h1v1h-1zM950 822h1v1h-1zM1001 822h1v1h-1zM1143 822h6v1h-6zM1156 822h1v1h-1zM121 823h1v1h-1zM145 823h1v1h-1zM535 823h1v1h-1zM577 823h1v1h-1zM637 823h1v1h-1zM685 823h2v1h-2zM708 823h1v1h-1zM819 823h1v1h-1zM855 823h2v1h-2zM862 823h1v1h-1zM871 823h2v1h-2zM918 823h1v1h-1zM939 823h4v1h-4zM948 823h2v1h-2zM1001 823h1v1h-1zM1135 823h8v1h-8zM1157 823h1v1h-1zM121 824h1v1h-1zM145 824h1v1h-1zM535 824h1v1h-1zM578 824h1v1h-1zM637 824h1v1h-1zM687 824h3v1h-3zM707 824h1v1h-1zM820 824h1v1h-1zM854 824h1v1h-1zM863 824h2v1h-2zM870 824h1v1h-1zM918 824h1v1h-1zM938 824h1v1h-1zM943 824h5v1h-5zM1002 824h1v1h-1zM1131 824h4v1h-4zM1157 824h1v1h-1zM121 825h1v1h-1zM146 825h1v1h-1zM534 825h1v1h-1zM579 825h2v1h-2zM636 825h1v1h-1zM690 825h2v1h-2zM706 825h1v1h-1zM821 825h1v1h-1zM852 825h2v1h-2zM865 825h2v1h-2zM868 825h2v1h-2zM919 825h1v1h-1zM937 825h1v1h-1zM1002 825h1v1h-1zM1129 825h2v1h-2zM1158 825h1v1h-1zM121 826h1v1h-1zM147 826h1v1h-1zM534 826h1v1h-1zM581 826h2v1h-2zM636 826h1v1h-1zM692 826h1v1h-1zM705 826h1v1h-1zM821 826h1v1h-1zM850 826h2v1h-2zM867 826h1v1h-1zM920 826h1v1h-1zM936 826h1v1h-1zM1003 826h1v1h-1zM1127 826h2v1h-2zM1158 826h1v1h-1zM1313 826h3v1h-3zM120 827h1v1h-1zM147 827h1v1h-1zM534 827h1v1h-1zM583 827h3v1h-3zM635 827h1v1h-1zM693 827h2v1h-2zM703 827h2v1h-2zM822 827h1v1h-1zM847 827h3v1h-3zM920 827h1v1h-1zM935 827h1v1h-1zM1004 827h1v1h-1zM1126 827h1v1h-1zM1159 827h1v1h-1zM1309 827h4v1h-4zM1316 827h1v1h-1zM120 828h1v1h-1zM148 828h1v1h-1zM533 828h1v1h-1zM586 828h2v1h-2zM634 828h1v1h-1zM695 828h1v1h-1zM702 828h1v1h-1zM823 828h1v1h-1zM845 828h2v1h-2zM921 828h1v1h-1zM934 828h1v1h-1zM1005 828h1v1h-1zM1124 828h2v1h-2zM1160 828h1v1h-1zM1307 828h2v1h-2zM1316 828h1v1h-1zM120 829h1v1h-1zM148 829h1v1h-1zM533 829h1v1h-1zM588 829h1v1h-1zM633 829h1v1h-1zM696 829h1v1h-1zM701 829h1v1h-1zM824 829h1v1h-1zM843 829h2v1h-2zM922 829h1v1h-1zM933 829h1v1h-1zM1006 829h1v1h-1zM1123 829h1v1h-1zM1160 829h1v1h-1zM1203 829h1v1h-1zM1307 829h1v1h-1zM1317 829h1v1h-1zM119 830h1v1h-1zM149 830h1v1h-1zM283 830h1v1h-1zM533 830h1v1h-1zM589 830h1v1h-1zM632 830h1v1h-1zM697 830h2v1h-2zM700 830h1v1h-1zM825 830h1v1h-1zM841 830h2v1h-2zM922 830h1v1h-1zM932 830h1v1h-1zM1007 830h2v1h-2zM1122 830h1v1h-1zM1161 830h1v1h-1zM1202 830h1v1h-1zM1204 830h1v1h-1zM1306 830h1v1h-1zM1318 830h1v1h-1zM119 831h1v1h-1zM149 831h1v1h-1zM281 831h2v1h-2zM284 831h1v1h-1zM532 831h1v1h-1zM590 831h1v1h-1zM631 831h1v1h-1zM699 831h1v1h-1zM825 831h1v1h-1zM840 831h1v1h-1zM923 831h9v1h-9zM1009 831h1v1h-1zM1122 831h1v1h-1zM1161 831h1v1h-1zM1201 831h1v1h-1zM1205 831h2v1h-2zM1306 831h1v1h-1zM1318 831h1v1h-1zM119 832h1v1h-1zM150 832h1v1h-1zM280 832h1v1h-1zM285 832h1v1h-1zM532 832h1v1h-1zM591 832h1v1h-1zM631 832h1v1h-1zM826 832h1v1h-1zM839 832h1v1h-1zM1010 832h1v1h-1zM1121 832h1v1h-1zM1162 832h1v1h-1zM1200 832h1v1h-1zM1207 832h1v1h-1zM1305 832h1v1h-1zM1319 832h1v1h-1zM1339 832h1v1h-1zM118 833h1v1h-1zM150 833h1v1h-1zM279 833h1v1h-1zM286 833h1v1h-1zM532 833h1v1h-1zM591 833h1v1h-1zM619 833h2v1h-2zM630 833h1v1h-1zM827 833h2v1h-2zM837 833h2v1h-2zM1011 833h1v1h-1zM1121 833h1v1h-1zM1162 833h1v1h-1zM1199 833h1v1h-1zM1208 833h1v1h-1zM1305 833h1v1h-1zM1320 833h1v1h-1zM1337 833h2v1h-2zM1340 833h1v1h-1zM118 834h1v1h-1zM151 834h1v1h-1zM277 834h2v1h-2zM287 834h1v1h-1zM531 834h1v1h-1zM592 834h1v1h-1zM618 834h1v1h-1zM621 834h2v1h-2zM629 834h1v1h-1zM829 834h4v1h-4zM836 834h1v1h-1zM1012 834h1v1h-1zM1033 834h6v1h-6zM1120 834h1v1h-1zM1163 834h1v1h-1zM1198 834h1v1h-1zM1209 834h2v1h-2zM1305 834h1v1h-1zM1320 834h1v1h-1zM1335 834h2v1h-2zM1340 834h1v1h-1zM118 835h1v1h-1zM151 835h1v1h-1zM209 835h3v1h-3zM276 835h1v1h-1zM288 835h1v1h-1zM531 835h1v1h-1zM593 835h1v1h-1zM618 835h1v1h-1zM623 835h3v1h-3zM628 835h1v1h-1zM833 835h3v1h-3zM1012 835h1v1h-1zM1029 835h4v1h-4zM1039 835h5v1h-5zM1120 835h1v1h-1zM1164 835h1v1h-1zM1197 835h1v1h-1zM1211 835h1v1h-1zM1304 835h1v1h-1zM1321 835h1v1h-1zM1334 835h1v1h-1zM1341 835h1v1h-1zM1355 835h1v1h-1zM117 836h1v1h-1zM152 836h1v1h-1zM205 836h4v1h-4zM212 836h1v1h-1zM271 836h5v1h-5zM289 836h1v1h-1zM530 836h1v1h-1zM594 836h1v1h-1zM617 836h1v1h-1zM626 836h2v1h-2zM1013 836h1v1h-1zM1027 836h2v1h-2zM1044 836h1v1h-1zM1119 836h1v1h-1zM1165 836h1v1h-1zM1196 836h1v1h-1zM1212 836h1v1h-1zM1304 836h1v1h-1zM1322 836h1v1h-1zM1332 836h2v1h-2zM1342 836h1v1h-1zM1354 836h2v1h-2zM117 837h1v1h-1zM152 837h1v1h-1zM203 837h2v1h-2zM213 837h1v1h-1zM258 837h13v1h-13zM290 837h1v1h-1zM529 837h1v1h-1zM595 837h1v1h-1zM616 837h1v1h-1zM1014 837h1v1h-1zM1026 837h1v1h-1zM1045 837h1v1h-1zM1118 837h1v1h-1zM1166 837h1v1h-1zM1185 837h11v1h-11zM1212 837h1v1h-1zM1303 837h1v1h-1zM1322 837h1v1h-1zM1327 837h5v1h-5zM1342 837h1v1h-1zM1353 837h1v1h-1zM1356 837h1v1h-1zM117 838h1v1h-1zM153 838h1v1h-1zM202 838h1v1h-1zM214 838h1v1h-1zM256 838h2v1h-2zM291 838h2v1h-2zM339 838h1v1h-1zM528 838h1v1h-1zM596 838h1v1h-1zM615 838h1v1h-1zM1015 838h1v1h-1zM1025 838h1v1h-1zM1046 838h1v1h-1zM1118 838h1v1h-1zM1167 838h1v1h-1zM1181 838h4v1h-4zM1213 838h1v1h-1zM1303 838h1v1h-1zM1323 838h4v1h-4zM1343 838h1v1h-1zM1352 838h1v1h-1zM1356 838h1v1h-1zM117 839h1v1h-1zM153 839h1v1h-1zM202 839h1v1h-1zM215 839h1v1h-1zM254 839h2v1h-2zM293 839h4v1h-4zM338 839h1v1h-1zM340 839h2v1h-2zM527 839h1v1h-1zM597 839h1v1h-1zM615 839h1v1h-1zM1015 839h1v1h-1zM1024 839h1v1h-1zM1047 839h1v1h-1zM1117 839h1v1h-1zM1167 839h1v1h-1zM1178 839h3v1h-3zM1213 839h1v1h-1zM1303 839h1v1h-1zM1344 839h1v1h-1zM1351 839h1v1h-1zM1357 839h1v1h-1zM116 840h1v1h-1zM154 840h1v1h-1zM201 840h1v1h-1zM216 840h1v1h-1zM252 840h2v1h-2zM297 840h3v1h-3zM337 840h1v1h-1zM342 840h2v1h-2zM527 840h1v1h-1zM598 840h1v1h-1zM614 840h1v1h-1zM1016 840h1v1h-1zM1023 840h1v1h-1zM1048 840h1v1h-1zM1117 840h1v1h-1zM1168 840h1v1h-1zM1176 840h2v1h-2zM1214 840h1v1h-1zM1302 840h1v1h-1zM1344 840h1v1h-1zM1351 840h1v1h-1zM1357 840h1v1h-1zM116 841h1v1h-1zM154 841h1v1h-1zM201 841h1v1h-1zM217 841h1v1h-1zM251 841h1v1h-1zM300 841h1v1h-1zM335 841h2v1h-2zM344 841h2v1h-2zM526 841h1v1h-1zM599 841h1v1h-1zM613 841h1v1h-1zM1017 841h1v1h-1zM1022 841h1v1h-1zM1049 841h1v1h-1zM1116 841h1v1h-1zM1169 841h1v1h-1zM1174 841h2v1h-2zM1214 841h1v1h-1zM1274 841h2v1h-2zM1302 841h1v1h-1zM1345 841h1v1h-1zM1350 841h1v1h-1zM1357 841h1v1h-1zM116 842h1v1h-1zM155 842h1v1h-1zM200 842h1v1h-1zM218 842h1v1h-1zM250 842h1v1h-1zM301 842h1v1h-1zM334 842h1v1h-1zM346 842h3v1h-3zM525 842h1v1h-1zM599 842h1v1h-1zM612 842h1v1h-1zM1018 842h1v1h-1zM1021 842h1v1h-1zM1050 842h1v1h-1zM1116 842h1v1h-1zM1170 842h1v1h-1zM1172 842h2v1h-2zM1215 842h1v1h-1zM1272 842h2v1h-2zM1276 842h2v1h-2zM1301 842h1v1h-1zM1346 842h1v1h-1zM1349 842h1v1h-1zM1358 842h1v1h-1zM115 843h1v1h-1zM155 843h1v1h-1zM171 843h2v1h-2zM200 843h1v1h-1zM219 843h1v1h-1zM250 843h1v1h-1zM302 843h1v1h-1zM333 843h1v1h-1zM349 843h2v1h-2zM524 843h1v1h-1zM600 843h1v1h-1zM612 843h1v1h-1zM1018 843h1v1h-1zM1020 843h1v1h-1zM1051 843h4v1h-4zM1115 843h1v1h-1zM1171 843h1v1h-1zM1215 843h1v1h-1zM1270 843h2v1h-2zM1278 843h1v1h-1zM1301 843h1v1h-1zM1346 843h1v1h-1zM1348 843h1v1h-1zM1358 843h1v1h-1zM115 844h1v1h-1zM156 844h1v1h-1zM171 844h1v1h-1zM173 844h2v1h-2zM199 844h1v1h-1zM220 844h2v1h-2zM249 844h1v1h-1zM303 844h1v1h-1zM332 844h1v1h-1zM351 844h3v1h-3zM514 844h10v1h-10zM601 844h1v1h-1zM609 844h3v1h-3zM1019 844h1v1h-1zM1055 844h5v1h-5zM1113 844h2v1h-2zM1216 844h1v1h-1zM1268 844h2v1h-2zM1279 844h2v1h-2zM1301 844h1v1h-1zM1347 844h1v1h-1zM1358 844h1v1h-1zM113 845h2v1h-2zM156 845h1v1h-1zM170 845h1v1h-1zM175 845h3v1h-3zM199 845h1v1h-1zM222 845h1v1h-1zM248 845h1v1h-1zM304 845h1v1h-1zM331 845h1v1h-1zM354 845h2v1h-2zM512 845h2v1h-2zM602 845h1v1h-1zM605 845h4v1h-4zM1060 845h2v1h-2zM1111 845h2v1h-2zM1216 845h1v1h-1zM1267 845h1v1h-1zM1281 845h2v1h-2zM1300 845h1v1h-1zM1359 845h1v1h-1zM112 846h1v1h-1zM157 846h1v1h-1zM170 846h1v1h-1zM178 846h3v1h-3zM198 846h1v1h-1zM223 846h2v1h-2zM248 846h1v1h-1zM305 846h1v1h-1zM313 846h3v1h-3zM329 846h2v1h-2zM356 846h1v1h-1zM510 846h2v1h-2zM603 846h2v1h-2zM1062 846h2v1h-2zM1110 846h1v1h-1zM1217 846h1v1h-1zM1267 846h1v1h-1zM1283 846h1v1h-1zM1300 846h1v1h-1zM1359 846h1v1h-1zM111 847h1v1h-1zM157 847h1v1h-1zM169 847h1v1h-1zM181 847h4v1h-4zM198 847h1v1h-1zM225 847h2v1h-2zM247 847h1v1h-1zM306 847h1v1h-1zM309 847h4v1h-4zM316 847h2v1h-2zM327 847h2v1h-2zM357 847h1v1h-1zM508 847h2v1h-2zM1064 847h2v1h-2zM1108 847h2v1h-2zM1217 847h1v1h-1zM1266 847h1v1h-1zM1284 847h2v1h-2zM1299 847h1v1h-1zM1360 847h1v1h-1zM59 848h2v1h-2zM109 848h2v1h-2zM158 848h1v1h-1zM169 848h1v1h-1zM185 848h3v1h-3zM197 848h1v1h-1zM227 848h1v1h-1zM246 848h1v1h-1zM307 848h2v1h-2zM318 848h2v1h-2zM326 848h1v1h-1zM358 848h1v1h-1zM507 848h1v1h-1zM1066 848h2v1h-2zM1107 848h1v1h-1zM1218 848h1v1h-1zM1266 848h1v1h-1zM1286 848h2v1h-2zM1297 848h3v1h-3zM1360 848h1v1h-1zM58 849h1v1h-1zM61 849h2v1h-2zM108 849h1v1h-1zM158 849h1v1h-1zM168 849h1v1h-1zM188 849h2v1h-2zM197 849h1v1h-1zM228 849h2v1h-2zM246 849h1v1h-1zM320 849h2v1h-2zM324 849h2v1h-2zM359 849h1v1h-1zM505 849h2v1h-2zM1067 849h1v1h-1zM1107 849h1v1h-1zM1218 849h1v1h-1zM1265 849h1v1h-1zM1288 849h2v1h-2zM1293 849h4v1h-4zM1360 849h1v1h-1zM57 850h1v1h-1zM63 850h3v1h-3zM106 850h2v1h-2zM159 850h1v1h-1zM168 850h1v1h-1zM190 850h2v1h-2zM196 850h1v1h-1zM230 850h1v1h-1zM245 850h1v1h-1zM322 850h2v1h-2zM359 850h1v1h-1zM503 850h2v1h-2zM1068 850h1v1h-1zM1106 850h1v1h-1zM1219 850h4v1h-4zM1265 850h1v1h-1zM1290 850h3v1h-3zM1361 850h1v1h-1zM56 851h1v1h-1zM66 851h3v1h-3zM103 851h3v1h-3zM159 851h1v1h-1zM167 851h1v1h-1zM192 851h2v1h-2zM196 851h1v1h-1zM231 851h2v1h-2zM244 851h1v1h-1zM360 851h1v1h-1zM378 851h2v1h-2zM502 851h1v1h-1zM1068 851h1v1h-1zM1106 851h1v1h-1zM1223 851h6v1h-6zM1264 851h1v1h-1zM1361 851h1v1h-1zM55 852h1v1h-1zM69 852h4v1h-4zM101 852h2v1h-2zM160 852h1v1h-1zM167 852h1v1h-1zM194 852h2v1h-2zM233 852h2v1h-2zM244 852h1v1h-1zM361 852h1v1h-1zM376 852h2v1h-2zM379 852h1v1h-1zM500 852h2v1h-2zM1068 852h1v1h-1zM1105 852h1v1h-1zM1229 852h2v1h-2zM1264 852h1v1h-1zM1361 852h1v1h-1zM55 853h1v1h-1zM73 853h11v1h-11zM98 853h3v1h-3zM160 853h1v1h-1zM166 853h1v1h-1zM235 853h9v1h-9zM362 853h1v1h-1zM374 853h2v1h-2zM380 853h1v1h-1zM495 853h5v1h-5zM1069 853h1v1h-1zM1105 853h1v1h-1zM1231 853h3v1h-3zM1264 853h1v1h-1zM1362 853h1v1h-1zM54 854h1v1h-1zM84 854h2v1h-2zM96 854h2v1h-2zM161 854h1v1h-1zM166 854h1v1h-1zM363 854h4v1h-4zM372 854h2v1h-2zM380 854h1v1h-1zM490 854h5v1h-5zM1069 854h1v1h-1zM1104 854h1v1h-1zM1234 854h3v1h-3zM1250 854h2v1h-2zM1263 854h1v1h-1zM1362 854h1v1h-1zM53 855h1v1h-1zM86 855h2v1h-2zM94 855h2v1h-2zM161 855h1v1h-1zM165 855h1v1h-1zM367 855h5v1h-5zM381 855h1v1h-1zM488 855h2v1h-2zM1070 855h1v1h-1zM1104 855h1v1h-1zM1237 855h2v1h-2zM1247 855h3v1h-3zM1252 855h1v1h-1zM1263 855h1v1h-1zM1363 855h1v1h-1zM0 856h1v1h-1zM52 856h1v1h-1zM88 856h2v1h-2zM92 856h2v1h-2zM162 856h1v1h-1zM165 856h1v1h-1zM381 856h1v1h-1zM486 856h2v1h-2zM1070 856h1v1h-1zM1103 856h1v1h-1zM1239 856h3v1h-3zM1245 856h2v1h-2zM1253 856h1v1h-1zM1262 856h1v1h-1zM1363 856h1v1h-1zM1 857h3v1h-3zM42 857h10v1h-10zM90 857h2v1h-2zM162 857h1v1h-1zM164 857h1v1h-1zM382 857h1v1h-1zM484 857h2v1h-2zM1070 857h1v1h-1zM1103 857h1v1h-1zM1242 857h3v1h-3zM1253 857h1v1h-1zM1262 857h1v1h-1zM1364 857h1v1h-1zM4 858h2v1h-2zM40 858h2v1h-2zM163 858h2v1h-2zM382 858h1v1h-1zM483 858h1v1h-1zM1071 858h1v1h-1zM1102 858h1v1h-1zM1254 858h1v1h-1zM1262 858h1v1h-1zM1364 858h1v1h-1zM6 859h2v1h-2zM17 859h3v1h-3zM38 859h2v1h-2zM163 859h1v1h-1zM383 859h1v1h-1zM481 859h2v1h-2zM1071 859h1v1h-1zM1102 859h1v1h-1zM1255 859h1v1h-1zM1261 859h1v1h-1zM1365 859h1v1h-1zM8 860h2v1h-2zM13 860h4v1h-4zM20 860h2v1h-2zM36 860h2v1h-2zM383 860h1v1h-1zM451 860h2v1h-2zM480 860h1v1h-1zM1071 860h1v1h-1zM1101 860h1v1h-1zM1256 860h1v1h-1zM1261 860h1v1h-1zM1366 860h1v1h-1zM10 861h3v1h-3zM22 861h2v1h-2zM33 861h3v1h-3zM384 861h1v1h-1zM450 861h1v1h-1zM453 861h4v1h-4zM479 861h1v1h-1zM1072 861h1v1h-1zM1101 861h1v1h-1zM1257 861h1v1h-1zM1260 861h1v1h-1zM1367 861h1v1h-1zM24 862h2v1h-2zM29 862h4v1h-4zM384 862h1v1h-1zM450 862h1v1h-1zM457 862h4v1h-4zM477 862h2v1h-2zM1072 862h1v1h-1zM1100 862h1v1h-1zM1257 862h1v1h-1zM1260 862h1v1h-1zM1367 862h1v1h-1zM26 863h3v1h-3zM385 863h1v1h-1zM449 863h1v1h-1zM461 863h4v1h-4zM476 863h1v1h-1zM1072 863h1v1h-1zM1100 863h1v1h-1zM1258 863h2v1h-2zM1368 863h1v1h-1zM385 864h1v1h-1zM449 864h1v1h-1zM465 864h11v1h-11zM1073 864h1v1h-1zM1099 864h1v1h-1zM1259 864h1v1h-1zM1369 864h1v1h-1zM386 865h1v1h-1zM448 865h1v1h-1zM1073 865h1v1h-1zM1097 865h3v1h-3zM1370 865h1v1h-1zM1377 865h11v1h-11zM386 866h1v1h-1zM435 866h1v1h-1zM447 866h1v1h-1zM1074 866h1v1h-1zM1093 866h4v1h-4zM1370 866h1v1h-1zM1373 866h4v1h-4zM387 867h1v1h-1zM434 867h1v1h-1zM436 867h1v1h-1zM447 867h1v1h-1zM1074 867h1v1h-1zM1082 867h11v1h-11zM1371 867h2v1h-2zM387 868h1v1h-1zM434 868h1v1h-1zM437 868h1v1h-1zM446 868h1v1h-1zM1074 868h1v1h-1zM1079 868h3v1h-3zM388 869h1v1h-1zM433 869h1v1h-1zM438 869h1v1h-1zM445 869h1v1h-1zM1075 869h1v1h-1zM1077 869h2v1h-2zM388 870h1v1h-1zM432 870h1v1h-1zM439 870h2v1h-2zM445 870h1v1h-1zM1075 870h2v1h-2zM389 871h1v1h-1zM432 871h1v1h-1zM441 871h1v1h-1zM444 871h1v1h-1zM389 872h1v1h-1zM431 872h1v1h-1zM442 872h1v1h-1zM444 872h1v1h-1zM390 873h1v1h-1zM430 873h1v1h-1zM443 873h1v1h-1zM390 874h1v1h-1zM430 874h1v1h-1zM391 875h1v1h-1zM429 875h1v1h-1zM392 876h1v1h-1zM428 876h1v1h-1zM392 877h1v1h-1zM428 877h1v1h-1zM393 878h1v1h-1zM427 878h1v1h-1zM393 879h1v1h-1zM425 879h2v1h-2zM394 880h1v1h-1zM424 880h1v1h-1zM394 881h1v1h-1zM423 881h1v1h-1zM395 882h2v1h-2zM421 882h2v1h-2zM397 883h2v1h-2zM420 883h1v1h-1zM399 884h3v1h-3zM417 884h3v1h-3zM402 885h5v1h-5zM413 885h4v1h-4zM407 886h6v1h-6z"/>
</g>
<g stroke="#ff0000" stroke-width="3" fill="none" shape-rendering="crispEdges"><line x1="1343.5" y1="829.5" x2="1401" y2="875"/></g><polygon points="1394.6,876.8 1400.9,868.6 1407.4,880.4" fill="#ff0000"/>
<g shape-rendering="crispEdges" stroke="#000">
<line x1="1655" y1="48.5" x2="1657" y2="48.5"/>
<line x1="1655" y1="81.5" x2="1657" y2="81.5"/>
<line x1="1655" y1="114.5" x2="1657" y2="114.5"/>
<line x1="1655" y1="147.5" x2="1657" y2="147.5"/>
<line x1="1655" y1="180.5" x2="1657" y2="180.5"/>
<line x1="1655" y1="213.5" x2="1657" y2="213.5"/>
<line x1="1655" y1="246.5" x2="1657" y2="246.5"/>
<line x1="1655" y1="279.5" x2="1657" y2="279.5"/>
<line x1="1655" y1="312.5" x2="1657" y2="312.5"/>
<line x1="1655" y1="345.5" x2="1657" y2="345.5"/>
<line x1="1655" y1="378.5" x2="1657" y2="378.5"/>
<line x1="1655" y1="411.5" x2="1657" y2="411.5"/>
<line x1="1655" y1="444.5" x2="1657" y2="444.5"/>
<line x1="1655" y1="477.5" x2="1657" y2="477.5"/>
<line x1="1655" y1="510.5" x2="1657" y2="510.5"/>
<line x1="1655" y1="543.5" x2="1657" y2="543.5"/>
<line x1="1655" y1="576.5" x2="1657" y2="576.5"/>
<line x1="1655" y1="583.5" x2="1657" y2="583.5"/>
<line x1="1655" y1="667.5" x2="1657" y2="667.5"/>
<line x1="1655" y1="750.5" x2="1657" y2="750.5"/>
<line x1="1655" y1="755.5" x2="1657" y2="755.5"/>
<line x1="1655" y1="789.5" x2="1657" y2="789.5"/>
<line x1="1655" y1="840.5" x2="1657" y2="840.5"/>
<line x1="1655" y1="901.5" x2="1657" y2="901.5"/>
<line x1="1655" y1="927.5" x2="1657" y2="927.5"/>
</g>
<text transform="translate(1659.3,52) scale(0.93,1)" font-family="Liberation Sans, Arial, sans-serif" font-size="10" fill="#000" >1.07905</text>
<text transform="translate(1659.3,85) scale(0.93,1)" font-family="Liberation Sans, Arial, sans-serif" font-size="10" fill="#000" >1.07620</text>
<text transform="translate(1659.3,118) scale(0.93,1)" font-family="Liberation Sans, Arial, sans-serif" font-size="10" fill="#000" >1.07340</text>
<text transform="translate(1659.3,151) scale(0.93,1)" font-family="Liberation Sans, Arial, sans-serif" font-size="10" fill="#000" >1.07060</text>
<text transform="translate(1659.3,184) scale(0.93,1)" font-family="Liberation Sans, Arial, sans-serif" font-size="10" fill="#000" >1.06775</text>
<text transform="translate(1659.3,217) scale(0.93,1)" font-family="Liberation Sans, Arial, sans-serif" font-size="10" fill="#000" >1.06495</text>
<text transform="translate(1659.3,250) scale(0.93,1)" font-family="Liberation Sans, Arial, sans-serif" font-size="10" fill="#000" >1.06215</text>
<text transform="translate(1659.3,283) scale(0.93,1)" font-family="Liberation Sans, Arial, sans-serif" font-size="10" fill="#000" >1.05935</text>
<text transform="translate(1659.3,316) scale(0.93,1)" font-family="Liberation Sans, Arial, sans-serif" font-size="10" fill="#000" >1.05655</text>
<text transform="translate(1659.3,349) scale(0.93,1)" font-family="Liberation Sans, Arial, sans-serif" font-size="10" fill="#000" >1.05370</text>
<text transform="translate(1659.3,382) scale(0.93,1)" font-family="Liberation Sans, Arial, sans-serif" font-size="10" fill="#000" >1.05090</text>
<text transform="translate(1659.3,415) scale(0.93,1)" font-family="Liberation Sans, Arial, sans-serif" font-size="10" fill="#000" >1.04805</text>
<text transform="translate(1659.3,448) scale(0.93,1)" font-family="Liberation Sans, Arial, sans-serif" font-size="10" fill="#000" >1.04525</text>
<text transform="translate(1659.3,481) scale(0.93,1)" font-family="Liberation Sans, Arial, sans-serif" font-size="10" fill="#000" >1.04245</text>
<text transform="translate(1659.3,514) scale(0.93,1)" font-family="Liberation Sans, Arial, sans-serif" font-size="10" fill="#000" >1.03965</text>
<text transform="translate(1659.3,547) scale(0.93,1)" font-family="Liberation Sans, Arial, sans-serif" font-size="10" fill="#000" >1.03680</text>
<text transform="translate(1659.3,580) scale(0.93,1)" font-family="Liberation Sans, Arial, sans-serif" font-size="10" fill="#000" >1.03400</text>
<text transform="translate(1657.3,592) scale(0.93,1)" font-family="Liberation Sans, Arial, sans-serif" font-size="10" fill="#000" >0.006278</text>
<text transform="translate(1657.3,671.5) scale(0.93,1)" font-family="Liberation Sans, Arial, sans-serif" font-size="10" fill="#000" >0.00</text>
<text transform="translate(1657.3,748) scale(0.93,1)" font-family="Liberation Sans, Arial, sans-serif" font-size="10" fill="#000" >-0.006252</text>
<text transform="translate(1657.3,764) scale(0.93,1)" font-family="Liberation Sans, Arial, sans-serif" font-size="10" fill="#000" >100</text>
<text transform="translate(1657.3,793.3) scale(0.93,1)" font-family="Liberation Sans, Arial, sans-serif" font-size="10" fill="#000" >80</text>
<text transform="translate(1657.3,844.2) scale(0.93,1)" font-family="Liberation Sans, Arial, sans-serif" font-size="10" fill="#000" >50</text>
<text transform="translate(1657.3,905) scale(0.93,1)" font-family="Liberation Sans, Arial, sans-serif" font-size="10" fill="#000" >15</text>
<text transform="translate(1657.3,924) scale(0.93,1)" font-family="Liberation Sans, Arial, sans-serif" font-size="10" fill="#000" >0</text>
<rect x="1656" y="168" width="41" height="11" fill="#ff0000"/><text transform="translate(1659.3,178) scale(0.93,1)" font-family="Liberation Sans, Arial, sans-serif" font-size="10" fill="#fff" >1.06828</text>
<rect x="1656" y="200" width="41" height="11" fill="#ff0000"/><text transform="translate(1659.3,210) scale(0.93,1)" font-family="Liberation Sans, Arial, sans-serif" font-size="10" fill="#fff" >1.06556</text>
<rect x="1656" y="233" width="41" height="11" fill="#ffa500"/><text transform="translate(1659.3,243) scale(0.93,1)" font-family="Liberation Sans, Arial, sans-serif" font-size="10" fill="#fff" >1.06275</text>
<rect x="1656" y="247" width="41" height="11" fill="#000000"/><text transform="translate(1659.3,257) scale(0.93,1)" font-family="Liberation Sans, Arial, sans-serif" font-size="10" fill="#fff" >1.06165</text>
<rect x="1656" y="279" width="41" height="11" fill="#0000ff"/><text transform="translate(1659.3,289) scale(0.93,1)" font-family="Liberation Sans, Arial, sans-serif" font-size="10" fill="#fff" >1.05883</text>
<rect x="1656" y="309" width="41" height="11" fill="#0000ff"/><text transform="translate(1659.3,319) scale(0.93,1)" font-family="Liberation Sans, Arial, sans-serif" font-size="10" fill="#fff" >1.05628</text>
<g shape-rendering="crispEdges" stroke="#000">
<line x1="-4.5" y1="928" x2="-4.5" y2="931"/>
<line x1="59.5" y1="928" x2="59.5" y2="931"/>
<line x1="123.5" y1="928" x2="123.5" y2="931"/>
<line x1="187.5" y1="928" x2="187.5" y2="931"/>
<line x1="251.5" y1="928" x2="251.5" y2="931"/>
<line x1="315.5" y1="928" x2="315.5" y2="931"/>
<line x1="379.5" y1="928" x2="379.5" y2="931"/>
<line x1="443.5" y1="928" x2="443.5" y2="931"/>
<line x1="507.5" y1="928" x2="507.5" y2="931"/>
<line x1="571.5" y1="928" x2="571.5" y2="931"/>
<line x1="635.5" y1="928" x2="635.5" y2="931"/>
<line x1="699.5" y1="928" x2="699.5" y2="931"/>
<line x1="763.5" y1="928" x2="763.5" y2="931"/>
<line x1="827.5" y1="928" x2="827.5" y2="931"/>
<line x1="891.5" y1="928" x2="891.5" y2="931"/>
<line x1="955.5" y1="928" x2="955.5" y2="931"/>
<line x1="1019.5" y1="928" x2="1019.5" y2="931"/>
<line x1="1083.5" y1="928" x2="1083.5" y2="931"/>
<line x1="1147.5" y1="928" x2="1147.5" y2="931"/>
<line x1="1211.5" y1="928" x2="1211.5" y2="931"/>
<line x1="1275.5" y1="928" x2="1275.5" y2="931"/>
<line x1="1339.5" y1="928" x2="1339.5" y2="931"/>
</g>
<text transform="translate(-6.3,940) scale(0.955,1)" font-family="Liberation Sans, Arial, sans-serif" font-size="10" fill="#000" >2 May 2022</text>
<text transform="translate(57.7,940) scale(0.955,1)" font-family="Liberation Sans, Arial, sans-serif" font-size="10" fill="#000" >3 May 08:00</text>
<text transform="translate(121.7,940) scale(0.955,1)" font-family="Liberation Sans, Arial, sans-serif" font-size="10" fill="#000" >4 May 16:00</text>
<text transform="translate(185.7,940) scale(0.955,1)" font-family="Liberation Sans, Arial, sans-serif" font-size="10" fill="#000" >6 May 00:00</text>
<text transform="translate(249.7,940) scale(0.955,1)" font-family="Liberation Sans, Arial, sans-serif" font-size="10" fill="#000" >9 May 08:00</text>
<text transform="translate(313.7,940) scale(0.955,1)" font-family="Liberation Sans, Arial, sans-serif" font-size="10" fill="#000" >10 May 16:00</text>
<text transform="translate(377.7,940) scale(0.955,1)" font-family="Liberation Sans, Arial, sans-serif" font-size="10" fill="#000" >12 May 00:00</text>
<text transform="translate(441.7,940) scale(0.955,1)" font-family="Liberation Sans, Arial, sans-serif" font-size="10" fill="#000" >13 May 08:00</text>
<text transform="translate(505.7,940) scale(0.955,1)" font-family="Liberation Sans, Arial, sans-serif" font-size="10" fill="#000" >16 May 16:00</text>
<text transform="translate(569.7,940) scale(0.955,1)" font-family="Liberation Sans, Arial, sans-serif" font-size="10" fill="#000" >18 May 00:00</text>
<text transform="translate(633.7,940) scale(0.955,1)" font-family="Liberation Sans, Arial, sans-serif" font-size="10" fill="#000" >19 May 08:00</text>
<text transform="translate(697.7,940) scale(0.955,1)" font-family="Liberation Sans, Arial, sans-serif" font-size="10" fill="#000" >20 May 16:00</text>
<text transform="translate(761.7,940) scale(0.955,1)" font-family="Liberation Sans, Arial, sans-serif" font-size="10" fill="#000" >24 May 00:00</text>
<text transform="translate(825.7,940) scale(0.955,1)" font-family="Liberation Sans, Arial, sans-serif" font-size="10" fill="#000" >25 May 08:00</text>
<text transform="translate(889.7,940) scale(0.955,1)" font-family="Liberation Sans, Arial, sans-serif" font-size="10" fill="#000" >26 May 16:00</text>
<text transform="translate(953.7,940) scale(0.955,1)" font-family="Liberation Sans, Arial, sans-serif" font-size="10" fill="#000" >30 May 00:00</text>
<text transform="translate(1017.7,940) scale(0.955,1)" font-family="Liberation Sans, Arial, sans-serif" font-size="10" fill="#000" >31 May 08:00</text>
<text transform="translate(1081.7,940) scale(0.955,1)" font-family="Liberation Sans, Arial, sans-serif" font-size="10" fill="#000" >1 Jun 16:00</text>
<text transform="translate(1145.7,940) scale(0.955,1)" font-family="Liberation Sans, Arial, sans-serif" font-size="10" fill="#000" >3 Jun 00:00</text>
<text transform="translate(1209.7,940) scale(0.955,1)" font-family="Liberation Sans, Arial, sans-serif" font-size="10" fill="#000" >6 Jun 08:00</text>
<text transform="translate(1273.7,940) scale(0.955,1)" font-family="Liberation Sans, Arial, sans-serif" font-size="10" fill="#000" >7 Jun 16:00</text>
<text transform="translate(1337.7,940) scale(0.955,1)" font-family="Liberation Sans, Arial, sans-serif" font-size="10" fill="#000" >9 Jun 00:00</text>
<text transform="translate(-0.3,594) scale(0.923,1)" font-family="Liberation Sans, Arial, sans-serif" font-size="10" fill="#000" >MACD(12,26,9) -0.001844 -0.000413</text>
<text transform="translate(-0.6,766) scale(0.91,1)" font-family="Liberation Sans, Arial, sans-serif" font-size="10" fill="#000" >RSI(14) 35.7537</text>
<text transform="translate(9.6,38) scale(0.945,1)" font-family="Liberation Sans, Arial, sans-serif" font-size="10" fill="#000" >EURUSD-,H4</text><text transform="translate(72.8,38) scale(0.92,1)" font-family="Liberation Sans, Arial, sans-serif" font-size="10" fill="#000" >1.06166 1.06180 1.06162 1.06165</text>
<path d="M0,37 L3,32 L6,37 Z" fill="#000"/>
<rect x="1700" y="24" width="1" height="919" fill="#e3e3e3"/>
<defs><linearGradient id="rtop" x1="0" y1="0" x2="0" y2="1"><stop offset="0" stop-color="#f65454"/><stop offset="1" stop-color="#dc2a2a"/></linearGradient><linearGradient id="rbot" x1="0" y1="0" x2="0" y2="1"><stop offset="0" stop-color="#d62626"/><stop offset="1" stop-color="#b00208"/></linearGradient><linearGradient id="btn" x1="0" y1="0" x2="0" y2="1"><stop offset="0" stop-color="#f2f2f2"/><stop offset=".45" stop-color="#e8e8e8"/><stop offset=".5" stop-color="#d8d8d8"/><stop offset="1" stop-color="#d0d0d0"/></linearGradient></defs>
<rect x="0" y="46" width="50" height="25" fill="url(#rtop)"/>
<path d="M0,46.5 H49.5 V70" fill="none" stroke="#b80000" shape-rendering="crispEdges"/>
<rect x="165" y="46" width="52" height="25" fill="url(#rtop)"/>
<path d="M165.5,70 V46.5 H216.5 V70" fill="none" stroke="#b80000" shape-rendering="crispEdges"/>
<rect x="0" y="70" width="107" height="33" fill="url(#rbot)"/>
<path d="M0,70.5 H106.5 V102.5 H0" fill="none" stroke="#a00000" shape-rendering="crispEdges"/>
<rect x="109" y="70" width="108" height="33" fill="url(#rbot)"/>
<path d="M109.5,70 V102.5 H216.5 V70" fill="none" stroke="#a00000" shape-rendering="crispEdges"/>
<rect x="109" y="70" width="57" height="1" fill="#a00000"/>
<rect x="2" y="69" width="44" height="1" fill="#9a0000"/><rect x="2" y="70" width="44" height="1" fill="#e86060"/>
<rect x="169" y="69" width="44" height="1" fill="#9a0000"/><rect x="169" y="70" width="44" height="1" fill="#e86060"/>
<rect x="52.5" y="46.5" width="110" height="21" fill="#fff" stroke="#a4a8ae" shape-rendering="crispEdges"/>
<rect x="53.5" y="47.5" width="19" height="19" fill="url(#btn)" stroke="#c8c8c8" shape-rendering="crispEdges"/>
<rect x="142.5" y="47.5" width="19" height="19" fill="url(#btn)" stroke="#c8c8c8" shape-rendering="crispEdges"/>
<rect x="73" y="47" width="1" height="20" fill="#a4a8ae"/><rect x="141" y="47" width="1" height="20" fill="#a4a8ae"/>
<path d="M59.5,55.5 h5.5 l-2.75,3 z" fill="#4a5ad0"/>
<path d="M149.2,58.5 h5.5 l-2.75,-3 z" fill="#4a5ad0"/>
<text x="114.8" y="61" font-family="Liberation Sans, Arial, sans-serif" font-size="12" fill="#000" textLength="22.7" lengthAdjust="spacingAndGlyphs">1.00</text>
<text x="10.5" y="62" font-family="Liberation Sans, Arial, sans-serif" font-size="12.2" fill="#fff" textLength="25.5" lengthAdjust="spacingAndGlyphs">SELL</text>
<text x="178.8" y="62" font-family="Liberation Sans, Arial, sans-serif" font-size="12.2" fill="#fff" textLength="23.1" lengthAdjust="spacingAndGlyphs">BUY</text>
<text x="18.5" y="98.1" font-family="Liberation Sans, Arial, sans-serif" font-size="12.6" font-weight="bold" fill="#fff" textLength="23.5" lengthAdjust="spacingAndGlyphs">1.06</text>
<text x="47.2" y="98.1" font-family="Liberation Sans, Arial, sans-serif" font-size="33" fill="#fff" textLength="33.2" lengthAdjust="spacingAndGlyphs">16</text>
<text x="85.4" y="82" font-family="Liberation Sans, Arial, sans-serif" font-size="12.2" font-weight="bold" fill="#fff" textLength="5.9" lengthAdjust="spacingAndGlyphs">5</text>
<text x="128.4" y="98.1" font-family="Liberation Sans, Arial, sans-serif" font-size="12.6" font-weight="bold" fill="#fff" textLength="23.5" lengthAdjust="spacingAndGlyphs">1.06</text>
<text x="158.2" y="98.1" font-family="Liberation Sans, Arial, sans-serif" font-size="33" fill="#fff" textLength="33.2" lengthAdjust="spacingAndGlyphs">19</text>
<text x="196.7" y="82" font-family="Liberation Sans, Arial, sans-serif" font-size="12.2" font-weight="bold" fill="#fff" textLength="5.9" lengthAdjust="spacingAndGlyphs">1</text>
</svg>
<svg width="1701" height="24" viewBox="0 0 1701 24" style="position:absolute;left:0;top:0">
<defs><linearGradient id="gold" x1="0" y1="0" x2="0" y2="1"><stop offset="0" stop-color="#f5d44a"/><stop offset="1" stop-color="#c08a10"/></linearGradient><linearGradient id="gplus" x1="0" y1="0" x2="0" y2="1"><stop offset="0" stop-color="#3dff3d"/><stop offset="1" stop-color="#00b000"/></linearGradient><linearGradient id="blu" x1="0" y1="0" x2="0" y2="1"><stop offset="0" stop-color="#5ab4ff"/><stop offset="1" stop-color="#0a6ad8"/></linearGradient><radialGradient id="clk" cx=".45" cy=".4" r=".6"><stop offset="0" stop-color="#fff"/><stop offset=".6" stop-color="#dbe8f8"/><stop offset="1" stop-color="#1b5fc0"/></radialGradient><radialGradient id="badge" cx=".5" cy=".3" r=".7"><stop offset="0" stop-color="#ec5a38"/><stop offset="1" stop-color="#d41e0c"/></radialGradient></defs>
<rect x="0" y="0" width="1701" height="22" fill="#f0f0f0"/>
<rect x="0" y="22" width="1701" height="1" fill="#a8a8a8"/><rect x="0" y="23" width="1701" height="1" fill="#6a6a6a"/>
<circle cx="0" cy="8" r="4.5" fill="#e6f0fa" stroke="#6a9ad0" stroke-width="1.3"/>
<line x1="3" y1="13" x2="7" y2="18" stroke="#c89a20" stroke-width="2.6" stroke-linecap="round"/>
<rect x="15" y="1" width="1" height="19" fill="#a0a0a0"/><rect x="16" y="1" width="1" height="19" fill="#ffffff"/>
<path d="M25.5,2.5 h8 l3,3 v10 h-11 z" fill="#fff" stroke="#707070"/>
<g stroke="#909090"><line x1="27" y1="6.5" x2="31" y2="6.5"/><line x1="27" y1="9.5" x2="34" y2="9.5"/><line x1="27" y1="12.5" x2="32" y2="12.5"/></g>
<path d="M32.5,8 h4 v4 h4 v4 h-4 v4 h-4 v-4 h-4 v-4 h4 z" fill="url(#gplus)" stroke="#00a000" stroke-width="1"/>
<text x="44" y="13.6" font-family="Liberation Sans, 'Noto Sans CJK SC', sans-serif" font-size="12" fill="#000">新订单</text>
<path d="M97.5,3 L107.5,9.5 L101.5,17.5 L92,11.5 Z" fill="url(#gold)" stroke="#a87010" stroke-width="1"/>
<path d="M93,13 L101.5,18.5 L107.5,11" fill="none" stroke="#c89040" stroke-width="1"/>
<rect x="122" y="2.5" width="11.5" height="9" fill="url(#blu)" stroke="#0a5cc0"/>
<rect x="126" y="5" width="6" height="1.5" fill="#fff"/><rect x="126" y="8" width="6" height="1" fill="#cfe6ff"/>
<path d="M121.5,17.5 q-1.5,-4 3,-4 q1,-3.5 5,-2.5 q3,-1.5 4.5,2 q3,0 2,4.5 z" fill="#e2e9f4" stroke="#5a78b0"/>
<path d="M156,10 L156,17.8 A7.8,7.8 0 0 0 162.8,6.2 Z" fill="#cfe8cf" opacity="0.8"/>
<g fill="none" stroke-width="1.1"><circle cx="156" cy="9.8" r="7.5" stroke="#5a86d8" opacity="0.75"/><circle cx="156" cy="9.8" r="4.6" stroke="#7a9ce0" opacity="0.6"/><path d="M156,17.3 A7.5,7.5 0 0 0 163.3,8" stroke="#3a9a4a"/><path d="M156,14.4 A4.6,4.6 0 0 0 160.5,8.8" stroke="#6ab47a"/></g>
<circle cx="156" cy="9.8" r="1.9" fill="#2a56c8"/><line x1="156.5" y1="10" x2="156.5" y2="18" stroke="#20a020" stroke-width="1.3"/>
<path d="M175.2,9 L190.8,8.6 L182.5,17.8 Z" fill="#f4dc50" stroke="#d0a820" stroke-width="0.8"/>
<path d="M175.5,7.5 Q176,5 179,5 Q179.5,2 182.5,2 Q186,2 186,5 Q190.5,5 191,7 Q189,9 183,9 Q177,9 175.5,7.5 Z" fill="#62b4ea" stroke="#2a7eb4" stroke-width="0.9"/>
<circle cx="187.4" cy="13.8" r="4" fill="#d82010" stroke="#b01000" stroke-width="0.6"/><rect x="186" y="12.4" width="2.9" height="2.9" fill="#fff"/>
<text x="197" y="13.6" font-family="Liberation Sans, 'Noto Sans CJK SC', sans-serif" font-size="12" fill="#000">自动交易</text>
<rect x="251" y="1" width="1" height="19" fill="#a0a0a0"/><rect x="252" y="1" width="1" height="19" fill="#ffffff"/>
<rect x="255" y="2" width="3" height="1" fill="#a0a0a0"/><rect x="255" y="4" width="3" height="1" fill="#a0a0a0"/><rect x="255" y="6" width="3" height="1" fill="#a0a0a0"/><rect x="255" y="8" width="3" height="1" fill="#a0a0a0"/><rect x="255" y="10" width="3" height="1" fill="#a0a0a0"/><rect x="255" y="12" width="3" height="1" fill="#a0a0a0"/><rect x="255" y="14" width="3" height="1" fill="#a0a0a0"/><rect x="255" y="16" width="3" height="1" fill="#a0a0a0"/><rect x="255" y="18" width="3" height="1" fill="#a0a0a0"/>
<g stroke="#505050" fill="none"><line x1="269.5" y1="4" x2="269.5" y2="18"/><line x1="267" y1="16.5" x2="281" y2="16.5"/><path d="M268,5.5 l1.5,-2 l1.5,2 M279.5,15 l1.5,1.5 l-1.5,1.5"/></g>
<path d="M272.5,14.5 v-4 h2 M274.5,10.5 v-3 h2" fill="none" stroke="#20a020" stroke-width="1.2"/>
<rect x="289" y="0" width="25" height="21" fill="#f6f6f6"/>
<rect x="288" y="1" width="1" height="19" fill="#a0a0a0"/><rect x="289" y="1" width="1" height="19" fill="#ffffff"/>
<g stroke="#505050" fill="none"><line x1="297.5" y1="4" x2="297.5" y2="18"/><line x1="295" y1="16.5" x2="309" y2="16.5"/><path d="M296,5.5 l1.5,-2 l1.5,2 M307.5,15 l1.5,1.5 l-1.5,1.5"/></g>
<line x1="302.5" y1="2" x2="302.5" y2="15" stroke="#20a020"/><rect x="300.5" y="4.5" width="4" height="7" fill="#20c020" stroke="#109010"/>
<g stroke="#505050" fill="none"><line x1="325.5" y1="4" x2="325.5" y2="18"/><line x1="323" y1="16.5" x2="337" y2="16.5"/><path d="M324,5.5 l1.5,-2 l1.5,2 M335.5,15 l1.5,1.5 l-1.5,1.5"/></g>
<path d="M325,13 L330,7 L336,11" fill="none" stroke="#20a020" stroke-width="1.2"/>
<rect x="346" y="1" width="1" height="19" fill="#a0a0a0"/><rect x="347" y="1" width="1" height="19" fill="#ffffff"/>
<circle cx="361" cy="8" r="5" fill="#e0eefc" stroke="#3a7ad8" stroke-width="1.4"/>
<line x1="358.5" y1="8" x2="363.5" y2="8" stroke="#3a7ad8" stroke-width="1.6"/>
<line x1="361" y1="5.5" x2="361" y2="10.5" stroke="#3a7ad8" stroke-width="1.6"/>
<line x1="365" y1="12" x2="369.5" y2="16.5" stroke="#d0a020" stroke-width="2.6"/>
<circle cx="389" cy="8" r="5" fill="#e0eefc" stroke="#3a7ad8" stroke-width="1.4"/>
<line x1="386.5" y1="8" x2="391.5" y2="8" stroke="#3a7ad8" stroke-width="1.6"/>
<line x1="393" y1="12" x2="397.5" y2="16.5" stroke="#d0a020" stroke-width="2.6"/>
<rect x="411" y="2" width="8" height="7.5" fill="#3ab03a"/><rect x="419.5" y="2" width="8" height="7.5" fill="#2a6ad8"/><rect x="411" y="10" width="8" height="7.5" fill="#2a6ad8"/><rect x="419.5" y="10" width="8" height="7.5" fill="#3ab03a"/><g fill="#fff"><rect x="412.5" y="5" width="5" height="2"/><rect x="421" y="5" width="5" height="2"/><rect x="412.5" y="13" width="5" height="2"/><rect x="421" y="13" width="5" height="2"/></g>
<rect x="436" y="1" width="1" height="19" fill="#a0a0a0"/><rect x="437" y="1" width="1" height="19" fill="#ffffff"/>
<rect x="441" y="0" width="25" height="21" fill="#f6f6f6"/>
<g stroke="#505050" fill="none"><line x1="449.5" y1="4" x2="449.5" y2="18"/><line x1="447" y1="16.5" x2="461" y2="16.5"/><path d="M448,5.5 l1.5,-2 l1.5,2 M459.5,15 l1.5,1.5 l-1.5,1.5"/></g>
<path d="M455,5 L459,8 L455,11 Z" fill="#20b020"/>
<rect x="469" y="1" width="1" height="19" fill="#a0a0a0"/><rect x="470" y="1" width="1" height="19" fill="#ffffff"/>
<rect x="471" y="0" width="23" height="21" fill="#f6f6f6"/>
<g stroke="#505050" fill="none"><line x1="477.5" y1="4" x2="477.5" y2="18"/><line x1="475" y1="16.5" x2="489" y2="16.5"/><path d="M476,5.5 l1.5,-2 l1.5,2 M487.5,15 l1.5,1.5 l-1.5,1.5"/></g>
<line x1="484.5" y1="3" x2="484.5" y2="13" stroke="#2a5fd0"/><path d="M483,8 L488,5.5 L488,10.5 Z" fill="#d83010"/>
<rect x="498" y="1" width="1" height="19" fill="#a0a0a0"/><rect x="499" y="1" width="1" height="19" fill="#ffffff"/>
<path d="M508.5,2.5 h7 l2,2 v9 h-9 z" fill="#fff" stroke="#707070"/><path d="M511.5,4.5 h7 l2,2 v9 h-9 z" fill="#fff" stroke="#707070"/>
<path d="M515.5,10.5 h3 v3 h3 v3 h-3 v3 h-3 v-3 h-3 v-3 h3 z" fill="url(#gplus)" stroke="#00a000"/>
<path d="M530,9 h5 l-2.5,3 z" fill="#000"/>
<circle cx="554" cy="10" r="7.5" fill="url(#clk)" stroke="#1b5fc0" stroke-width="1.2"/><path d="M554,5.5 V10 H557.5" fill="none" stroke="#333" stroke-width="1"/>
<path d="M568.5,9 h5 l-2.5,3 z" fill="#000"/>
<rect x="585.5" y="3.5" width="16" height="13" fill="#fff" stroke="#3a6ab0"/><rect x="586" y="4" width="15" height="3" fill="#5a8ad0"/><path d="M587,10 l3,-1 l3,1 l3,-2 l4,1" fill="none" stroke="#d03020"/><path d="M587,14 l3,-1 l3,1 l3,-2 l4,1" fill="none" stroke="#20a020"/>
<path d="M608,9 h5 l-2.5,3 z" fill="#000"/>
<rect x="620" y="2" width="3" height="1" fill="#a0a0a0"/><rect x="620" y="4" width="3" height="1" fill="#a0a0a0"/><rect x="620" y="6" width="3" height="1" fill="#a0a0a0"/><rect x="620" y="8" width="3" height="1" fill="#a0a0a0"/><rect x="620" y="10" width="3" height="1" fill="#a0a0a0"/><rect x="620" y="12" width="3" height="1" fill="#a0a0a0"/><rect x="620" y="14" width="3" height="1" fill="#a0a0a0"/><rect x="620" y="16" width="3" height="1" fill="#a0a0a0"/><rect x="620" y="18" width="3" height="1" fill="#a0a0a0"/>
<rect x="628" y="1" width="1" height="19" fill="#a0a0a0"/><rect x="629" y="1" width="1" height="19" fill="#ffffff"/>
<rect x="630" y="0" width="25" height="21" fill="#f6f6f6"/>
<path d="M637.5,3.5 L637.5,15 L640.5,12.5 L643,17 L645,16 L642.5,11.5 L646,11 Z" fill="#303030"/>
<g stroke="#505050"><line x1="669.5" y1="3" x2="669.5" y2="18"/><line x1="662" y1="10.5" x2="677" y2="10.5"/></g>
<rect x="686" y="1" width="1" height="19" fill="#a0a0a0"/><rect x="687" y="1" width="1" height="19" fill="#ffffff"/>
<line x1="703.5" y1="5" x2="703.5" y2="16" stroke="#404040"/>
<line x1="726" y1="10.5" x2="738" y2="10.5" stroke="#404040"/>
<line x1="753.5" y1="16.5" x2="766" y2="4.5" stroke="#505050"/>
<g stroke="#505050" fill="none"><path d="M780,8 h11 M780,11 h11 M780,14 h11"/><path d="M782,16 L792,4 M785,16 L794,5"/></g>
<text x="791" y="18.5" font-family="Liberation Sans, sans-serif" font-size="6" font-weight="bold" fill="#404040">E</text>
<g stroke="#606060" stroke-dasharray="1,1"><line x1="809" y1="3.5" x2="822" y2="3.5"/><line x1="809" y1="7.5" x2="822" y2="7.5"/><line x1="809" y1="11.5" x2="822" y2="11.5"/><line x1="809" y1="15.5" x2="818" y2="15.5"/></g>
<text x="819" y="18.5" font-family="Liberation Sans, sans-serif" font-size="6" font-weight="bold" fill="#404040">F</text>
<text x="839" y="15" font-family="Liberation Sans, sans-serif" font-size="12" font-weight="bold" fill="#555">A</text>
<rect x="865.5" y="3.5" width="12" height="12" fill="none" stroke="#606060" stroke-dasharray="1,1"/>
<text x="867.5" y="14" font-family="Liberation Sans, sans-serif" font-size="11" font-weight="bold" fill="#404040">T</text>
<path d="M893,6 l3,-3 l3,3 z M900,12 l3,3 l3,-3 z" fill="#303030"/><path d="M896,8 l3,4 l5,-7" fill="none" stroke="#303030" stroke-width="1.5"/>
<path d="M914,9 h5 l-2.5,3 z" fill="#000"/>
<rect x="925" y="1" width="1" height="19" fill="#a0a0a0"/><rect x="926" y="1" width="1" height="19" fill="#ffffff"/>
<rect x="929" y="2" width="3" height="1" fill="#a0a0a0"/><rect x="929" y="4" width="3" height="1" fill="#a0a0a0"/><rect x="929" y="6" width="3" height="1" fill="#a0a0a0"/><rect x="929" y="8" width="3" height="1" fill="#a0a0a0"/><rect x="929" y="10" width="3" height="1" fill="#a0a0a0"/><rect x="929" y="12" width="3" height="1" fill="#a0a0a0"/><rect x="929" y="14" width="3" height="1" fill="#a0a0a0"/><rect x="929" y="16" width="3" height="1" fill="#a0a0a0"/><rect x="929" y="18" width="3" height="1" fill="#a0a0a0"/>
<rect x="1076" y="0" width="24" height="21" fill="#f6f6f6"/><rect x="1075" y="0" width="1" height="20" fill="#a0a0a0"/>
<text x="940.6" y="14" font-family="Liberation Sans, sans-serif" font-size="9.5" fill="#404040">M1</text>
<text x="968.6" y="14" font-family="Liberation Sans, sans-serif" font-size="9.5" fill="#404040">M5</text>
<text x="994.4" y="14" font-family="Liberation Sans, sans-serif" font-size="9.5" fill="#404040">M15</text>
<text x="1022.4" y="14" font-family="Liberation Sans, sans-serif" font-size="9.5" fill="#404040">M30</text>
<text x="1053.3" y="14" font-family="Liberation Sans, sans-serif" font-size="9.5" fill="#404040">H1</text>
<text x="1080.5" y="14" font-family="Liberation Sans, sans-serif" font-size="9.5" fill="#404040">H4</text>
<text x="1109.6" y="14" font-family="Liberation Sans, sans-serif" font-size="9.5" fill="#404040">D1</text>
<text x="1137" y="14" font-family="Liberation Sans, sans-serif" font-size="9.5" fill="#404040">W1</text>
<text x="1163.6" y="14" font-family="Liberation Sans, sans-serif" font-size="9.5" fill="#404040">MN</text>
<rect x="1185" y="1" width="1" height="19" fill="#a0a0a0"/><rect x="1186" y="1" width="1" height="19" fill="#ffffff"/>
<circle cx="1656.5" cy="7.3" r="3.6" fill="#f4f6ff" stroke="#2a62d8" stroke-width="1.3"/>
<line x1="1653.5" y1="10.3" x2="1649.3" y2="14.5" stroke="#1f50c8" stroke-width="2.2" stroke-linecap="round"/>
<ellipse cx="1679" cy="12" rx="5.5" ry="4.5" fill="#e4e6ee" stroke="#9a9a9a"/><path d="M1676,15.5 L1676.5,18.5 L1679,16" fill="#e4e6ee" stroke="#9a9a9a"/>
<circle cx="1687.5" cy="7.4" r="8.2" fill="url(#badge)"/>
<text x="1687.5" y="12" text-anchor="middle" font-family="Liberation Serif, serif" font-size="14.5" font-weight="bold" fill="#fff">1</text>
</svg>
</body></html>
